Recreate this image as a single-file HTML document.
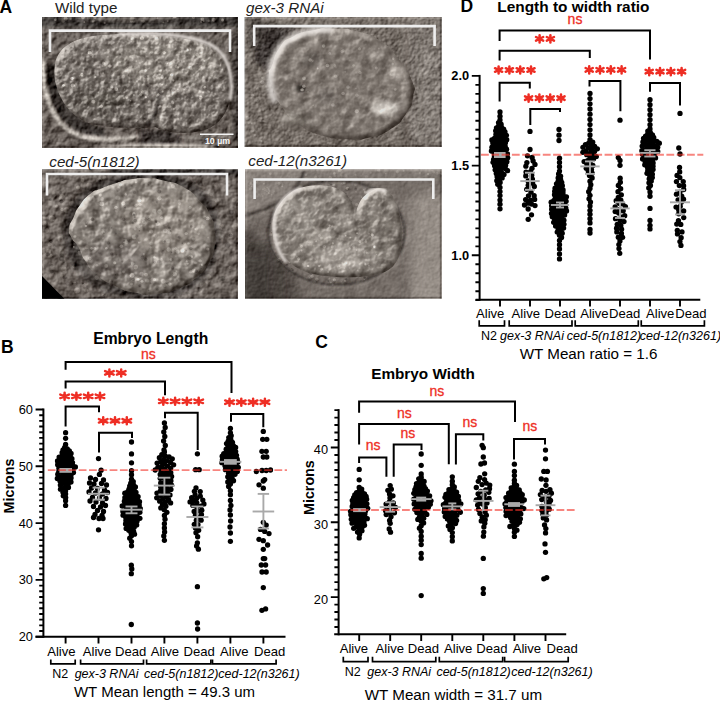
<!DOCTYPE html>
<html><head><meta charset="utf-8"><title>Embryo measurements</title>
<style>
html,body{margin:0;padding:0;background:#fff;}
body{width:720px;height:704px;overflow:hidden;}
svg{display:block;font-family:"Liberation Sans", sans-serif;}
</style></head>
<body>
<svg width="720" height="704" viewBox="0 0 720 704">
<rect width="720" height="704" fill="#fff"/>
<defs><filter id="d1" filterUnits="userSpaceOnUse" x="42" y="17" width="196" height="131" color-interpolation-filters="sRGB"><feColorMatrix in="SourceGraphic" type="luminanceToAlpha" result="lum"/><feGaussianBlur in="lum" stdDeviation="1.2" result="lumb"/><feTurbulence type="fractalNoise" baseFrequency="0.16" numOctaves="3" seed="3" result="noise"/><feComposite in="noise" in2="lumb" operator="arithmetic" k1="0" k2="0.35" k3="0.6" k4="0" result="h"/><feDiffuseLighting in="h" surfaceScale="3" diffuseConstant="1" lighting-color="#fff" result="lit"><feDistantLight azimuth="225" elevation="45"/></feDiffuseLighting><feComposite in="SourceGraphic" in2="lit" operator="arithmetic" k1="0" k2="1" k3="0.9" k4="-0.6364" result="s1"/><feTurbulence type="fractalNoise" baseFrequency="0.09" numOctaves="3" seed="53" result="mn"/><feColorMatrix in="mn" type="matrix" values="1 0 0 0 0  1 0 0 0 0  1 0 0 0 0  0 0 0 0 1" result="mg"/><feComposite in="s1" in2="mg" operator="arithmetic" k1="0" k2="1" k3="0.35" k4="-0.1750"/><feComponentTransfer><feFuncR type="linear" slope="0.88"/><feFuncG type="linear" slope="0.88"/><feFuncB type="linear" slope="0.867"/></feComponentTransfer></filter><filter id="e1" filterUnits="userSpaceOnUse" x="42" y="17" width="196" height="131" color-interpolation-filters="sRGB"><feGaussianBlur in="SourceAlpha" stdDeviation="2.5" result="ab"/><feTurbulence type="fractalNoise" baseFrequency="0.14" numOctaves="3" seed="4" result="noise"/><feComposite in="noise" in2="ab" operator="arithmetic" k1="0" k2="0.4" k3="0.7" k4="0" result="h"/><feDiffuseLighting in="h" surfaceScale="4.5" diffuseConstant="1" lighting-color="#fff" result="lit"><feDistantLight azimuth="225" elevation="40"/></feDiffuseLighting><feComponentTransfer in="lit" result="lit2"><feFuncR type="table" tableValues="0.354 0.382 0.410 0.438 0.466 0.494 0.522 0.550 0.579 0.607 0.635 0.701 0.782 0.863 0.945 1.026 1.107"/><feFuncG type="table" tableValues="0.354 0.382 0.410 0.438 0.466 0.494 0.522 0.550 0.579 0.607 0.635 0.701 0.782 0.863 0.945 1.026 1.107"/><feFuncB type="table" tableValues="0.354 0.382 0.410 0.438 0.466 0.494 0.522 0.550 0.579 0.607 0.635 0.701 0.782 0.863 0.945 1.026 1.107"/></feComponentTransfer><feFlood flood-color="#857d78" result="fl"/><feComposite in="SourceGraphic" in2="fl" operator="over" result="srcO"/><feComposite in="srcO" in2="lit2" operator="arithmetic" k1="0" k2="1" k3="1.0" k4="-0.6428" result="s1"/><feTurbulence type="fractalNoise" baseFrequency="0.12" numOctaves="3" seed="54" result="mn"/><feColorMatrix in="mn" type="matrix" values="1 0 0 0 0  1 0 0 0 0  1 0 0 0 0  0 0 0 0 1" result="mg"/><feComposite in="s1" in2="mg" operator="arithmetic" k1="0" k2="1" k3="0.5" k4="-0.2500" result="s2"/><feComponentTransfer in="s2" result="s3"><feFuncR type="linear" slope="0.88"/><feFuncG type="linear" slope="0.88"/><feFuncB type="linear" slope="0.867"/></feComponentTransfer><feComposite in="s3" in2="SourceAlpha" operator="in"/></filter><filter id="d2" filterUnits="userSpaceOnUse" x="244.6" y="17" width="197.2" height="130" color-interpolation-filters="sRGB"><feColorMatrix in="SourceGraphic" type="luminanceToAlpha" result="lum"/><feGaussianBlur in="lum" stdDeviation="1.2" result="lumb"/><feTurbulence type="fractalNoise" baseFrequency="0.3" numOctaves="3" seed="5" result="noise"/><feComposite in="noise" in2="lumb" operator="arithmetic" k1="0" k2="0.22" k3="0.6" k4="0" result="h"/><feDiffuseLighting in="h" surfaceScale="3" diffuseConstant="1" lighting-color="#fff" result="lit"><feDistantLight azimuth="225" elevation="45"/></feDiffuseLighting><feComposite in="SourceGraphic" in2="lit" operator="arithmetic" k1="0" k2="1" k3="0.9" k4="-0.6364" result="s1"/><feTurbulence type="fractalNoise" baseFrequency="0.09" numOctaves="3" seed="55" result="mn"/><feColorMatrix in="mn" type="matrix" values="1 0 0 0 0  1 0 0 0 0  1 0 0 0 0  0 0 0 0 1" result="mg"/><feComposite in="s1" in2="mg" operator="arithmetic" k1="0" k2="1" k3="0.35" k4="-0.1750"/><feComponentTransfer><feFuncR type="linear" slope="0.88"/><feFuncG type="linear" slope="0.88"/><feFuncB type="linear" slope="0.867"/></feComponentTransfer></filter><filter id="e2" filterUnits="userSpaceOnUse" x="244.6" y="17" width="197.2" height="130" color-interpolation-filters="sRGB"><feGaussianBlur in="SourceAlpha" stdDeviation="2.5" result="ab"/><feTurbulence type="fractalNoise" baseFrequency="0.09" numOctaves="3" seed="6" result="noise"/><feComposite in="noise" in2="ab" operator="arithmetic" k1="0" k2="0.2" k3="0.7" k4="0" result="h"/><feDiffuseLighting in="h" surfaceScale="4.5" diffuseConstant="1" lighting-color="#fff" result="lit"><feDistantLight azimuth="225" elevation="40"/></feDiffuseLighting><feComponentTransfer in="lit" result="lit2"><feFuncR type="table" tableValues="0.386 0.411 0.436 0.461 0.486 0.511 0.536 0.561 0.586 0.611 0.636 0.701 0.782 0.863 0.945 1.026 1.107"/><feFuncG type="table" tableValues="0.386 0.411 0.436 0.461 0.486 0.511 0.536 0.561 0.586 0.611 0.636 0.701 0.782 0.863 0.945 1.026 1.107"/><feFuncB type="table" tableValues="0.386 0.411 0.436 0.461 0.486 0.511 0.536 0.561 0.586 0.611 0.636 0.701 0.782 0.863 0.945 1.026 1.107"/></feComponentTransfer><feFlood flood-color="#8d847e" result="fl"/><feComposite in="SourceGraphic" in2="fl" operator="over" result="srcO"/><feComposite in="srcO" in2="lit2" operator="arithmetic" k1="0" k2="1" k3="1.0" k4="-0.6428" result="s1"/><feTurbulence type="fractalNoise" baseFrequency="0.1" numOctaves="3" seed="56" result="mn"/><feColorMatrix in="mn" type="matrix" values="1 0 0 0 0  1 0 0 0 0  1 0 0 0 0  0 0 0 0 1" result="mg"/><feComposite in="s1" in2="mg" operator="arithmetic" k1="0" k2="1" k3="0.4" k4="-0.2000" result="s2"/><feComponentTransfer in="s2" result="s3"><feFuncR type="linear" slope="0.88"/><feFuncG type="linear" slope="0.88"/><feFuncB type="linear" slope="0.867"/></feComponentTransfer><feComposite in="s3" in2="SourceAlpha" operator="in"/></filter><filter id="d3" filterUnits="userSpaceOnUse" x="42" y="169.2" width="196" height="129.5" color-interpolation-filters="sRGB"><feColorMatrix in="SourceGraphic" type="luminanceToAlpha" result="lum"/><feGaussianBlur in="lum" stdDeviation="1.2" result="lumb"/><feTurbulence type="fractalNoise" baseFrequency="0.11" numOctaves="3" seed="8" result="noise"/><feComposite in="noise" in2="lumb" operator="arithmetic" k1="0" k2="0.5" k3="0.6" k4="0" result="h"/><feDiffuseLighting in="h" surfaceScale="3" diffuseConstant="1" lighting-color="#fff" result="lit"><feDistantLight azimuth="225" elevation="45"/></feDiffuseLighting><feComposite in="SourceGraphic" in2="lit" operator="arithmetic" k1="0" k2="1" k3="0.9" k4="-0.6364" result="s1"/><feTurbulence type="fractalNoise" baseFrequency="0.09" numOctaves="3" seed="58" result="mn"/><feColorMatrix in="mn" type="matrix" values="1 0 0 0 0  1 0 0 0 0  1 0 0 0 0  0 0 0 0 1" result="mg"/><feComposite in="s1" in2="mg" operator="arithmetic" k1="0" k2="1" k3="0.45" k4="-0.2250"/><feComponentTransfer><feFuncR type="linear" slope="0.88"/><feFuncG type="linear" slope="0.88"/><feFuncB type="linear" slope="0.867"/></feComponentTransfer></filter><filter id="e3" filterUnits="userSpaceOnUse" x="42" y="169.2" width="196" height="129.5" color-interpolation-filters="sRGB"><feGaussianBlur in="SourceAlpha" stdDeviation="2.5" result="ab"/><feTurbulence type="fractalNoise" baseFrequency="0.075" numOctaves="3" seed="9" result="noise"/><feComposite in="noise" in2="ab" operator="arithmetic" k1="0" k2="0.5" k3="0.7" k4="0" result="h"/><feDiffuseLighting in="h" surfaceScale="4.5" diffuseConstant="1" lighting-color="#fff" result="lit"><feDistantLight azimuth="225" elevation="40"/></feDiffuseLighting><feComponentTransfer in="lit" result="lit2"><feFuncR type="table" tableValues="0.321 0.353 0.384 0.415 0.446 0.478 0.509 0.540 0.571 0.603 0.634 0.701 0.782 0.863 0.945 1.026 1.107"/><feFuncG type="table" tableValues="0.321 0.353 0.384 0.415 0.446 0.478 0.509 0.540 0.571 0.603 0.634 0.701 0.782 0.863 0.945 1.026 1.107"/><feFuncB type="table" tableValues="0.321 0.353 0.384 0.415 0.446 0.478 0.509 0.540 0.571 0.603 0.634 0.701 0.782 0.863 0.945 1.026 1.107"/></feComponentTransfer><feFlood flood-color="#958d87" result="fl"/><feComposite in="SourceGraphic" in2="fl" operator="over" result="srcO"/><feComposite in="srcO" in2="lit2" operator="arithmetic" k1="0" k2="1" k3="1.0" k4="-0.6428" result="s1"/><feTurbulence type="fractalNoise" baseFrequency="0.09" numOctaves="3" seed="59" result="mn"/><feColorMatrix in="mn" type="matrix" values="1 0 0 0 0  1 0 0 0 0  1 0 0 0 0  0 0 0 0 1" result="mg"/><feComposite in="s1" in2="mg" operator="arithmetic" k1="0" k2="1" k3="0.55" k4="-0.2750" result="s2"/><feComponentTransfer in="s2" result="s3"><feFuncR type="linear" slope="0.88"/><feFuncG type="linear" slope="0.88"/><feFuncB type="linear" slope="0.867"/></feComponentTransfer><feComposite in="s3" in2="SourceAlpha" operator="in"/></filter><filter id="d4" filterUnits="userSpaceOnUse" x="245" y="169.2" width="196.8" height="129.5" color-interpolation-filters="sRGB"><feColorMatrix in="SourceGraphic" type="luminanceToAlpha" result="lum"/><feGaussianBlur in="lum" stdDeviation="1.2" result="lumb"/><feTurbulence type="fractalNoise" baseFrequency="0.3" numOctaves="3" seed="11" result="noise"/><feComposite in="noise" in2="lumb" operator="arithmetic" k1="0" k2="0.08" k3="0.6" k4="0" result="h"/><feDiffuseLighting in="h" surfaceScale="3" diffuseConstant="1" lighting-color="#fff" result="lit"><feDistantLight azimuth="225" elevation="45"/></feDiffuseLighting><feComposite in="SourceGraphic" in2="lit" operator="arithmetic" k1="0" k2="1" k3="0.9" k4="-0.6364" result="s1"/><feTurbulence type="fractalNoise" baseFrequency="0.09" numOctaves="3" seed="61" result="mn"/><feColorMatrix in="mn" type="matrix" values="1 0 0 0 0  1 0 0 0 0  1 0 0 0 0  0 0 0 0 1" result="mg"/><feComposite in="s1" in2="mg" operator="arithmetic" k1="0" k2="1" k3="0.15" k4="-0.0750"/><feComponentTransfer><feFuncR type="linear" slope="0.88"/><feFuncG type="linear" slope="0.88"/><feFuncB type="linear" slope="0.867"/></feComponentTransfer></filter><filter id="e4" filterUnits="userSpaceOnUse" x="245" y="169.2" width="196.8" height="129.5" color-interpolation-filters="sRGB"><feGaussianBlur in="SourceAlpha" stdDeviation="2.5" result="ab"/><feTurbulence type="fractalNoise" baseFrequency="0.1" numOctaves="3" seed="12" result="noise"/><feComposite in="noise" in2="ab" operator="arithmetic" k1="0" k2="0.3" k3="0.7" k4="0" result="h"/><feDiffuseLighting in="h" surfaceScale="4.5" diffuseConstant="1" lighting-color="#fff" result="lit"><feDistantLight azimuth="225" elevation="40"/></feDiffuseLighting><feComponentTransfer in="lit" result="lit2"><feFuncR type="table" tableValues="0.386 0.411 0.436 0.461 0.486 0.511 0.536 0.561 0.586 0.611 0.636 0.701 0.782 0.863 0.945 1.026 1.107"/><feFuncG type="table" tableValues="0.386 0.411 0.436 0.461 0.486 0.511 0.536 0.561 0.586 0.611 0.636 0.701 0.782 0.863 0.945 1.026 1.107"/><feFuncB type="table" tableValues="0.386 0.411 0.436 0.461 0.486 0.511 0.536 0.561 0.586 0.611 0.636 0.701 0.782 0.863 0.945 1.026 1.107"/></feComponentTransfer><feFlood flood-color="#9e9690" result="fl"/><feComposite in="SourceGraphic" in2="fl" operator="over" result="srcO"/><feComposite in="srcO" in2="lit2" operator="arithmetic" k1="0" k2="1" k3="1.0" k4="-0.6428" result="s1"/><feTurbulence type="fractalNoise" baseFrequency="0.1" numOctaves="3" seed="62" result="mn"/><feColorMatrix in="mn" type="matrix" values="1 0 0 0 0  1 0 0 0 0  1 0 0 0 0  0 0 0 0 1" result="mg"/><feComposite in="s1" in2="mg" operator="arithmetic" k1="0" k2="1" k3="0.45" k4="-0.2250" result="s2"/><feComponentTransfer in="s2" result="s3"><feFuncR type="linear" slope="0.88"/><feFuncG type="linear" slope="0.88"/><feFuncB type="linear" slope="0.867"/></feComponentTransfer><feComposite in="s3" in2="SourceAlpha" operator="in"/></filter><filter id="b1" x="-20%" y="-20%" width="140%" height="140%"><feGaussianBlur stdDeviation="1.2"/></filter><filter id="b2" x="-20%" y="-20%" width="140%" height="140%"><feGaussianBlur stdDeviation="2"/></filter><filter id="b3" x="-30%" y="-30%" width="160%" height="160%"><feGaussianBlur stdDeviation="3"/></filter><filter id="b6" x="-40%" y="-40%" width="180%" height="180%"><feGaussianBlur stdDeviation="6"/></filter><clipPath id="c1"><rect x="42" y="17" width="196" height="131"/></clipPath><clipPath id="c2"><rect x="244.6" y="17" width="197.2" height="130"/></clipPath><clipPath id="c3"><rect x="42" y="169.2" width="196" height="129.5"/></clipPath><clipPath id="c4"><rect x="245" y="169.2" width="196.8" height="129.5"/></clipPath></defs><g clip-path="url(#c1)"><g filter="url(#d1)"><rect x="42" y="17" width="196" height="131" fill="#776e69"/><rect x="30" y="8" width="220" height="19" fill="#433d3a" filter="url(#b2)"/><path d="M70,17 C100,23 150,24 190,17 Z" fill="#8a817c" filter="url(#b2)"/><circle cx="131.4" cy="20.5" r="1.9" fill="#a59c96" fill-opacity="0.59"/><circle cx="141.4" cy="20.7" r="1.0" fill="#a59c96" fill-opacity="0.60"/><circle cx="163.4" cy="22.3" r="0.9" fill="#a59c96" fill-opacity="0.52"/><circle cx="174.8" cy="16.3" r="2.0" fill="#a59c96" fill-opacity="0.79"/><circle cx="167.7" cy="20.9" r="1.0" fill="#a59c96" fill-opacity="0.41"/><circle cx="145.1" cy="16.5" r="1.0" fill="#a59c96" fill-opacity="0.50"/><circle cx="55.4" cy="19.7" r="1.3" fill="#a59c96" fill-opacity="0.74"/><circle cx="143.4" cy="21.1" r="1.4" fill="#a59c96" fill-opacity="0.66"/><circle cx="132.3" cy="18.2" r="2.0" fill="#a59c96" fill-opacity="0.80"/><circle cx="201.2" cy="21.7" r="1.2" fill="#a59c96" fill-opacity="0.49"/><circle cx="102.0" cy="16.6" r="1.7" fill="#a59c96" fill-opacity="0.56"/><circle cx="202.4" cy="19.1" r="1.9" fill="#a59c96" fill-opacity="0.74"/><circle cx="213.8" cy="19.8" r="2.0" fill="#a59c96" fill-opacity="0.56"/><circle cx="63.1" cy="21.0" r="1.7" fill="#a59c96" fill-opacity="0.51"/><circle cx="65.7" cy="18.7" r="2.0" fill="#a59c96" fill-opacity="0.70"/><circle cx="71.2" cy="18.0" r="0.9" fill="#a59c96" fill-opacity="0.42"/><circle cx="193.5" cy="17.4" r="1.5" fill="#a59c96" fill-opacity="0.58"/><circle cx="84.3" cy="21.9" r="1.0" fill="#a59c96" fill-opacity="0.66"/><circle cx="71.0" cy="19.4" r="1.1" fill="#a59c96" fill-opacity="0.51"/><circle cx="104.7" cy="23.1" r="1.1" fill="#a59c96" fill-opacity="0.56"/><circle cx="203.8" cy="21.1" r="0.9" fill="#a59c96" fill-opacity="0.80"/><circle cx="88.4" cy="18.1" r="1.7" fill="#a59c96" fill-opacity="0.53"/><circle cx="103.3" cy="16.6" r="0.9" fill="#a59c96" fill-opacity="0.63"/><circle cx="93.7" cy="20.8" r="1.2" fill="#a59c96" fill-opacity="0.58"/><circle cx="222.6" cy="19.9" r="1.5" fill="#a59c96" fill-opacity="0.75"/><circle cx="82.9" cy="17.2" r="1.9" fill="#a59c96" fill-opacity="0.73"/><circle cx="94.9" cy="17.5" r="1.7" fill="#a59c96" fill-opacity="0.78"/><circle cx="208.8" cy="20.8" r="1.3" fill="#a59c96" fill-opacity="0.44"/><circle cx="92.9" cy="21.6" r="1.1" fill="#a59c96" fill-opacity="0.73"/><circle cx="157.4" cy="18.3" r="1.0" fill="#a59c96" fill-opacity="0.69"/><path d="M47,66 C46,92 54,112 70,126 C80,133 92,136 104,136 L104,128 C88,126 74,116 64,100 C58,90 56,78 56,64 Z" fill="#3a3431" filter="url(#b1)"/><path d="M44,64 C43,92 51,116 68,130 C82,140 100,141 125,139 C138,138 146,137 152,136" fill="none" stroke="#d4ccc6" stroke-width="5" stroke-linecap="round" filter="url(#b1)"/><path d="M150,140 C180,138 210,137 238,135" fill="none" stroke="#8f8782" stroke-width="4" filter="url(#b1)"/><path d="M140,128 C150,134 165,138 180,136 L180,146 L140,146 Z" fill="#3f3936" filter="url(#b2)"/><path d="M80,152 C110,143 170,141 215,147 L215,156 L80,156 Z" fill="#d0c8c2" filter="url(#b1)"/><ellipse cx="160" cy="136" rx="14" ry="6" fill="#4a4340" filter="url(#b2)"/><rect x="232" y="30" width="10" height="110" fill="#5d5652" filter="url(#b2)"/></g><g filter="url(#e1)"><path d="M55,64 C58,48 72,38 100,35 C135,32 180,35 205,44 C222,52 231,68 231,88 C231,106 224,120 210,128 C196,134 178,134 166,131 C162,131 158,128 155,127 C140,129 110,128 92,124 C74,119 62,104 57,88 C54,80 54,72 55,64 Z" fill="#857d78"/><ellipse cx="165" cy="62" rx="60" ry="24" fill="#9d958f" filter="url(#b6)"/><ellipse cx="105" cy="100" rx="40" ry="22" fill="#77706b" filter="url(#b6)"/><path d="M160,128 C161,112 164,98 174,92 C184,87 196,88 204,94" fill="none" stroke="#d6cec8" stroke-width="2.5" filter="url(#b1)"/><path d="M148,126 C156,116 159,104 160,92" fill="none" stroke="#4a433f" stroke-width="2.5" filter="url(#b1)"/><circle cx="149.5" cy="101.8" r="1.5" fill="#ddd5cf" fill-opacity="0.45"/><circle cx="131.3" cy="41.6" r="0.9" fill="#ddd5cf" fill-opacity="0.50"/><circle cx="151.5" cy="47.0" r="1.2" fill="#ddd5cf" fill-opacity="0.79"/><circle cx="170.6" cy="81.4" r="0.9" fill="#ddd5cf" fill-opacity="0.32"/><circle cx="63.4" cy="85.4" r="1.3" fill="#ddd5cf" fill-opacity="0.70"/><circle cx="72.0" cy="78.5" r="1.7" fill="#ddd5cf" fill-opacity="0.80"/><circle cx="177.9" cy="90.5" r="1.7" fill="#ddd5cf" fill-opacity="0.80"/><circle cx="116.3" cy="89.1" r="1.9" fill="#ddd5cf" fill-opacity="0.78"/><circle cx="126.7" cy="97.1" r="1.8" fill="#ddd5cf" fill-opacity="0.62"/><circle cx="160.0" cy="66.1" r="1.5" fill="#ddd5cf" fill-opacity="0.63"/><circle cx="72.8" cy="85.6" r="2.0" fill="#ddd5cf" fill-opacity="0.78"/><circle cx="176.5" cy="66.5" r="1.7" fill="#ddd5cf" fill-opacity="0.62"/><circle cx="130.5" cy="100.7" r="0.8" fill="#ddd5cf" fill-opacity="0.71"/><circle cx="64.8" cy="82.7" r="1.3" fill="#ddd5cf" fill-opacity="0.43"/><circle cx="171.7" cy="74.8" r="1.5" fill="#ddd5cf" fill-opacity="0.81"/><circle cx="108.2" cy="88.5" r="1.0" fill="#ddd5cf" fill-opacity="0.39"/><circle cx="204.9" cy="87.2" r="1.3" fill="#ddd5cf" fill-opacity="0.79"/><circle cx="112.3" cy="87.6" r="1.0" fill="#ddd5cf" fill-opacity="0.54"/><circle cx="200.8" cy="66.2" r="1.5" fill="#ddd5cf" fill-opacity="0.47"/><circle cx="81.8" cy="74.7" r="1.8" fill="#ddd5cf" fill-opacity="0.77"/><circle cx="173.8" cy="109.2" r="1.1" fill="#ddd5cf" fill-opacity="0.39"/><circle cx="132.1" cy="57.9" r="1.0" fill="#ddd5cf" fill-opacity="0.53"/><circle cx="160.1" cy="74.5" r="1.1" fill="#ddd5cf" fill-opacity="0.76"/><circle cx="217.1" cy="71.4" r="0.8" fill="#ddd5cf" fill-opacity="0.32"/><circle cx="173.4" cy="80.4" r="1.1" fill="#ddd5cf" fill-opacity="0.74"/><circle cx="132.8" cy="38.9" r="1.8" fill="#ddd5cf" fill-opacity="0.43"/><circle cx="160.7" cy="70.9" r="1.5" fill="#ddd5cf" fill-opacity="0.66"/><circle cx="169.5" cy="52.1" r="1.3" fill="#ddd5cf" fill-opacity="0.40"/><circle cx="61.7" cy="72.9" r="1.6" fill="#ddd5cf" fill-opacity="0.40"/><circle cx="103.6" cy="63.3" r="1.6" fill="#ddd5cf" fill-opacity="0.59"/><circle cx="158.3" cy="94.5" r="1.2" fill="#ddd5cf" fill-opacity="0.74"/><circle cx="209.2" cy="91.9" r="0.9" fill="#ddd5cf" fill-opacity="0.55"/><circle cx="160.1" cy="106.2" r="1.2" fill="#ddd5cf" fill-opacity="0.61"/><circle cx="200.7" cy="97.6" r="1.9" fill="#ddd5cf" fill-opacity="0.56"/><circle cx="164.2" cy="52.6" r="1.6" fill="#ddd5cf" fill-opacity="0.75"/><circle cx="162.7" cy="91.5" r="1.0" fill="#ddd5cf" fill-opacity="0.79"/><circle cx="145.9" cy="97.1" r="1.1" fill="#ddd5cf" fill-opacity="0.80"/><circle cx="196.9" cy="63.5" r="0.8" fill="#ddd5cf" fill-opacity="0.54"/><circle cx="148.0" cy="95.4" r="1.3" fill="#ddd5cf" fill-opacity="0.32"/><circle cx="188.0" cy="50.1" r="1.1" fill="#ddd5cf" fill-opacity="0.73"/><circle cx="142.6" cy="92.0" r="1.8" fill="#ddd5cf" fill-opacity="0.68"/><circle cx="211.3" cy="74.4" r="1.9" fill="#ddd5cf" fill-opacity="0.35"/><circle cx="95.4" cy="77.0" r="1.1" fill="#ddd5cf" fill-opacity="0.70"/><circle cx="162.2" cy="76.7" r="1.8" fill="#ddd5cf" fill-opacity="0.61"/><circle cx="109.9" cy="66.0" r="1.8" fill="#ddd5cf" fill-opacity="0.80"/><circle cx="93.3" cy="101.7" r="2.0" fill="#ddd5cf" fill-opacity="0.59"/><circle cx="151.7" cy="52.3" r="1.4" fill="#ddd5cf" fill-opacity="0.58"/><circle cx="156.8" cy="39.1" r="2.0" fill="#ddd5cf" fill-opacity="0.58"/><circle cx="124.1" cy="97.9" r="1.4" fill="#ddd5cf" fill-opacity="0.57"/><circle cx="170.6" cy="42.0" r="1.4" fill="#ddd5cf" fill-opacity="0.53"/><circle cx="103.1" cy="73.0" r="0.9" fill="#ddd5cf" fill-opacity="0.54"/><circle cx="136.2" cy="61.1" r="0.9" fill="#ddd5cf" fill-opacity="0.64"/><circle cx="91.1" cy="54.3" r="1.6" fill="#ddd5cf" fill-opacity="0.48"/><circle cx="116.9" cy="84.1" r="0.8" fill="#ddd5cf" fill-opacity="0.70"/><circle cx="79.6" cy="75.8" r="1.0" fill="#ddd5cf" fill-opacity="0.41"/><circle cx="144.9" cy="70.2" r="1.2" fill="#ddd5cf" fill-opacity="0.53"/><circle cx="144.7" cy="49.1" r="1.0" fill="#ddd5cf" fill-opacity="0.65"/><circle cx="162.2" cy="77.3" r="1.8" fill="#ddd5cf" fill-opacity="0.64"/><circle cx="197.1" cy="54.7" r="1.7" fill="#ddd5cf" fill-opacity="0.75"/><circle cx="204.4" cy="61.0" r="1.1" fill="#ddd5cf" fill-opacity="0.81"/><circle cx="98.3" cy="92.2" r="1.0" fill="#ddd5cf" fill-opacity="0.35"/><circle cx="193.1" cy="69.0" r="1.7" fill="#ddd5cf" fill-opacity="0.37"/><circle cx="124.4" cy="89.1" r="0.7" fill="#ddd5cf" fill-opacity="0.41"/><circle cx="169.2" cy="106.3" r="2.0" fill="#ddd5cf" fill-opacity="0.36"/><circle cx="140.9" cy="94.6" r="1.4" fill="#ddd5cf" fill-opacity="0.68"/><circle cx="148.3" cy="76.1" r="1.4" fill="#ddd5cf" fill-opacity="0.38"/><circle cx="89.5" cy="52.5" r="1.8" fill="#ddd5cf" fill-opacity="0.84"/><circle cx="133.9" cy="95.1" r="1.1" fill="#ddd5cf" fill-opacity="0.56"/><circle cx="142.4" cy="69.7" r="1.5" fill="#ddd5cf" fill-opacity="0.31"/><circle cx="172.2" cy="101.2" r="0.9" fill="#ddd5cf" fill-opacity="0.55"/><circle cx="178.3" cy="67.8" r="1.0" fill="#ddd5cf" fill-opacity="0.39"/><circle cx="142.0" cy="38.2" r="1.9" fill="#ddd5cf" fill-opacity="0.74"/><circle cx="172.7" cy="102.4" r="1.5" fill="#ddd5cf" fill-opacity="0.52"/><circle cx="155.9" cy="75.3" r="2.0" fill="#ddd5cf" fill-opacity="0.74"/><circle cx="101.3" cy="106.3" r="1.7" fill="#ddd5cf" fill-opacity="0.73"/><circle cx="190.3" cy="67.8" r="1.9" fill="#ddd5cf" fill-opacity="0.78"/><circle cx="171.2" cy="95.3" r="1.7" fill="#ddd5cf" fill-opacity="0.52"/><circle cx="175.6" cy="42.4" r="1.1" fill="#ddd5cf" fill-opacity="0.56"/><circle cx="162.2" cy="84.4" r="1.0" fill="#ddd5cf" fill-opacity="0.82"/><circle cx="166.6" cy="62.7" r="1.6" fill="#ddd5cf" fill-opacity="0.61"/><circle cx="145.3" cy="76.6" r="1.6" fill="#5e5652" fill-opacity="0.49"/><circle cx="172.2" cy="104.9" r="1.6" fill="#5e5652" fill-opacity="0.31"/><circle cx="158.5" cy="103.1" r="0.9" fill="#5e5652" fill-opacity="0.42"/><circle cx="120.1" cy="54.5" r="0.9" fill="#5e5652" fill-opacity="0.57"/><circle cx="148.0" cy="85.6" r="1.6" fill="#5e5652" fill-opacity="0.47"/><circle cx="155.6" cy="104.7" r="0.6" fill="#5e5652" fill-opacity="0.58"/><circle cx="85.6" cy="82.9" r="0.8" fill="#5e5652" fill-opacity="0.45"/><circle cx="157.8" cy="51.4" r="1.5" fill="#5e5652" fill-opacity="0.43"/><circle cx="144.3" cy="92.4" r="1.0" fill="#5e5652" fill-opacity="0.39"/><circle cx="164.8" cy="89.6" r="0.9" fill="#5e5652" fill-opacity="0.51"/><circle cx="85.1" cy="104.4" r="1.0" fill="#5e5652" fill-opacity="0.57"/><circle cx="128.7" cy="83.3" r="1.6" fill="#5e5652" fill-opacity="0.37"/><circle cx="143.7" cy="118.2" r="1.3" fill="#5e5652" fill-opacity="0.44"/><circle cx="156.6" cy="55.7" r="1.2" fill="#5e5652" fill-opacity="0.44"/><circle cx="144.5" cy="56.4" r="1.0" fill="#5e5652" fill-opacity="0.50"/><circle cx="132.9" cy="66.9" r="1.2" fill="#5e5652" fill-opacity="0.43"/><circle cx="184.5" cy="87.3" r="1.6" fill="#5e5652" fill-opacity="0.59"/><circle cx="177.5" cy="65.1" r="0.7" fill="#5e5652" fill-opacity="0.57"/><circle cx="185.5" cy="94.5" r="1.0" fill="#5e5652" fill-opacity="0.38"/><circle cx="169.6" cy="89.9" r="1.2" fill="#5e5652" fill-opacity="0.49"/><circle cx="180.5" cy="61.4" r="0.8" fill="#5e5652" fill-opacity="0.59"/><circle cx="103.4" cy="79.3" r="1.2" fill="#5e5652" fill-opacity="0.33"/><circle cx="146.7" cy="52.5" r="0.7" fill="#5e5652" fill-opacity="0.50"/><circle cx="148.1" cy="95.0" r="1.0" fill="#5e5652" fill-opacity="0.44"/><circle cx="93.7" cy="73.1" r="1.3" fill="#5e5652" fill-opacity="0.55"/><circle cx="189.5" cy="94.4" r="1.4" fill="#5e5652" fill-opacity="0.36"/><circle cx="127.9" cy="66.6" r="1.4" fill="#5e5652" fill-opacity="0.41"/><circle cx="112.1" cy="88.7" r="1.3" fill="#5e5652" fill-opacity="0.58"/><circle cx="128.4" cy="75.1" r="0.7" fill="#5e5652" fill-opacity="0.56"/><circle cx="150.3" cy="83.8" r="1.3" fill="#5e5652" fill-opacity="0.39"/><circle cx="94.1" cy="97.3" r="0.7" fill="#5e5652" fill-opacity="0.39"/><circle cx="176.0" cy="99.7" r="0.9" fill="#5e5652" fill-opacity="0.34"/><circle cx="117.2" cy="102.2" r="1.0" fill="#5e5652" fill-opacity="0.34"/><circle cx="173.5" cy="90.3" r="1.5" fill="#5e5652" fill-opacity="0.58"/><circle cx="206.1" cy="80.3" r="1.4" fill="#5e5652" fill-opacity="0.39"/><circle cx="110.8" cy="77.4" r="1.5" fill="#5e5652" fill-opacity="0.57"/><circle cx="99.7" cy="74.5" r="1.0" fill="#5e5652" fill-opacity="0.41"/><circle cx="123.3" cy="76.5" r="0.8" fill="#5e5652" fill-opacity="0.47"/><circle cx="187.5" cy="88.1" r="1.4" fill="#5e5652" fill-opacity="0.47"/><circle cx="88.3" cy="104.7" r="1.5" fill="#5e5652" fill-opacity="0.38"/></g><path d="M118,34 C160,32 200,36 216,48 C230,60 233,80 230,100" fill="none" stroke="#ece6e1" stroke-width="3.5" stroke-opacity="0.8" filter="url(#b1)"/></g><g clip-path="url(#c2)"><g filter="url(#d2)"><rect x="244.6" y="17" width="197.2" height="130" fill="#867d77"/><rect x="412" y="17" width="40" height="130" fill="#958d88" filter="url(#b6)"/><path d="M255,27 L300,27 C285,35 274,48 268,70 L255,62 Z" fill="#48423f" filter="url(#b2)"/><ellipse cx="256" cy="32" rx="9" ry="14" fill="#5a534f" filter="url(#b3)"/><circle cx="261.2" cy="120.7" r="1.6" fill="#aaa29c" fill-opacity="0.46"/><circle cx="254.8" cy="131.1" r="1.6" fill="#aaa29c" fill-opacity="0.64"/><circle cx="263.9" cy="121.0" r="1.0" fill="#aaa29c" fill-opacity="0.58"/><circle cx="248.4" cy="122.7" r="1.2" fill="#aaa29c" fill-opacity="0.56"/><circle cx="262.3" cy="82.2" r="2.0" fill="#aaa29c" fill-opacity="0.78"/><circle cx="249.6" cy="104.8" r="1.0" fill="#aaa29c" fill-opacity="0.53"/><circle cx="265.9" cy="87.1" r="1.6" fill="#aaa29c" fill-opacity="0.42"/><circle cx="251.5" cy="131.5" r="1.3" fill="#aaa29c" fill-opacity="0.57"/><circle cx="265.1" cy="108.4" r="1.3" fill="#aaa29c" fill-opacity="0.41"/><circle cx="257.4" cy="100.7" r="1.6" fill="#aaa29c" fill-opacity="0.67"/><circle cx="249.6" cy="92.0" r="1.2" fill="#aaa29c" fill-opacity="0.60"/><circle cx="271.9" cy="110.0" r="0.8" fill="#aaa29c" fill-opacity="0.73"/><circle cx="259.8" cy="111.3" r="1.1" fill="#aaa29c" fill-opacity="0.57"/><circle cx="258.4" cy="128.5" r="0.9" fill="#aaa29c" fill-opacity="0.62"/><circle cx="251.7" cy="123.3" r="0.8" fill="#aaa29c" fill-opacity="0.51"/><circle cx="257.0" cy="119.3" r="0.9" fill="#aaa29c" fill-opacity="0.58"/><circle cx="252.7" cy="95.2" r="1.4" fill="#aaa29c" fill-opacity="0.78"/><circle cx="261.4" cy="141.0" r="1.0" fill="#aaa29c" fill-opacity="0.77"/><circle cx="257.7" cy="88.9" r="1.7" fill="#aaa29c" fill-opacity="0.76"/><circle cx="270.7" cy="99.2" r="1.1" fill="#aaa29c" fill-opacity="0.40"/><circle cx="247.3" cy="118.1" r="2.0" fill="#aaa29c" fill-opacity="0.80"/><circle cx="262.1" cy="77.6" r="1.2" fill="#aaa29c" fill-opacity="0.71"/><circle cx="272.6" cy="119.5" r="1.1" fill="#aaa29c" fill-opacity="0.61"/><circle cx="261.3" cy="118.6" r="1.1" fill="#aaa29c" fill-opacity="0.78"/><circle cx="255.3" cy="135.4" r="1.1" fill="#aaa29c" fill-opacity="0.78"/><circle cx="420.6" cy="123.3" r="1.4" fill="#aaa29c" fill-opacity="0.39"/><circle cx="411.4" cy="93.3" r="1.3" fill="#aaa29c" fill-opacity="0.58"/><circle cx="416.8" cy="92.4" r="1.1" fill="#aaa29c" fill-opacity="0.69"/><circle cx="422.4" cy="118.5" r="1.5" fill="#aaa29c" fill-opacity="0.68"/><circle cx="430.4" cy="104.4" r="1.3" fill="#aaa29c" fill-opacity="0.66"/><circle cx="431.6" cy="115.5" r="1.1" fill="#aaa29c" fill-opacity="0.45"/><circle cx="429.4" cy="114.3" r="0.8" fill="#aaa29c" fill-opacity="0.58"/><circle cx="421.4" cy="129.7" r="1.1" fill="#aaa29c" fill-opacity="0.34"/><circle cx="414.1" cy="97.2" r="1.5" fill="#aaa29c" fill-opacity="0.58"/><circle cx="421.7" cy="118.3" r="0.9" fill="#aaa29c" fill-opacity="0.51"/><circle cx="428.0" cy="102.8" r="1.0" fill="#aaa29c" fill-opacity="0.46"/><circle cx="412.9" cy="122.6" r="0.9" fill="#aaa29c" fill-opacity="0.34"/><circle cx="412.5" cy="123.3" r="1.4" fill="#aaa29c" fill-opacity="0.56"/><circle cx="437.4" cy="100.9" r="0.8" fill="#aaa29c" fill-opacity="0.50"/><circle cx="417.7" cy="88.2" r="1.3" fill="#aaa29c" fill-opacity="0.44"/><circle cx="409.5" cy="98.3" r="1.6" fill="#aaa29c" fill-opacity="0.30"/><circle cx="414.4" cy="95.0" r="1.0" fill="#aaa29c" fill-opacity="0.47"/><circle cx="420.0" cy="123.5" r="0.9" fill="#aaa29c" fill-opacity="0.49"/><circle cx="424.3" cy="133.3" r="1.0" fill="#aaa29c" fill-opacity="0.48"/><circle cx="434.2" cy="132.6" r="1.0" fill="#aaa29c" fill-opacity="0.52"/><circle cx="430.5" cy="102.9" r="1.3" fill="#aaa29c" fill-opacity="0.57"/><circle cx="438.9" cy="113.7" r="1.3" fill="#aaa29c" fill-opacity="0.44"/><circle cx="429.3" cy="97.9" r="1.2" fill="#aaa29c" fill-opacity="0.44"/><circle cx="412.3" cy="85.2" r="1.0" fill="#aaa29c" fill-opacity="0.52"/><circle cx="432.1" cy="95.4" r="1.5" fill="#aaa29c" fill-opacity="0.54"/></g><g filter="url(#e2)"><path d="M268.8,72.0C268.3,64.7 267.8,74.7 271.5,66.5C275.2,58.3 272.5,57.4 279.8,47.3C287.1,37.2 282.5,42.0 293.5,36.3C304.5,30.6 300.0,32.8 312.8,30.2C325.6,27.6 316.4,28.0 332.0,28.6C347.6,29.2 343.0,27.7 359.5,32.1C376.0,36.5 368.7,33.1 381.5,41.8C394.3,50.5 387.9,45.5 398.0,58.3C408.1,71.1 406.8,67.5 411.8,80.3C416.8,93.1 414.8,85.8 413.0,96.8C411.2,107.8 414.0,102.3 406.3,113.3C398.6,124.3 402.6,121.6 389.8,129.8C377.0,138.0 381.6,134.8 367.8,138.0C354.0,141.2 364.1,140.3 348.5,139.4C332.9,138.5 337.5,140.3 321.0,135.3C304.5,130.3 311.8,133.5 299.0,124.3C286.2,115.1 291.2,119.7 282.5,107.8C273.8,95.9 277.5,100.4 272.9,88.5C268.3,76.6 269.3,79.3 268.8,72.0Z" fill="#8d847e"/><ellipse cx="300.5" cy="88.5" rx="5" ry="4.2" fill="#4e4743" filter="url(#b1)"/><ellipse cx="312" cy="60" rx="10" ry="7" fill="#7b736e" filter="url(#b2)"/><ellipse cx="326" cy="96" rx="9" ry="7" fill="#7b736e" filter="url(#b2)"/><ellipse cx="296" cy="120" rx="14" ry="7" fill="#8a827c" filter="url(#b3)"/><ellipse cx="385" cy="108" rx="14" ry="7" fill="#e8e1dc" filter="url(#b2)"/><ellipse cx="398" cy="72" rx="10" ry="9" fill="#b9b0aa" filter="url(#b2)"/><circle cx="332.8" cy="104.8" r="1.9" fill="#cbc3bd" fill-opacity="0.46"/><circle cx="303.8" cy="86.3" r="1.8" fill="#cbc3bd" fill-opacity="0.60"/><circle cx="376.3" cy="68.0" r="1.5" fill="#cbc3bd" fill-opacity="0.43"/><circle cx="334.8" cy="65.4" r="1.3" fill="#cbc3bd" fill-opacity="0.50"/><circle cx="378.8" cy="48.6" r="1.0" fill="#cbc3bd" fill-opacity="0.43"/><circle cx="396.8" cy="76.8" r="0.9" fill="#cbc3bd" fill-opacity="0.72"/><circle cx="386.1" cy="100.7" r="1.2" fill="#cbc3bd" fill-opacity="0.67"/><circle cx="323.6" cy="46.0" r="1.8" fill="#cbc3bd" fill-opacity="0.72"/><circle cx="313.2" cy="105.4" r="0.8" fill="#cbc3bd" fill-opacity="0.45"/><circle cx="308.0" cy="92.3" r="1.2" fill="#cbc3bd" fill-opacity="0.40"/><circle cx="310.2" cy="60.0" r="1.8" fill="#cbc3bd" fill-opacity="0.60"/><circle cx="301.3" cy="89.8" r="1.4" fill="#cbc3bd" fill-opacity="0.52"/><circle cx="348.0" cy="87.1" r="1.8" fill="#cbc3bd" fill-opacity="0.55"/><circle cx="359.9" cy="72.4" r="1.6" fill="#cbc3bd" fill-opacity="0.49"/><circle cx="335.6" cy="76.3" r="1.7" fill="#cbc3bd" fill-opacity="0.44"/><circle cx="391.7" cy="74.3" r="1.8" fill="#cbc3bd" fill-opacity="0.65"/><circle cx="395.2" cy="89.6" r="1.3" fill="#cbc3bd" fill-opacity="0.50"/><circle cx="356.8" cy="95.3" r="1.8" fill="#cbc3bd" fill-opacity="0.36"/><circle cx="302.4" cy="89.8" r="1.5" fill="#cbc3bd" fill-opacity="0.78"/><circle cx="342.3" cy="51.5" r="1.7" fill="#cbc3bd" fill-opacity="0.51"/><circle cx="349.7" cy="60.3" r="1.1" fill="#cbc3bd" fill-opacity="0.34"/><circle cx="356.8" cy="111.2" r="2.0" fill="#cbc3bd" fill-opacity="0.68"/><circle cx="392.7" cy="64.0" r="1.2" fill="#cbc3bd" fill-opacity="0.76"/><circle cx="356.0" cy="88.5" r="0.8" fill="#cbc3bd" fill-opacity="0.41"/><circle cx="343.1" cy="93.5" r="1.8" fill="#cbc3bd" fill-opacity="0.68"/><circle cx="327.4" cy="65.5" r="1.8" fill="#cbc3bd" fill-opacity="0.79"/><circle cx="343.3" cy="50.6" r="1.5" fill="#cbc3bd" fill-opacity="0.57"/><circle cx="329.8" cy="53.4" r="1.3" fill="#cbc3bd" fill-opacity="0.61"/><circle cx="304.0" cy="78.3" r="1.9" fill="#cbc3bd" fill-opacity="0.67"/><circle cx="317.7" cy="68.5" r="0.9" fill="#cbc3bd" fill-opacity="0.67"/><circle cx="359.5" cy="48.8" r="1.5" fill="#cbc3bd" fill-opacity="0.60"/><circle cx="353.5" cy="65.3" r="1.2" fill="#cbc3bd" fill-opacity="0.48"/><circle cx="345.3" cy="71.8" r="1.0" fill="#cbc3bd" fill-opacity="0.50"/><circle cx="312.5" cy="60.8" r="1.2" fill="#cbc3bd" fill-opacity="0.47"/><circle cx="393.2" cy="58.7" r="1.2" fill="#cbc3bd" fill-opacity="0.63"/></g><path d="M274,100 C268,84 269,66 279,49 C288,37 305,30 330,29" fill="none" stroke="#efeae6" stroke-width="6" stroke-linecap="round" stroke-opacity="0.85" filter="url(#b2)"/></g><g clip-path="url(#c3)"><g filter="url(#d3)"><rect x="42" y="169.2" width="196" height="129.5" fill="#7d746f"/><circle cx="87.0" cy="259.9" r="2.5" fill="#aaa19b" fill-opacity="0.72"/><circle cx="70.9" cy="196.3" r="1.3" fill="#aaa19b" fill-opacity="0.41"/><circle cx="191.5" cy="182.2" r="2.2" fill="#aaa19b" fill-opacity="0.41"/><circle cx="94.8" cy="224.4" r="2.8" fill="#aaa19b" fill-opacity="0.60"/><circle cx="208.1" cy="276.8" r="2.8" fill="#aaa19b" fill-opacity="0.67"/><circle cx="86.5" cy="283.0" r="2.1" fill="#aaa19b" fill-opacity="0.68"/><circle cx="154.1" cy="224.1" r="1.8" fill="#aaa19b" fill-opacity="0.51"/><circle cx="99.0" cy="180.4" r="2.8" fill="#aaa19b" fill-opacity="0.70"/><circle cx="151.9" cy="268.8" r="1.3" fill="#aaa19b" fill-opacity="0.64"/><circle cx="127.5" cy="188.7" r="1.4" fill="#aaa19b" fill-opacity="0.56"/><circle cx="85.7" cy="228.3" r="2.3" fill="#aaa19b" fill-opacity="0.50"/><circle cx="58.8" cy="232.7" r="1.5" fill="#aaa19b" fill-opacity="0.42"/><circle cx="72.8" cy="215.3" r="1.2" fill="#aaa19b" fill-opacity="0.63"/><circle cx="239.8" cy="218.6" r="2.6" fill="#aaa19b" fill-opacity="0.77"/><circle cx="207.3" cy="281.3" r="2.4" fill="#aaa19b" fill-opacity="0.38"/><circle cx="121.0" cy="285.6" r="2.9" fill="#aaa19b" fill-opacity="0.70"/><circle cx="74.7" cy="283.5" r="1.8" fill="#aaa19b" fill-opacity="0.66"/><circle cx="162.8" cy="265.2" r="1.5" fill="#aaa19b" fill-opacity="0.61"/><circle cx="157.8" cy="246.8" r="1.8" fill="#aaa19b" fill-opacity="0.66"/><circle cx="105.1" cy="205.3" r="1.4" fill="#aaa19b" fill-opacity="0.64"/><circle cx="54.7" cy="195.6" r="1.2" fill="#aaa19b" fill-opacity="0.62"/><circle cx="152.4" cy="240.1" r="1.1" fill="#aaa19b" fill-opacity="0.52"/><circle cx="105.5" cy="177.0" r="1.0" fill="#aaa19b" fill-opacity="0.80"/><circle cx="56.7" cy="206.2" r="1.6" fill="#aaa19b" fill-opacity="0.60"/><circle cx="47.0" cy="229.8" r="1.8" fill="#aaa19b" fill-opacity="0.72"/><circle cx="139.2" cy="299.8" r="2.1" fill="#aaa19b" fill-opacity="0.54"/><circle cx="177.3" cy="205.5" r="1.1" fill="#aaa19b" fill-opacity="0.55"/><circle cx="230.3" cy="267.4" r="1.6" fill="#aaa19b" fill-opacity="0.64"/><circle cx="216.8" cy="200.2" r="2.3" fill="#aaa19b" fill-opacity="0.48"/><circle cx="83.7" cy="204.2" r="1.4" fill="#aaa19b" fill-opacity="0.48"/><circle cx="38.4" cy="219.7" r="1.2" fill="#aaa19b" fill-opacity="0.68"/><circle cx="200.2" cy="190.7" r="2.1" fill="#aaa19b" fill-opacity="0.58"/><circle cx="103.2" cy="204.5" r="2.0" fill="#aaa19b" fill-opacity="0.37"/><circle cx="211.2" cy="194.6" r="1.7" fill="#aaa19b" fill-opacity="0.49"/><circle cx="109.4" cy="225.9" r="2.9" fill="#aaa19b" fill-opacity="0.79"/><circle cx="39.6" cy="238.9" r="1.3" fill="#aaa19b" fill-opacity="0.70"/><circle cx="101.0" cy="289.0" r="2.2" fill="#aaa19b" fill-opacity="0.36"/><circle cx="135.4" cy="216.0" r="1.8" fill="#aaa19b" fill-opacity="0.70"/><circle cx="77.0" cy="264.6" r="2.5" fill="#aaa19b" fill-opacity="0.77"/><circle cx="144.4" cy="292.9" r="2.0" fill="#aaa19b" fill-opacity="0.59"/><circle cx="166.5" cy="281.6" r="3.0" fill="#aaa19b" fill-opacity="0.36"/><circle cx="60.2" cy="238.7" r="2.8" fill="#aaa19b" fill-opacity="0.57"/><circle cx="95.5" cy="176.2" r="1.1" fill="#aaa19b" fill-opacity="0.32"/><circle cx="189.9" cy="179.0" r="2.6" fill="#aaa19b" fill-opacity="0.73"/><circle cx="123.4" cy="251.1" r="2.8" fill="#aaa19b" fill-opacity="0.66"/><circle cx="93.9" cy="270.7" r="1.2" fill="#aaa19b" fill-opacity="0.45"/><circle cx="249.2" cy="230.0" r="1.6" fill="#aaa19b" fill-opacity="0.69"/><circle cx="129.0" cy="164.5" r="1.1" fill="#aaa19b" fill-opacity="0.43"/><circle cx="103.0" cy="295.2" r="1.5" fill="#aaa19b" fill-opacity="0.73"/><circle cx="217.8" cy="222.3" r="3.2" fill="#aaa19b" fill-opacity="0.68"/><circle cx="136.5" cy="200.6" r="2.0" fill="#aaa19b" fill-opacity="0.75"/><circle cx="148.1" cy="191.1" r="1.8" fill="#aaa19b" fill-opacity="0.54"/><circle cx="72.0" cy="244.2" r="1.1" fill="#aaa19b" fill-opacity="0.71"/><circle cx="159.6" cy="207.0" r="2.9" fill="#aaa19b" fill-opacity="0.55"/><circle cx="144.7" cy="280.8" r="1.5" fill="#aaa19b" fill-opacity="0.67"/><circle cx="172.8" cy="224.0" r="3.1" fill="#aaa19b" fill-opacity="0.31"/><circle cx="214.7" cy="185.5" r="1.1" fill="#aaa19b" fill-opacity="0.55"/><circle cx="233.7" cy="200.0" r="2.1" fill="#aaa19b" fill-opacity="0.60"/><circle cx="83.6" cy="238.2" r="1.0" fill="#aaa19b" fill-opacity="0.52"/><circle cx="197.1" cy="211.6" r="1.5" fill="#aaa19b" fill-opacity="0.33"/><circle cx="184.1" cy="223.8" r="3.0" fill="#aaa19b" fill-opacity="0.67"/><circle cx="212.9" cy="259.4" r="2.6" fill="#aaa19b" fill-opacity="0.63"/><circle cx="160.0" cy="200.0" r="1.3" fill="#aaa19b" fill-opacity="0.66"/><circle cx="161.2" cy="171.9" r="2.4" fill="#aaa19b" fill-opacity="0.61"/><circle cx="142.5" cy="272.5" r="2.9" fill="#aaa19b" fill-opacity="0.49"/><circle cx="209.2" cy="233.9" r="2.3" fill="#aaa19b" fill-opacity="0.51"/><circle cx="235.3" cy="226.2" r="3.1" fill="#aaa19b" fill-opacity="0.47"/><circle cx="177.9" cy="291.8" r="2.5" fill="#aaa19b" fill-opacity="0.49"/><circle cx="47.1" cy="231.0" r="1.9" fill="#aaa19b" fill-opacity="0.71"/><circle cx="128.5" cy="221.5" r="2.2" fill="#aaa19b" fill-opacity="0.67"/><circle cx="62.1" cy="209.4" r="1.7" fill="#aaa19b" fill-opacity="0.78"/><circle cx="94.8" cy="192.5" r="3.1" fill="#aaa19b" fill-opacity="0.34"/><circle cx="44.7" cy="218.1" r="1.5" fill="#aaa19b" fill-opacity="0.38"/><circle cx="154.4" cy="287.7" r="2.5" fill="#aaa19b" fill-opacity="0.65"/><circle cx="184.1" cy="275.6" r="2.9" fill="#aaa19b" fill-opacity="0.38"/><circle cx="41.9" cy="250.9" r="2.1" fill="#aaa19b" fill-opacity="0.56"/><circle cx="202.0" cy="188.4" r="2.6" fill="#aaa19b" fill-opacity="0.51"/><circle cx="122.8" cy="198.3" r="1.6" fill="#aaa19b" fill-opacity="0.59"/><circle cx="151.9" cy="290.9" r="1.6" fill="#aaa19b" fill-opacity="0.66"/><circle cx="51.3" cy="255.3" r="1.4" fill="#aaa19b" fill-opacity="0.73"/><circle cx="207.8" cy="194.7" r="1.7" fill="#aaa19b" fill-opacity="0.35"/><circle cx="127.1" cy="178.6" r="2.5" fill="#aaa19b" fill-opacity="0.59"/><circle cx="122.4" cy="263.4" r="1.5" fill="#aaa19b" fill-opacity="0.47"/><circle cx="52.2" cy="275.7" r="2.8" fill="#aaa19b" fill-opacity="0.52"/><circle cx="122.7" cy="183.5" r="1.0" fill="#aaa19b" fill-opacity="0.56"/><circle cx="83.6" cy="185.1" r="3.0" fill="#aaa19b" fill-opacity="0.31"/><circle cx="109.7" cy="269.2" r="2.6" fill="#aaa19b" fill-opacity="0.35"/><circle cx="193.3" cy="242.9" r="2.4" fill="#aaa19b" fill-opacity="0.77"/><circle cx="205.7" cy="247.9" r="2.7" fill="#aaa19b" fill-opacity="0.55"/><circle cx="151.4" cy="278.4" r="2.4" fill="#aaa19b" fill-opacity="0.49"/><circle cx="104.8" cy="224.1" r="1.6" fill="#aaa19b" fill-opacity="0.58"/><circle cx="118.2" cy="280.8" r="2.3" fill="#aaa19b" fill-opacity="0.58"/><circle cx="202.3" cy="225.7" r="2.2" fill="#aaa19b" fill-opacity="0.68"/><circle cx="189.0" cy="268.1" r="3.0" fill="#aaa19b" fill-opacity="0.58"/><circle cx="152.1" cy="190.4" r="1.5" fill="#aaa19b" fill-opacity="0.52"/><circle cx="139.7" cy="289.9" r="1.1" fill="#aaa19b" fill-opacity="0.47"/><circle cx="192.8" cy="228.3" r="2.9" fill="#aaa19b" fill-opacity="0.38"/><circle cx="199.6" cy="224.4" r="2.2" fill="#aaa19b" fill-opacity="0.33"/><circle cx="118.6" cy="276.4" r="2.6" fill="#aaa19b" fill-opacity="0.58"/><circle cx="123.0" cy="169.5" r="2.5" fill="#aaa19b" fill-opacity="0.52"/><circle cx="189.3" cy="249.7" r="1.9" fill="#aaa19b" fill-opacity="0.74"/><circle cx="159.1" cy="226.7" r="3.1" fill="#aaa19b" fill-opacity="0.56"/><circle cx="141.9" cy="172.4" r="2.8" fill="#aaa19b" fill-opacity="0.62"/><circle cx="82.7" cy="179.9" r="1.9" fill="#aaa19b" fill-opacity="0.77"/><circle cx="221.5" cy="229.2" r="1.1" fill="#aaa19b" fill-opacity="0.71"/><circle cx="74.5" cy="266.3" r="2.1" fill="#aaa19b" fill-opacity="0.78"/><circle cx="62.5" cy="275.1" r="2.6" fill="#aaa19b" fill-opacity="0.31"/><circle cx="154.4" cy="205.3" r="2.5" fill="#aaa19b" fill-opacity="0.78"/><circle cx="176.5" cy="233.2" r="2.3" fill="#aaa19b" fill-opacity="0.42"/><circle cx="132.9" cy="180.3" r="2.6" fill="#aaa19b" fill-opacity="0.33"/><circle cx="145.9" cy="189.1" r="2.2" fill="#aaa19b" fill-opacity="0.33"/><circle cx="36.0" cy="251.5" r="2.6" fill="#aaa19b" fill-opacity="0.74"/><circle cx="61.4" cy="252.0" r="2.4" fill="#aaa19b" fill-opacity="0.39"/><circle cx="60.8" cy="197.7" r="2.2" fill="#aaa19b" fill-opacity="0.69"/><circle cx="186.4" cy="244.1" r="1.2" fill="#aaa19b" fill-opacity="0.66"/><circle cx="142.7" cy="187.7" r="2.4" fill="#aaa19b" fill-opacity="0.42"/><circle cx="97.9" cy="227.2" r="2.7" fill="#aaa19b" fill-opacity="0.35"/><circle cx="127.3" cy="196.9" r="2.5" fill="#aaa19b" fill-opacity="0.71"/><circle cx="88.1" cy="264.8" r="2.0" fill="#aaa19b" fill-opacity="0.41"/><circle cx="90.6" cy="239.3" r="2.8" fill="#aaa19b" fill-opacity="0.60"/><circle cx="157.6" cy="223.2" r="1.5" fill="#aaa19b" fill-opacity="0.52"/><circle cx="182.3" cy="202.0" r="1.3" fill="#aaa19b" fill-opacity="0.74"/><circle cx="127.3" cy="173.9" r="3.0" fill="#aaa19b" fill-opacity="0.35"/><circle cx="110.3" cy="250.7" r="2.5" fill="#aaa19b" fill-opacity="0.75"/><circle cx="68.7" cy="243.7" r="2.9" fill="#aaa19b" fill-opacity="0.53"/><circle cx="187.2" cy="229.3" r="2.6" fill="#aaa19b" fill-opacity="0.78"/><circle cx="104.8" cy="267.2" r="1.8" fill="#aaa19b" fill-opacity="0.74"/><circle cx="198.1" cy="284.1" r="2.9" fill="#aaa19b" fill-opacity="0.60"/><circle cx="156.2" cy="174.4" r="2.3" fill="#aaa19b" fill-opacity="0.64"/><circle cx="92.7" cy="277.7" r="1.9" fill="#aaa19b" fill-opacity="0.40"/><circle cx="72.5" cy="244.9" r="1.8" fill="#aaa19b" fill-opacity="0.32"/><circle cx="133.9" cy="259.6" r="1.9" fill="#aaa19b" fill-opacity="0.34"/><circle cx="164.7" cy="193.4" r="1.3" fill="#aaa19b" fill-opacity="0.61"/><circle cx="66.5" cy="210.0" r="2.8" fill="#aaa19b" fill-opacity="0.67"/><circle cx="193.5" cy="224.2" r="3.0" fill="#aaa19b" fill-opacity="0.37"/><circle cx="63.8" cy="269.1" r="2.7" fill="#aaa19b" fill-opacity="0.64"/><circle cx="84.7" cy="285.3" r="2.1" fill="#aaa19b" fill-opacity="0.40"/><circle cx="108.4" cy="289.1" r="2.8" fill="#aaa19b" fill-opacity="0.72"/><circle cx="192.4" cy="190.7" r="3.1" fill="#aaa19b" fill-opacity="0.79"/><circle cx="44.5" cy="266.4" r="1.5" fill="#aaa19b" fill-opacity="0.35"/><circle cx="222.5" cy="225.9" r="1.6" fill="#aaa19b" fill-opacity="0.58"/><circle cx="44.2" cy="223.3" r="2.4" fill="#aaa19b" fill-opacity="0.73"/><circle cx="53.2" cy="192.9" r="1.7" fill="#aaa19b" fill-opacity="0.38"/><circle cx="50.0" cy="255.8" r="1.9" fill="#aaa19b" fill-opacity="0.39"/><circle cx="143.2" cy="181.3" r="2.5" fill="#aaa19b" fill-opacity="0.78"/><circle cx="132.8" cy="223.0" r="1.9" fill="#aaa19b" fill-opacity="0.48"/><circle cx="121.0" cy="189.0" r="1.7" fill="#aaa19b" fill-opacity="0.65"/><circle cx="135.5" cy="173.5" r="1.3" fill="#aaa19b" fill-opacity="0.72"/><circle cx="107.7" cy="280.2" r="2.4" fill="#aaa19b" fill-opacity="0.61"/><circle cx="108.2" cy="245.2" r="1.9" fill="#aaa19b" fill-opacity="0.56"/><circle cx="77.0" cy="290.5" r="3.0" fill="#aaa19b" fill-opacity="0.71"/><circle cx="188.1" cy="181.4" r="2.9" fill="#aaa19b" fill-opacity="0.50"/><circle cx="137.6" cy="236.8" r="1.5" fill="#aaa19b" fill-opacity="0.58"/><circle cx="219.7" cy="226.8" r="2.0" fill="#aaa19b" fill-opacity="0.48"/><circle cx="71.9" cy="203.8" r="2.8" fill="#aaa19b" fill-opacity="0.78"/><circle cx="112.4" cy="204.2" r="1.7" fill="#aaa19b" fill-opacity="0.73"/><circle cx="87.7" cy="189.6" r="1.7" fill="#aaa19b" fill-opacity="0.34"/><circle cx="62.3" cy="196.5" r="2.4" fill="#aaa19b" fill-opacity="0.76"/><circle cx="86.9" cy="205.0" r="2.3" fill="#aaa19b" fill-opacity="0.31"/><circle cx="49.6" cy="244.3" r="2.0" fill="#aaa19b" fill-opacity="0.48"/><circle cx="121.4" cy="166.8" r="1.6" fill="#aaa19b" fill-opacity="0.39"/><circle cx="121.2" cy="188.1" r="1.4" fill="#aaa19b" fill-opacity="0.68"/><circle cx="102.8" cy="239.8" r="1.9" fill="#aaa19b" fill-opacity="0.34"/><circle cx="123.0" cy="249.6" r="1.9" fill="#aaa19b" fill-opacity="0.69"/><circle cx="128.2" cy="205.1" r="3.0" fill="#aaa19b" fill-opacity="0.59"/><circle cx="86.1" cy="290.6" r="2.1" fill="#aaa19b" fill-opacity="0.60"/><circle cx="133.0" cy="284.2" r="2.6" fill="#aaa19b" fill-opacity="0.52"/><circle cx="110.4" cy="272.1" r="2.8" fill="#aaa19b" fill-opacity="0.60"/><circle cx="222.0" cy="237.9" r="1.9" fill="#aaa19b" fill-opacity="0.46"/><circle cx="89.2" cy="185.4" r="3.0" fill="#aaa19b" fill-opacity="0.58"/><circle cx="123.3" cy="276.9" r="2.9" fill="#aaa19b" fill-opacity="0.68"/><circle cx="94.4" cy="223.8" r="3.1" fill="#aaa19b" fill-opacity="0.49"/><circle cx="172.9" cy="171.0" r="2.1" fill="#aaa19b" fill-opacity="0.55"/><circle cx="195.5" cy="210.5" r="2.9" fill="#aaa19b" fill-opacity="0.76"/><circle cx="46.8" cy="223.5" r="2.2" fill="#aaa19b" fill-opacity="0.45"/><circle cx="83.0" cy="273.9" r="1.5" fill="#aaa19b" fill-opacity="0.58"/><circle cx="34.4" cy="228.7" r="3.1" fill="#aaa19b" fill-opacity="0.30"/><circle cx="231.2" cy="234.8" r="1.6" fill="#aaa19b" fill-opacity="0.45"/><circle cx="191.4" cy="245.3" r="2.0" fill="#aaa19b" fill-opacity="0.65"/><circle cx="51.8" cy="218.5" r="2.9" fill="#aaa19b" fill-opacity="0.76"/><circle cx="136.9" cy="273.5" r="2.9" fill="#aaa19b" fill-opacity="0.56"/><circle cx="177.7" cy="211.8" r="2.2" fill="#aaa19b" fill-opacity="0.32"/><circle cx="238.5" cy="202.9" r="2.4" fill="#aaa19b" fill-opacity="0.61"/><circle cx="108.3" cy="193.3" r="2.2" fill="#aaa19b" fill-opacity="0.46"/><circle cx="166.1" cy="297.9" r="2.0" fill="#aaa19b" fill-opacity="0.43"/><circle cx="48.6" cy="251.0" r="2.5" fill="#aaa19b" fill-opacity="0.64"/><circle cx="172.0" cy="262.5" r="3.1" fill="#aaa19b" fill-opacity="0.43"/><circle cx="159.6" cy="209.9" r="2.1" fill="#aaa19b" fill-opacity="0.39"/><circle cx="114.6" cy="212.8" r="2.0" fill="#aaa19b" fill-opacity="0.50"/><circle cx="78.0" cy="187.6" r="2.0" fill="#aaa19b" fill-opacity="0.80"/><circle cx="216.6" cy="185.0" r="2.4" fill="#aaa19b" fill-opacity="0.37"/><circle cx="104.6" cy="178.3" r="2.2" fill="#aaa19b" fill-opacity="0.59"/><circle cx="142.3" cy="296.6" r="2.1" fill="#aaa19b" fill-opacity="0.48"/><circle cx="75.9" cy="245.4" r="2.6" fill="#aaa19b" fill-opacity="0.55"/><circle cx="115.9" cy="199.2" r="2.9" fill="#aaa19b" fill-opacity="0.80"/><circle cx="158.7" cy="263.5" r="1.7" fill="#aaa19b" fill-opacity="0.38"/><circle cx="42.5" cy="250.4" r="3.0" fill="#aaa19b" fill-opacity="0.65"/><circle cx="178.1" cy="284.3" r="1.9" fill="#aaa19b" fill-opacity="0.51"/><circle cx="87.3" cy="280.4" r="2.5" fill="#aaa19b" fill-opacity="0.56"/><circle cx="201.4" cy="291.8" r="1.1" fill="#aaa19b" fill-opacity="0.41"/><circle cx="132.9" cy="264.0" r="1.2" fill="#4a4340" fill-opacity="0.48"/><circle cx="176.0" cy="205.2" r="2.0" fill="#4a4340" fill-opacity="0.32"/><circle cx="120.7" cy="253.4" r="2.4" fill="#4a4340" fill-opacity="0.50"/><circle cx="176.3" cy="256.9" r="2.0" fill="#4a4340" fill-opacity="0.48"/><circle cx="99.7" cy="181.9" r="2.4" fill="#4a4340" fill-opacity="0.61"/><circle cx="173.3" cy="269.4" r="1.4" fill="#4a4340" fill-opacity="0.37"/><circle cx="147.1" cy="229.5" r="2.0" fill="#4a4340" fill-opacity="0.65"/><circle cx="116.3" cy="216.3" r="2.1" fill="#4a4340" fill-opacity="0.65"/><circle cx="154.6" cy="247.2" r="2.4" fill="#4a4340" fill-opacity="0.67"/><circle cx="50.9" cy="241.2" r="1.7" fill="#4a4340" fill-opacity="0.69"/><circle cx="240.9" cy="228.0" r="1.6" fill="#4a4340" fill-opacity="0.47"/><circle cx="152.4" cy="194.2" r="1.7" fill="#4a4340" fill-opacity="0.70"/><circle cx="103.6" cy="181.1" r="1.9" fill="#4a4340" fill-opacity="0.37"/><circle cx="152.9" cy="288.6" r="1.2" fill="#4a4340" fill-opacity="0.37"/><circle cx="157.1" cy="260.8" r="1.1" fill="#4a4340" fill-opacity="0.50"/><circle cx="153.6" cy="233.9" r="1.4" fill="#4a4340" fill-opacity="0.48"/><circle cx="84.9" cy="258.4" r="1.0" fill="#4a4340" fill-opacity="0.65"/><circle cx="146.9" cy="291.1" r="2.4" fill="#4a4340" fill-opacity="0.30"/><circle cx="61.7" cy="258.7" r="2.5" fill="#4a4340" fill-opacity="0.58"/><circle cx="115.5" cy="300.3" r="1.2" fill="#4a4340" fill-opacity="0.52"/><circle cx="121.3" cy="240.3" r="1.3" fill="#4a4340" fill-opacity="0.68"/><circle cx="139.3" cy="297.1" r="2.5" fill="#4a4340" fill-opacity="0.32"/><circle cx="50.5" cy="199.4" r="1.5" fill="#4a4340" fill-opacity="0.49"/><circle cx="172.3" cy="234.5" r="1.0" fill="#4a4340" fill-opacity="0.70"/><circle cx="231.4" cy="212.4" r="2.4" fill="#4a4340" fill-opacity="0.48"/><circle cx="178.2" cy="293.9" r="2.0" fill="#4a4340" fill-opacity="0.44"/><circle cx="41.5" cy="229.3" r="1.8" fill="#4a4340" fill-opacity="0.41"/><circle cx="156.8" cy="166.3" r="1.3" fill="#4a4340" fill-opacity="0.49"/><circle cx="136.1" cy="262.8" r="1.2" fill="#4a4340" fill-opacity="0.41"/><circle cx="191.2" cy="203.7" r="1.1" fill="#4a4340" fill-opacity="0.55"/><circle cx="107.0" cy="246.5" r="2.5" fill="#4a4340" fill-opacity="0.69"/><circle cx="204.5" cy="214.4" r="2.5" fill="#4a4340" fill-opacity="0.35"/><circle cx="76.0" cy="234.8" r="1.0" fill="#4a4340" fill-opacity="0.54"/><circle cx="150.0" cy="193.2" r="2.1" fill="#4a4340" fill-opacity="0.33"/><circle cx="137.5" cy="202.4" r="2.5" fill="#4a4340" fill-opacity="0.36"/><circle cx="113.7" cy="263.9" r="1.3" fill="#4a4340" fill-opacity="0.63"/><circle cx="32.8" cy="241.9" r="1.7" fill="#4a4340" fill-opacity="0.51"/><circle cx="133.9" cy="286.9" r="1.2" fill="#4a4340" fill-opacity="0.36"/><circle cx="84.6" cy="280.6" r="2.3" fill="#4a4340" fill-opacity="0.35"/><circle cx="147.0" cy="170.6" r="1.7" fill="#4a4340" fill-opacity="0.37"/><circle cx="180.2" cy="185.8" r="1.8" fill="#4a4340" fill-opacity="0.43"/><circle cx="136.0" cy="297.0" r="1.7" fill="#4a4340" fill-opacity="0.69"/><circle cx="188.5" cy="195.7" r="1.3" fill="#4a4340" fill-opacity="0.63"/><circle cx="200.9" cy="184.1" r="2.3" fill="#4a4340" fill-opacity="0.42"/><circle cx="154.8" cy="288.9" r="2.5" fill="#4a4340" fill-opacity="0.37"/><circle cx="61.4" cy="201.3" r="1.9" fill="#4a4340" fill-opacity="0.69"/><circle cx="173.7" cy="270.8" r="2.3" fill="#4a4340" fill-opacity="0.49"/><circle cx="112.7" cy="275.7" r="1.9" fill="#4a4340" fill-opacity="0.65"/><circle cx="249.4" cy="229.2" r="1.4" fill="#4a4340" fill-opacity="0.35"/><circle cx="158.6" cy="208.2" r="1.4" fill="#4a4340" fill-opacity="0.50"/><circle cx="190.3" cy="259.4" r="1.6" fill="#4a4340" fill-opacity="0.56"/><circle cx="168.1" cy="291.9" r="2.0" fill="#4a4340" fill-opacity="0.64"/><circle cx="83.0" cy="283.2" r="0.8" fill="#4a4340" fill-opacity="0.63"/><circle cx="33.2" cy="249.3" r="1.3" fill="#4a4340" fill-opacity="0.37"/><circle cx="193.4" cy="183.2" r="2.0" fill="#4a4340" fill-opacity="0.33"/><circle cx="75.8" cy="219.4" r="1.8" fill="#4a4340" fill-opacity="0.56"/><circle cx="109.2" cy="285.3" r="0.9" fill="#4a4340" fill-opacity="0.38"/><circle cx="116.5" cy="249.7" r="2.0" fill="#4a4340" fill-opacity="0.65"/><circle cx="107.0" cy="253.8" r="2.0" fill="#4a4340" fill-opacity="0.36"/><circle cx="110.9" cy="226.0" r="1.9" fill="#4a4340" fill-opacity="0.51"/><circle cx="60.5" cy="192.5" r="1.4" fill="#4a4340" fill-opacity="0.33"/><circle cx="199.6" cy="289.4" r="2.1" fill="#4a4340" fill-opacity="0.39"/><circle cx="159.3" cy="168.5" r="1.2" fill="#4a4340" fill-opacity="0.40"/><circle cx="161.5" cy="245.5" r="1.8" fill="#4a4340" fill-opacity="0.36"/><circle cx="140.5" cy="268.7" r="2.4" fill="#4a4340" fill-opacity="0.45"/><circle cx="128.8" cy="285.9" r="0.9" fill="#4a4340" fill-opacity="0.54"/><circle cx="178.6" cy="174.0" r="0.9" fill="#4a4340" fill-opacity="0.68"/><circle cx="97.5" cy="245.4" r="1.8" fill="#4a4340" fill-opacity="0.45"/><circle cx="51.9" cy="265.4" r="1.4" fill="#4a4340" fill-opacity="0.47"/><circle cx="93.0" cy="210.7" r="2.2" fill="#4a4340" fill-opacity="0.48"/><circle cx="226.4" cy="216.2" r="0.9" fill="#4a4340" fill-opacity="0.41"/><circle cx="227.7" cy="245.0" r="2.6" fill="#4a4340" fill-opacity="0.63"/><circle cx="179.7" cy="189.1" r="1.5" fill="#4a4340" fill-opacity="0.31"/><circle cx="103.6" cy="194.6" r="2.5" fill="#4a4340" fill-opacity="0.36"/><circle cx="63.8" cy="261.5" r="1.5" fill="#4a4340" fill-opacity="0.50"/><circle cx="210.5" cy="261.4" r="1.2" fill="#4a4340" fill-opacity="0.60"/><circle cx="180.5" cy="246.4" r="1.7" fill="#4a4340" fill-opacity="0.67"/><circle cx="161.9" cy="172.5" r="2.3" fill="#4a4340" fill-opacity="0.56"/><circle cx="88.7" cy="272.2" r="2.5" fill="#4a4340" fill-opacity="0.59"/><circle cx="134.9" cy="279.8" r="0.9" fill="#4a4340" fill-opacity="0.32"/><circle cx="119.0" cy="236.6" r="2.0" fill="#4a4340" fill-opacity="0.56"/><circle cx="144.0" cy="216.2" r="2.1" fill="#4a4340" fill-opacity="0.52"/><circle cx="75.7" cy="244.8" r="1.6" fill="#4a4340" fill-opacity="0.62"/><circle cx="198.1" cy="235.7" r="2.0" fill="#4a4340" fill-opacity="0.42"/><circle cx="151.8" cy="302.7" r="1.0" fill="#4a4340" fill-opacity="0.47"/><circle cx="124.8" cy="264.0" r="1.1" fill="#4a4340" fill-opacity="0.57"/><circle cx="47.8" cy="254.3" r="2.1" fill="#4a4340" fill-opacity="0.52"/><circle cx="89.2" cy="214.7" r="2.4" fill="#4a4340" fill-opacity="0.48"/><circle cx="153.7" cy="297.7" r="1.7" fill="#4a4340" fill-opacity="0.63"/><circle cx="161.9" cy="280.1" r="1.9" fill="#4a4340" fill-opacity="0.35"/><circle cx="79.9" cy="202.7" r="1.2" fill="#4a4340" fill-opacity="0.54"/><circle cx="122.0" cy="215.2" r="0.8" fill="#4a4340" fill-opacity="0.69"/><circle cx="136.8" cy="193.2" r="2.0" fill="#4a4340" fill-opacity="0.34"/><circle cx="176.8" cy="214.2" r="1.0" fill="#4a4340" fill-opacity="0.59"/><circle cx="83.1" cy="209.8" r="1.3" fill="#4a4340" fill-opacity="0.55"/><circle cx="216.7" cy="238.1" r="1.0" fill="#4a4340" fill-opacity="0.33"/><circle cx="230.6" cy="235.4" r="1.8" fill="#4a4340" fill-opacity="0.66"/><circle cx="75.6" cy="261.9" r="1.0" fill="#4a4340" fill-opacity="0.52"/><circle cx="204.5" cy="220.2" r="2.0" fill="#4a4340" fill-opacity="0.32"/><circle cx="136.1" cy="216.4" r="2.0" fill="#4a4340" fill-opacity="0.46"/><circle cx="175.5" cy="289.9" r="2.5" fill="#4a4340" fill-opacity="0.63"/><circle cx="124.6" cy="166.9" r="2.2" fill="#4a4340" fill-opacity="0.44"/><circle cx="103.7" cy="296.8" r="1.5" fill="#4a4340" fill-opacity="0.35"/><circle cx="41.4" cy="262.0" r="1.1" fill="#4a4340" fill-opacity="0.59"/><circle cx="117.1" cy="251.8" r="2.1" fill="#4a4340" fill-opacity="0.57"/><circle cx="72.7" cy="283.5" r="0.9" fill="#4a4340" fill-opacity="0.48"/><circle cx="133.8" cy="225.5" r="2.5" fill="#4a4340" fill-opacity="0.40"/><circle cx="173.9" cy="261.6" r="0.9" fill="#4a4340" fill-opacity="0.61"/><circle cx="105.0" cy="266.3" r="2.2" fill="#4a4340" fill-opacity="0.43"/><circle cx="116.8" cy="221.5" r="1.0" fill="#4a4340" fill-opacity="0.53"/><circle cx="127.7" cy="240.7" r="2.0" fill="#4a4340" fill-opacity="0.61"/><circle cx="176.1" cy="298.0" r="2.3" fill="#4a4340" fill-opacity="0.69"/><circle cx="127.3" cy="240.7" r="1.1" fill="#4a4340" fill-opacity="0.51"/><circle cx="142.7" cy="213.8" r="2.5" fill="#4a4340" fill-opacity="0.65"/><circle cx="210.5" cy="205.9" r="1.8" fill="#4a4340" fill-opacity="0.64"/><circle cx="116.1" cy="246.0" r="1.1" fill="#4a4340" fill-opacity="0.68"/><circle cx="156.0" cy="227.0" r="2.3" fill="#4a4340" fill-opacity="0.41"/><circle cx="146.9" cy="221.3" r="2.4" fill="#4a4340" fill-opacity="0.50"/><circle cx="54.6" cy="246.1" r="1.7" fill="#4a4340" fill-opacity="0.36"/><circle cx="222.8" cy="278.4" r="2.5" fill="#4a4340" fill-opacity="0.50"/><circle cx="61.7" cy="255.6" r="2.3" fill="#4a4340" fill-opacity="0.41"/><circle cx="197.0" cy="231.5" r="1.5" fill="#4a4340" fill-opacity="0.69"/><circle cx="200.5" cy="280.0" r="1.2" fill="#4a4340" fill-opacity="0.60"/><circle cx="51.8" cy="271.5" r="2.0" fill="#4a4340" fill-opacity="0.46"/><circle cx="158.0" cy="298.8" r="2.0" fill="#4a4340" fill-opacity="0.42"/><circle cx="96.5" cy="222.4" r="1.4" fill="#4a4340" fill-opacity="0.48"/><circle cx="214.4" cy="217.2" r="2.5" fill="#4a4340" fill-opacity="0.42"/><circle cx="108.1" cy="205.2" r="2.2" fill="#4a4340" fill-opacity="0.34"/><circle cx="64.7" cy="277.4" r="2.1" fill="#4a4340" fill-opacity="0.36"/><circle cx="123.1" cy="172.3" r="2.3" fill="#4a4340" fill-opacity="0.65"/><circle cx="95.0" cy="241.7" r="1.8" fill="#4a4340" fill-opacity="0.62"/><circle cx="107.6" cy="273.5" r="2.2" fill="#4a4340" fill-opacity="0.56"/><circle cx="41.4" cy="227.0" r="1.2" fill="#4a4340" fill-opacity="0.70"/><circle cx="122.5" cy="287.5" r="1.6" fill="#4a4340" fill-opacity="0.40"/><circle cx="71.9" cy="264.4" r="1.0" fill="#4a4340" fill-opacity="0.49"/><circle cx="146.6" cy="297.6" r="2.3" fill="#4a4340" fill-opacity="0.33"/><circle cx="108.7" cy="224.0" r="2.2" fill="#4a4340" fill-opacity="0.34"/><circle cx="182.6" cy="204.7" r="1.9" fill="#4a4340" fill-opacity="0.45"/><circle cx="67.6" cy="283.5" r="2.3" fill="#4a4340" fill-opacity="0.44"/><circle cx="111.8" cy="193.6" r="1.4" fill="#4a4340" fill-opacity="0.47"/><rect x="110" y="164" width="140" height="11" fill="#3e3835" filter="url(#b2)"/><path d="M64,236 C62,200 92,174 145,173 C192,172 219,195 219,232 C219,274 196,299 150,299 C98,299 66,274 64,236 Z" fill="#4c4542" filter="url(#b2)"/></g><g filter="url(#e3)"><path d="M69.2,228.6C69.9,221.7 70.3,224.7 73.7,217.1C77.1,209.5 74.1,213.3 79.5,205.7C84.9,198.1 82.6,199.9 89.8,194.2C97.0,188.5 92.0,192.3 101.2,188.5C110.4,184.7 107.4,185.8 117.3,182.7C127.2,179.6 121.1,180.8 131.0,179.3C140.9,177.8 136.4,177.8 147.1,178.2C157.8,178.6 150.9,177.5 163.1,180.5C175.3,183.5 171.5,180.4 183.7,187.3C195.9,194.2 191.0,191.9 199.8,201.1C208.6,210.3 205.1,204.9 210.1,214.8C215.1,224.7 213.2,220.2 214.7,230.9C216.2,241.6 216.6,236.2 214.7,246.9C212.8,257.6 214.7,253.1 209.0,263.0C203.3,272.9 207.4,268.3 197.5,276.7C187.6,285.1 193.0,282.5 179.2,288.2C165.4,293.9 170.7,292.4 156.2,293.9C141.7,295.4 149.3,295.4 135.6,292.7C121.9,290.0 128.0,292.0 115.0,285.9C102.0,279.8 106.6,282.8 96.7,274.4C86.8,266.0 91.3,269.9 85.2,260.7C79.1,251.5 82.9,254.6 78.3,246.9C73.7,239.2 74.5,243.8 71.5,237.7C68.5,231.6 68.5,235.5 69.2,228.6Z" fill="#958d87"/><ellipse cx="165" cy="222" rx="42" ry="32" fill="#a39a93" filter="url(#b6)"/><ellipse cx="115" cy="262" rx="30" ry="20" fill="#857d78" filter="url(#b6)"/><circle cx="134.3" cy="208.8" r="1.3" fill="#d6cec8" fill-opacity="0.39"/><circle cx="138.3" cy="226.4" r="2.1" fill="#d6cec8" fill-opacity="0.48"/><circle cx="102.1" cy="198.9" r="2.0" fill="#d6cec8" fill-opacity="0.39"/><circle cx="148.1" cy="217.2" r="2.0" fill="#d6cec8" fill-opacity="0.50"/><circle cx="190.2" cy="207.3" r="1.5" fill="#d6cec8" fill-opacity="0.72"/><circle cx="193.7" cy="270.5" r="1.9" fill="#d6cec8" fill-opacity="0.57"/><circle cx="131.6" cy="283.9" r="1.4" fill="#d6cec8" fill-opacity="0.53"/><circle cx="168.1" cy="241.0" r="2.3" fill="#d6cec8" fill-opacity="0.48"/><circle cx="187.7" cy="263.6" r="1.1" fill="#d6cec8" fill-opacity="0.80"/><circle cx="169.9" cy="284.1" r="1.7" fill="#d6cec8" fill-opacity="0.78"/><circle cx="147.0" cy="280.7" r="2.1" fill="#d6cec8" fill-opacity="0.41"/><circle cx="143.3" cy="218.5" r="1.6" fill="#d6cec8" fill-opacity="0.46"/><circle cx="114.7" cy="262.8" r="1.5" fill="#d6cec8" fill-opacity="0.58"/><circle cx="92.9" cy="197.9" r="1.9" fill="#d6cec8" fill-opacity="0.52"/><circle cx="151.4" cy="281.9" r="1.0" fill="#d6cec8" fill-opacity="0.44"/><circle cx="190.2" cy="256.9" r="2.1" fill="#d6cec8" fill-opacity="0.38"/><circle cx="132.1" cy="275.4" r="2.4" fill="#d6cec8" fill-opacity="0.69"/><circle cx="207.6" cy="218.4" r="1.9" fill="#d6cec8" fill-opacity="0.81"/><circle cx="94.8" cy="248.5" r="1.4" fill="#d6cec8" fill-opacity="0.59"/><circle cx="195.2" cy="229.0" r="1.1" fill="#d6cec8" fill-opacity="0.58"/><circle cx="154.1" cy="210.9" r="2.1" fill="#d6cec8" fill-opacity="0.46"/><circle cx="138.8" cy="242.5" r="0.9" fill="#d6cec8" fill-opacity="0.79"/><circle cx="159.6" cy="211.5" r="2.3" fill="#d6cec8" fill-opacity="0.72"/><circle cx="155.4" cy="235.8" r="1.9" fill="#d6cec8" fill-opacity="0.42"/><circle cx="135.9" cy="182.6" r="1.0" fill="#d6cec8" fill-opacity="0.63"/><circle cx="146.0" cy="274.7" r="1.9" fill="#d6cec8" fill-opacity="0.71"/><circle cx="165.9" cy="224.3" r="2.0" fill="#d6cec8" fill-opacity="0.40"/><circle cx="207.8" cy="249.0" r="1.6" fill="#d6cec8" fill-opacity="0.67"/><circle cx="133.8" cy="213.7" r="1.8" fill="#d6cec8" fill-opacity="0.83"/><circle cx="154.5" cy="279.5" r="1.5" fill="#d6cec8" fill-opacity="0.83"/><circle cx="201.9" cy="265.0" r="1.0" fill="#d6cec8" fill-opacity="0.80"/><circle cx="151.1" cy="231.6" r="2.1" fill="#d6cec8" fill-opacity="0.62"/><circle cx="188.3" cy="243.4" r="1.2" fill="#d6cec8" fill-opacity="0.82"/><circle cx="102.8" cy="237.8" r="1.2" fill="#d6cec8" fill-opacity="0.34"/><circle cx="141.3" cy="225.5" r="1.1" fill="#d6cec8" fill-opacity="0.76"/><circle cx="150.7" cy="247.3" r="1.1" fill="#d6cec8" fill-opacity="0.49"/><circle cx="175.6" cy="248.5" r="1.5" fill="#d6cec8" fill-opacity="0.49"/><circle cx="198.6" cy="233.8" r="1.2" fill="#d6cec8" fill-opacity="0.67"/><circle cx="161.6" cy="259.4" r="1.3" fill="#d6cec8" fill-opacity="0.55"/><circle cx="120.5" cy="184.8" r="1.6" fill="#d6cec8" fill-opacity="0.65"/><circle cx="142.0" cy="281.3" r="1.4" fill="#d6cec8" fill-opacity="0.68"/><circle cx="186.7" cy="261.4" r="1.1" fill="#d6cec8" fill-opacity="0.83"/><circle cx="155.0" cy="213.0" r="1.4" fill="#d6cec8" fill-opacity="0.38"/><circle cx="89.7" cy="258.4" r="1.8" fill="#d6cec8" fill-opacity="0.50"/><circle cx="159.4" cy="198.3" r="2.1" fill="#d6cec8" fill-opacity="0.76"/><circle cx="117.7" cy="197.9" r="2.4" fill="#d6cec8" fill-opacity="0.31"/><circle cx="132.6" cy="263.6" r="1.6" fill="#d6cec8" fill-opacity="0.43"/><circle cx="157.6" cy="223.7" r="2.2" fill="#d6cec8" fill-opacity="0.75"/><circle cx="101.7" cy="203.9" r="2.4" fill="#d6cec8" fill-opacity="0.82"/><circle cx="152.3" cy="279.4" r="1.8" fill="#d6cec8" fill-opacity="0.44"/><circle cx="143.8" cy="254.0" r="1.1" fill="#d6cec8" fill-opacity="0.48"/><circle cx="178.7" cy="252.5" r="1.0" fill="#d6cec8" fill-opacity="0.37"/><circle cx="195.3" cy="262.9" r="1.3" fill="#d6cec8" fill-opacity="0.45"/><circle cx="125.9" cy="194.4" r="1.2" fill="#d6cec8" fill-opacity="0.84"/><circle cx="141.6" cy="273.9" r="2.1" fill="#d6cec8" fill-opacity="0.42"/><circle cx="176.4" cy="270.9" r="1.0" fill="#d6cec8" fill-opacity="0.50"/><circle cx="126.5" cy="242.4" r="1.7" fill="#d6cec8" fill-opacity="0.55"/><circle cx="138.2" cy="279.5" r="1.3" fill="#d6cec8" fill-opacity="0.80"/><circle cx="154.2" cy="257.2" r="1.3" fill="#d6cec8" fill-opacity="0.66"/><circle cx="136.0" cy="205.2" r="1.6" fill="#d6cec8" fill-opacity="0.67"/><circle cx="169.4" cy="232.6" r="1.9" fill="#d6cec8" fill-opacity="0.43"/><circle cx="123.4" cy="271.9" r="1.4" fill="#d6cec8" fill-opacity="0.33"/><circle cx="172.8" cy="186.1" r="2.1" fill="#d6cec8" fill-opacity="0.54"/><circle cx="143.9" cy="221.9" r="2.0" fill="#d6cec8" fill-opacity="0.70"/><circle cx="163.6" cy="241.5" r="1.3" fill="#d6cec8" fill-opacity="0.61"/><circle cx="134.1" cy="236.9" r="2.4" fill="#d6cec8" fill-opacity="0.60"/><circle cx="186.2" cy="233.4" r="1.5" fill="#d6cec8" fill-opacity="0.78"/><circle cx="106.2" cy="266.1" r="2.0" fill="#d6cec8" fill-opacity="0.43"/><circle cx="96.7" cy="277.6" r="2.3" fill="#d6cec8" fill-opacity="0.55"/><circle cx="98.2" cy="203.4" r="1.7" fill="#d6cec8" fill-opacity="0.43"/><circle cx="79.8" cy="252.7" r="2.2" fill="#d6cec8" fill-opacity="0.34"/><circle cx="100.6" cy="195.0" r="1.6" fill="#d6cec8" fill-opacity="0.47"/><circle cx="139.9" cy="204.4" r="1.7" fill="#d6cec8" fill-opacity="0.69"/><circle cx="123.2" cy="203.5" r="2.0" fill="#d6cec8" fill-opacity="0.69"/><circle cx="121.4" cy="246.3" r="1.8" fill="#d6cec8" fill-opacity="0.53"/><circle cx="135.1" cy="228.8" r="1.5" fill="#d6cec8" fill-opacity="0.54"/><circle cx="182.3" cy="250.5" r="2.2" fill="#d6cec8" fill-opacity="0.79"/><circle cx="115.9" cy="207.4" r="1.7" fill="#d6cec8" fill-opacity="0.80"/><circle cx="90.8" cy="221.9" r="1.6" fill="#d6cec8" fill-opacity="0.35"/><circle cx="117.1" cy="268.5" r="1.2" fill="#d6cec8" fill-opacity="0.36"/><circle cx="161.7" cy="217.4" r="1.5" fill="#d6cec8" fill-opacity="0.75"/><circle cx="177.7" cy="251.6" r="2.2" fill="#d6cec8" fill-opacity="0.48"/><circle cx="190.8" cy="271.7" r="1.8" fill="#d6cec8" fill-opacity="0.44"/><circle cx="135.8" cy="267.1" r="2.3" fill="#d6cec8" fill-opacity="0.47"/><circle cx="163.3" cy="281.4" r="2.3" fill="#d6cec8" fill-opacity="0.39"/><circle cx="139.2" cy="200.3" r="2.1" fill="#d6cec8" fill-opacity="0.72"/><circle cx="203.0" cy="226.8" r="2.0" fill="#d6cec8" fill-opacity="0.31"/><circle cx="103.1" cy="232.1" r="1.7" fill="#d6cec8" fill-opacity="0.58"/><circle cx="151.2" cy="243.3" r="1.9" fill="#d6cec8" fill-opacity="0.33"/><circle cx="73.9" cy="246.9" r="0.9" fill="#d6cec8" fill-opacity="0.71"/><circle cx="124.7" cy="241.1" r="2.3" fill="#d6cec8" fill-opacity="0.66"/><circle cx="179.6" cy="203.5" r="1.5" fill="#d6cec8" fill-opacity="0.51"/><circle cx="102.9" cy="230.0" r="1.4" fill="#d6cec8" fill-opacity="0.51"/><circle cx="74.8" cy="236.6" r="1.5" fill="#d6cec8" fill-opacity="0.43"/><circle cx="191.9" cy="256.8" r="1.3" fill="#d6cec8" fill-opacity="0.78"/><circle cx="200.1" cy="260.9" r="1.7" fill="#d6cec8" fill-opacity="0.65"/><circle cx="208.2" cy="237.6" r="1.0" fill="#d6cec8" fill-opacity="0.41"/><circle cx="106.3" cy="248.3" r="1.3" fill="#d6cec8" fill-opacity="0.65"/><circle cx="90.2" cy="198.7" r="2.0" fill="#d6cec8" fill-opacity="0.31"/><circle cx="86.7" cy="247.1" r="2.2" fill="#d6cec8" fill-opacity="0.30"/><circle cx="91.5" cy="248.4" r="1.3" fill="#d6cec8" fill-opacity="0.74"/><circle cx="116.8" cy="210.7" r="1.9" fill="#d6cec8" fill-opacity="0.32"/><circle cx="174.8" cy="274.3" r="2.2" fill="#d6cec8" fill-opacity="0.63"/><circle cx="85.9" cy="225.9" r="1.2" fill="#d6cec8" fill-opacity="0.69"/><circle cx="168.7" cy="249.5" r="2.2" fill="#d6cec8" fill-opacity="0.72"/><circle cx="193.1" cy="239.1" r="1.5" fill="#d6cec8" fill-opacity="0.77"/><circle cx="110.1" cy="281.0" r="1.5" fill="#d6cec8" fill-opacity="0.46"/><circle cx="96.8" cy="265.2" r="1.3" fill="#d6cec8" fill-opacity="0.40"/><circle cx="171.0" cy="259.6" r="1.3" fill="#d6cec8" fill-opacity="0.73"/><circle cx="165.3" cy="230.8" r="2.3" fill="#d6cec8" fill-opacity="0.66"/><circle cx="171.5" cy="252.2" r="0.8" fill="#5e5652" fill-opacity="0.56"/><circle cx="111.7" cy="253.8" r="1.6" fill="#5e5652" fill-opacity="0.58"/><circle cx="98.1" cy="203.5" r="1.8" fill="#5e5652" fill-opacity="0.42"/><circle cx="130.3" cy="240.9" r="1.9" fill="#5e5652" fill-opacity="0.33"/><circle cx="125.1" cy="207.4" r="1.0" fill="#5e5652" fill-opacity="0.57"/><circle cx="86.4" cy="223.1" r="1.8" fill="#5e5652" fill-opacity="0.58"/><circle cx="169.5" cy="228.1" r="1.3" fill="#5e5652" fill-opacity="0.50"/><circle cx="157.5" cy="289.8" r="1.3" fill="#5e5652" fill-opacity="0.44"/><circle cx="186.4" cy="250.6" r="0.8" fill="#5e5652" fill-opacity="0.46"/><circle cx="179.1" cy="237.0" r="1.5" fill="#5e5652" fill-opacity="0.55"/><circle cx="108.3" cy="243.0" r="1.8" fill="#5e5652" fill-opacity="0.59"/><circle cx="158.8" cy="261.8" r="1.8" fill="#5e5652" fill-opacity="0.56"/><circle cx="139.4" cy="230.8" r="0.8" fill="#5e5652" fill-opacity="0.55"/><circle cx="176.8" cy="280.4" r="1.2" fill="#5e5652" fill-opacity="0.38"/><circle cx="118.9" cy="259.2" r="1.0" fill="#5e5652" fill-opacity="0.30"/><circle cx="133.0" cy="223.0" r="1.4" fill="#5e5652" fill-opacity="0.45"/><circle cx="164.5" cy="241.3" r="1.1" fill="#5e5652" fill-opacity="0.59"/><circle cx="140.0" cy="285.4" r="1.5" fill="#5e5652" fill-opacity="0.34"/><circle cx="140.4" cy="224.4" r="1.2" fill="#5e5652" fill-opacity="0.34"/><circle cx="134.7" cy="217.3" r="1.0" fill="#5e5652" fill-opacity="0.54"/><circle cx="115.9" cy="233.5" r="0.9" fill="#5e5652" fill-opacity="0.35"/><circle cx="157.1" cy="202.0" r="1.4" fill="#5e5652" fill-opacity="0.53"/><circle cx="154.6" cy="262.3" r="1.4" fill="#5e5652" fill-opacity="0.58"/><circle cx="134.0" cy="214.9" r="1.1" fill="#5e5652" fill-opacity="0.57"/><circle cx="172.6" cy="267.9" r="1.6" fill="#5e5652" fill-opacity="0.50"/><circle cx="111.6" cy="284.7" r="1.8" fill="#5e5652" fill-opacity="0.49"/><circle cx="168.0" cy="283.3" r="1.3" fill="#5e5652" fill-opacity="0.31"/><circle cx="116.3" cy="254.6" r="0.9" fill="#5e5652" fill-opacity="0.31"/><circle cx="205.1" cy="218.3" r="1.6" fill="#5e5652" fill-opacity="0.37"/><circle cx="100.7" cy="273.2" r="1.0" fill="#5e5652" fill-opacity="0.47"/><circle cx="135.2" cy="220.6" r="1.8" fill="#5e5652" fill-opacity="0.59"/><circle cx="156.4" cy="222.1" r="0.8" fill="#5e5652" fill-opacity="0.53"/><circle cx="92.4" cy="219.3" r="1.7" fill="#5e5652" fill-opacity="0.53"/><circle cx="99.7" cy="252.8" r="1.4" fill="#5e5652" fill-opacity="0.39"/><circle cx="201.2" cy="268.5" r="0.8" fill="#5e5652" fill-opacity="0.32"/><circle cx="156.0" cy="220.9" r="1.5" fill="#5e5652" fill-opacity="0.53"/><circle cx="142.6" cy="257.5" r="1.9" fill="#5e5652" fill-opacity="0.52"/><circle cx="133.8" cy="263.4" r="2.0" fill="#5e5652" fill-opacity="0.45"/><circle cx="182.3" cy="243.2" r="0.8" fill="#5e5652" fill-opacity="0.52"/><circle cx="189.5" cy="258.3" r="2.0" fill="#5e5652" fill-opacity="0.31"/><circle cx="111.5" cy="227.9" r="0.8" fill="#5e5652" fill-opacity="0.52"/><circle cx="145.7" cy="259.2" r="1.6" fill="#5e5652" fill-opacity="0.59"/><circle cx="166.8" cy="283.3" r="0.8" fill="#5e5652" fill-opacity="0.45"/><circle cx="111.8" cy="282.0" r="1.4" fill="#5e5652" fill-opacity="0.57"/><circle cx="123.6" cy="219.2" r="1.8" fill="#5e5652" fill-opacity="0.48"/><circle cx="163.0" cy="251.9" r="1.8" fill="#5e5652" fill-opacity="0.41"/><circle cx="159.2" cy="191.5" r="1.9" fill="#5e5652" fill-opacity="0.58"/><circle cx="149.1" cy="219.4" r="1.7" fill="#5e5652" fill-opacity="0.54"/><circle cx="190.9" cy="248.5" r="1.7" fill="#5e5652" fill-opacity="0.59"/><circle cx="170.4" cy="231.0" r="0.9" fill="#5e5652" fill-opacity="0.38"/><circle cx="148.6" cy="290.5" r="0.8" fill="#5e5652" fill-opacity="0.48"/><circle cx="191.3" cy="226.5" r="1.3" fill="#5e5652" fill-opacity="0.53"/><circle cx="118.0" cy="189.8" r="1.9" fill="#5e5652" fill-opacity="0.43"/><circle cx="122.2" cy="261.5" r="0.9" fill="#5e5652" fill-opacity="0.43"/><circle cx="131.7" cy="186.2" r="1.1" fill="#5e5652" fill-opacity="0.59"/><circle cx="134.5" cy="192.4" r="1.6" fill="#5e5652" fill-opacity="0.40"/><circle cx="136.8" cy="281.1" r="0.9" fill="#5e5652" fill-opacity="0.33"/><circle cx="123.4" cy="241.0" r="1.3" fill="#5e5652" fill-opacity="0.43"/><circle cx="196.3" cy="271.3" r="1.7" fill="#5e5652" fill-opacity="0.52"/><circle cx="124.3" cy="239.6" r="1.3" fill="#5e5652" fill-opacity="0.42"/><circle cx="178.8" cy="220.0" r="1.2" fill="#5e5652" fill-opacity="0.34"/><circle cx="102.1" cy="229.7" r="1.8" fill="#5e5652" fill-opacity="0.37"/><circle cx="162.2" cy="241.3" r="0.7" fill="#5e5652" fill-opacity="0.31"/><circle cx="118.3" cy="260.0" r="0.9" fill="#5e5652" fill-opacity="0.34"/><circle cx="103.9" cy="233.3" r="0.8" fill="#5e5652" fill-opacity="0.53"/><circle cx="133.2" cy="279.4" r="1.7" fill="#5e5652" fill-opacity="0.59"/><circle cx="136.6" cy="236.0" r="1.7" fill="#5e5652" fill-opacity="0.30"/><circle cx="115.5" cy="274.7" r="0.7" fill="#5e5652" fill-opacity="0.53"/><circle cx="148.6" cy="184.9" r="0.8" fill="#5e5652" fill-opacity="0.39"/><circle cx="164.9" cy="286.5" r="1.7" fill="#5e5652" fill-opacity="0.31"/></g><path d="M42,276 L42,299 L64.5,299 Z" fill="#000"/></g><g clip-path="url(#c4)"><g filter="url(#d4)"><rect x="245" y="169.2" width="196.8" height="129.5" fill="#857c77"/><path d="M235,225 C265,235 285,255 300,290 L300,310 L235,310 Z" fill="#544d4a" filter="url(#b6)"/><rect x="236" y="250" width="40" height="60" fill="#4f4845" filter="url(#b6)"/><rect x="412" y="195" width="40" height="115" fill="#aaa19b" filter="url(#b6)"/><rect x="240" y="160" width="210" height="20" fill="#938a85" filter="url(#b3)"/><circle cx="266.4" cy="175.0" r="1.6" fill="#b8afa9" fill-opacity="0.77"/><circle cx="299.2" cy="170.6" r="1.7" fill="#b8afa9" fill-opacity="0.63"/><circle cx="305.6" cy="174.8" r="1.3" fill="#b8afa9" fill-opacity="0.69"/><circle cx="268.7" cy="170.2" r="1.9" fill="#b8afa9" fill-opacity="0.48"/><circle cx="297.1" cy="176.0" r="1.6" fill="#b8afa9" fill-opacity="0.37"/><circle cx="355.3" cy="174.6" r="1.0" fill="#b8afa9" fill-opacity="0.63"/><circle cx="269.6" cy="171.4" r="0.9" fill="#b8afa9" fill-opacity="0.40"/><circle cx="440.6" cy="172.0" r="2.0" fill="#b8afa9" fill-opacity="0.52"/><circle cx="366.5" cy="176.7" r="1.6" fill="#b8afa9" fill-opacity="0.36"/><circle cx="362.8" cy="174.3" r="1.0" fill="#b8afa9" fill-opacity="0.35"/><circle cx="420.0" cy="173.1" r="1.0" fill="#b8afa9" fill-opacity="0.53"/><circle cx="288.6" cy="176.0" r="1.4" fill="#b8afa9" fill-opacity="0.35"/><circle cx="393.1" cy="169.1" r="1.4" fill="#b8afa9" fill-opacity="0.35"/><circle cx="341.1" cy="174.9" r="1.4" fill="#b8afa9" fill-opacity="0.53"/><circle cx="342.0" cy="172.4" r="1.5" fill="#b8afa9" fill-opacity="0.35"/><circle cx="339.9" cy="170.4" r="1.8" fill="#b8afa9" fill-opacity="0.77"/><circle cx="385.7" cy="173.7" r="0.8" fill="#b8afa9" fill-opacity="0.65"/><circle cx="433.8" cy="172.2" r="1.2" fill="#b8afa9" fill-opacity="0.58"/><circle cx="432.8" cy="170.6" r="1.2" fill="#b8afa9" fill-opacity="0.39"/><circle cx="370.7" cy="172.7" r="1.1" fill="#b8afa9" fill-opacity="0.49"/><circle cx="441.6" cy="173.9" r="1.1" fill="#b8afa9" fill-opacity="0.77"/><circle cx="316.7" cy="170.5" r="0.8" fill="#b8afa9" fill-opacity="0.37"/><circle cx="284.8" cy="170.3" r="1.8" fill="#b8afa9" fill-opacity="0.43"/><circle cx="294.7" cy="174.0" r="1.9" fill="#b8afa9" fill-opacity="0.45"/><circle cx="397.3" cy="171.7" r="1.5" fill="#b8afa9" fill-opacity="0.60"/><circle cx="346.6" cy="176.4" r="1.2" fill="#b8afa9" fill-opacity="0.49"/><circle cx="437.0" cy="173.5" r="1.7" fill="#b8afa9" fill-opacity="0.46"/><circle cx="428.1" cy="174.1" r="1.1" fill="#b8afa9" fill-opacity="0.77"/><circle cx="338.8" cy="171.4" r="1.1" fill="#b8afa9" fill-opacity="0.35"/><circle cx="285.1" cy="174.9" r="1.0" fill="#b8afa9" fill-opacity="0.43"/><circle cx="334.5" cy="173.4" r="1.3" fill="#b8afa9" fill-opacity="0.69"/><circle cx="296.4" cy="171.7" r="1.3" fill="#b8afa9" fill-opacity="0.36"/><circle cx="289.5" cy="169.5" r="1.7" fill="#b8afa9" fill-opacity="0.37"/><circle cx="378.6" cy="170.2" r="1.6" fill="#b8afa9" fill-opacity="0.63"/><circle cx="315.7" cy="177.3" r="1.6" fill="#b8afa9" fill-opacity="0.58"/><circle cx="254.3" cy="172.1" r="1.1" fill="#b8afa9" fill-opacity="0.53"/><circle cx="257.4" cy="174.8" r="1.9" fill="#b8afa9" fill-opacity="0.57"/><circle cx="330.3" cy="177.8" r="1.8" fill="#b8afa9" fill-opacity="0.71"/><circle cx="403.8" cy="171.1" r="1.0" fill="#b8afa9" fill-opacity="0.49"/><circle cx="334.9" cy="175.8" r="1.4" fill="#b8afa9" fill-opacity="0.56"/><path d="M245,169 L306,169 C301,192 283,207 245,216 Z" fill="#9a918c" filter="url(#b1)"/><circle cx="257.9" cy="189.3" r="1.2" fill="#c0b7b1" fill-opacity="0.30"/><circle cx="263.9" cy="183.7" r="0.9" fill="#c0b7b1" fill-opacity="0.77"/><circle cx="268.9" cy="193.0" r="1.0" fill="#c0b7b1" fill-opacity="0.75"/><circle cx="250.8" cy="183.5" r="1.2" fill="#c0b7b1" fill-opacity="0.70"/><circle cx="264.9" cy="189.3" r="1.6" fill="#c0b7b1" fill-opacity="0.51"/><circle cx="282.5" cy="184.4" r="1.0" fill="#c0b7b1" fill-opacity="0.56"/><circle cx="252.8" cy="178.3" r="0.8" fill="#c0b7b1" fill-opacity="0.43"/><circle cx="282.4" cy="178.9" r="0.7" fill="#c0b7b1" fill-opacity="0.73"/><circle cx="270.3" cy="173.7" r="1.3" fill="#c0b7b1" fill-opacity="0.64"/><circle cx="274.0" cy="191.6" r="1.0" fill="#c0b7b1" fill-opacity="0.41"/><circle cx="277.8" cy="188.0" r="1.3" fill="#c0b7b1" fill-opacity="0.39"/><circle cx="262.9" cy="189.6" r="1.0" fill="#c0b7b1" fill-opacity="0.60"/><circle cx="266.9" cy="191.1" r="0.9" fill="#c0b7b1" fill-opacity="0.55"/><circle cx="281.1" cy="180.5" r="0.8" fill="#c0b7b1" fill-opacity="0.62"/><circle cx="259.0" cy="194.7" r="1.1" fill="#c0b7b1" fill-opacity="0.38"/><circle cx="268.8" cy="189.4" r="1.1" fill="#c0b7b1" fill-opacity="0.62"/><circle cx="262.8" cy="196.0" r="0.8" fill="#c0b7b1" fill-opacity="0.70"/><circle cx="248.9" cy="185.2" r="0.7" fill="#c0b7b1" fill-opacity="0.37"/><circle cx="271.5" cy="194.7" r="0.9" fill="#c0b7b1" fill-opacity="0.50"/><circle cx="267.0" cy="187.5" r="1.0" fill="#c0b7b1" fill-opacity="0.48"/><circle cx="282.1" cy="186.3" r="1.0" fill="#c0b7b1" fill-opacity="0.71"/><circle cx="255.9" cy="192.0" r="0.7" fill="#c0b7b1" fill-opacity="0.72"/><circle cx="257.1" cy="182.3" r="1.2" fill="#c0b7b1" fill-opacity="0.36"/><circle cx="279.0" cy="183.5" r="1.4" fill="#c0b7b1" fill-opacity="0.68"/><circle cx="280.8" cy="178.8" r="1.2" fill="#c0b7b1" fill-opacity="0.40"/><circle cx="269.5" cy="191.0" r="1.0" fill="#c0b7b1" fill-opacity="0.57"/><circle cx="273.1" cy="192.9" r="0.7" fill="#c0b7b1" fill-opacity="0.67"/><circle cx="251.6" cy="186.4" r="0.8" fill="#c0b7b1" fill-opacity="0.75"/><circle cx="252.2" cy="184.4" r="1.1" fill="#c0b7b1" fill-opacity="0.49"/><circle cx="250.6" cy="189.0" r="1.6" fill="#c0b7b1" fill-opacity="0.48"/><path d="M245,216 C278,208 298,193 305,171" fill="none" stroke="#3f3936" stroke-width="1.6" filter="url(#b1)"/><ellipse cx="337" cy="233" rx="68" ry="52" fill="#857c77"/><circle cx="391.2" cy="216.2" r="0.9" fill="#b8afa9" fill-opacity="0.63"/><circle cx="355.0" cy="185.1" r="1.1" fill="#b8afa9" fill-opacity="0.41"/><circle cx="277.4" cy="220.1" r="0.9" fill="#b8afa9" fill-opacity="0.45"/><circle cx="338.6" cy="262.4" r="1.6" fill="#b8afa9" fill-opacity="0.86"/><circle cx="326.9" cy="199.6" r="1.7" fill="#b8afa9" fill-opacity="0.61"/><circle cx="315.6" cy="266.7" r="1.2" fill="#b8afa9" fill-opacity="0.88"/><circle cx="364.4" cy="279.4" r="0.8" fill="#b8afa9" fill-opacity="0.87"/><circle cx="342.7" cy="253.4" r="0.9" fill="#b8afa9" fill-opacity="0.52"/><circle cx="309.3" cy="198.7" r="1.7" fill="#b8afa9" fill-opacity="0.46"/><circle cx="302.0" cy="246.9" r="0.8" fill="#b8afa9" fill-opacity="0.51"/><circle cx="303.4" cy="205.3" r="0.6" fill="#b8afa9" fill-opacity="0.77"/><circle cx="358.7" cy="213.3" r="1.6" fill="#b8afa9" fill-opacity="0.68"/><circle cx="300.2" cy="265.2" r="1.5" fill="#b8afa9" fill-opacity="0.40"/><circle cx="384.2" cy="224.8" r="1.2" fill="#b8afa9" fill-opacity="0.87"/><circle cx="330.4" cy="206.1" r="0.7" fill="#b8afa9" fill-opacity="0.84"/><circle cx="330.9" cy="255.0" r="1.3" fill="#b8afa9" fill-opacity="0.89"/><circle cx="337.6" cy="275.7" r="0.9" fill="#b8afa9" fill-opacity="0.46"/><circle cx="356.0" cy="184.0" r="1.7" fill="#b8afa9" fill-opacity="0.56"/><circle cx="326.7" cy="211.2" r="1.0" fill="#b8afa9" fill-opacity="0.67"/><circle cx="315.7" cy="206.6" r="1.7" fill="#b8afa9" fill-opacity="0.62"/><circle cx="329.4" cy="278.5" r="1.0" fill="#b8afa9" fill-opacity="0.59"/><circle cx="323.3" cy="205.6" r="1.4" fill="#b8afa9" fill-opacity="0.54"/><circle cx="338.3" cy="240.4" r="1.4" fill="#b8afa9" fill-opacity="0.77"/><circle cx="334.4" cy="279.8" r="1.6" fill="#b8afa9" fill-opacity="0.87"/><circle cx="366.1" cy="228.2" r="1.0" fill="#b8afa9" fill-opacity="0.83"/><circle cx="333.4" cy="258.8" r="1.0" fill="#b8afa9" fill-opacity="0.58"/><circle cx="308.4" cy="232.4" r="1.4" fill="#b8afa9" fill-opacity="0.82"/><circle cx="397.5" cy="250.0" r="0.9" fill="#b8afa9" fill-opacity="0.86"/><circle cx="276.4" cy="223.9" r="1.6" fill="#b8afa9" fill-opacity="0.82"/><circle cx="349.9" cy="271.3" r="0.8" fill="#b8afa9" fill-opacity="0.42"/><circle cx="309.4" cy="277.8" r="0.6" fill="#b8afa9" fill-opacity="0.56"/><circle cx="338.1" cy="202.4" r="1.6" fill="#b8afa9" fill-opacity="0.45"/><circle cx="324.5" cy="272.6" r="1.0" fill="#b8afa9" fill-opacity="0.69"/><circle cx="378.4" cy="245.3" r="1.5" fill="#b8afa9" fill-opacity="0.41"/><circle cx="342.6" cy="183.2" r="1.5" fill="#b8afa9" fill-opacity="0.41"/><circle cx="281.9" cy="225.6" r="1.3" fill="#b8afa9" fill-opacity="0.41"/><circle cx="356.0" cy="191.7" r="1.0" fill="#b8afa9" fill-opacity="0.42"/><circle cx="367.9" cy="267.4" r="1.4" fill="#b8afa9" fill-opacity="0.56"/><circle cx="325.4" cy="272.5" r="1.3" fill="#b8afa9" fill-opacity="0.79"/><circle cx="338.7" cy="262.5" r="1.1" fill="#b8afa9" fill-opacity="0.54"/><circle cx="334.0" cy="185.3" r="1.3" fill="#b8afa9" fill-opacity="0.57"/><circle cx="293.6" cy="263.4" r="1.2" fill="#b8afa9" fill-opacity="0.56"/><circle cx="326.8" cy="237.9" r="0.6" fill="#b8afa9" fill-opacity="0.58"/><circle cx="403.3" cy="234.1" r="1.7" fill="#b8afa9" fill-opacity="0.41"/><circle cx="279.2" cy="259.5" r="1.7" fill="#b8afa9" fill-opacity="0.78"/><circle cx="351.3" cy="220.7" r="1.0" fill="#b8afa9" fill-opacity="0.47"/><circle cx="323.0" cy="193.7" r="1.5" fill="#b8afa9" fill-opacity="0.67"/><circle cx="320.4" cy="269.6" r="0.9" fill="#b8afa9" fill-opacity="0.84"/><circle cx="366.6" cy="246.3" r="1.3" fill="#b8afa9" fill-opacity="0.72"/><circle cx="345.0" cy="280.9" r="0.9" fill="#b8afa9" fill-opacity="0.86"/><circle cx="389.1" cy="247.2" r="0.7" fill="#b8afa9" fill-opacity="0.84"/><circle cx="320.5" cy="215.6" r="1.6" fill="#b8afa9" fill-opacity="0.44"/><circle cx="356.7" cy="204.5" r="1.6" fill="#b8afa9" fill-opacity="0.51"/><circle cx="283.5" cy="231.6" r="1.1" fill="#b8afa9" fill-opacity="0.78"/><circle cx="307.2" cy="211.4" r="0.9" fill="#b8afa9" fill-opacity="0.68"/><circle cx="286.9" cy="239.3" r="1.5" fill="#b8afa9" fill-opacity="0.74"/><circle cx="303.8" cy="231.0" r="0.7" fill="#b8afa9" fill-opacity="0.64"/><circle cx="357.0" cy="276.8" r="0.9" fill="#b8afa9" fill-opacity="0.56"/><circle cx="361.6" cy="197.2" r="0.9" fill="#b8afa9" fill-opacity="0.71"/><circle cx="339.5" cy="198.4" r="0.8" fill="#b8afa9" fill-opacity="0.65"/><circle cx="387.0" cy="201.9" r="1.4" fill="#b8afa9" fill-opacity="0.67"/><circle cx="306.8" cy="224.0" r="1.5" fill="#b8afa9" fill-opacity="0.45"/><circle cx="343.4" cy="230.8" r="0.7" fill="#b8afa9" fill-opacity="0.61"/><circle cx="292.2" cy="223.0" r="0.6" fill="#b8afa9" fill-opacity="0.68"/><circle cx="378.4" cy="271.9" r="1.6" fill="#b8afa9" fill-opacity="0.53"/><circle cx="377.8" cy="218.3" r="1.4" fill="#b8afa9" fill-opacity="0.64"/><circle cx="370.1" cy="222.6" r="1.7" fill="#b8afa9" fill-opacity="0.63"/><circle cx="377.7" cy="199.7" r="1.4" fill="#b8afa9" fill-opacity="0.51"/><circle cx="324.6" cy="220.5" r="1.3" fill="#b8afa9" fill-opacity="0.69"/><circle cx="306.4" cy="278.0" r="0.6" fill="#b8afa9" fill-opacity="0.64"/><circle cx="347.6" cy="268.0" r="1.5" fill="#b8afa9" fill-opacity="0.46"/><circle cx="285.3" cy="205.7" r="1.4" fill="#b8afa9" fill-opacity="0.69"/><circle cx="362.8" cy="203.4" r="1.1" fill="#b8afa9" fill-opacity="0.56"/><circle cx="399.9" cy="240.1" r="1.4" fill="#b8afa9" fill-opacity="0.62"/><circle cx="299.7" cy="257.6" r="0.8" fill="#b8afa9" fill-opacity="0.64"/><circle cx="315.4" cy="194.7" r="1.0" fill="#b8afa9" fill-opacity="0.65"/><circle cx="328.1" cy="211.5" r="0.9" fill="#b8afa9" fill-opacity="0.58"/><circle cx="341.2" cy="281.9" r="0.7" fill="#b8afa9" fill-opacity="0.50"/><circle cx="322.9" cy="239.8" r="0.7" fill="#b8afa9" fill-opacity="0.41"/><circle cx="344.3" cy="182.8" r="1.5" fill="#b8afa9" fill-opacity="0.74"/><circle cx="332.6" cy="284.7" r="1.1" fill="#b8afa9" fill-opacity="0.87"/><circle cx="325.7" cy="236.2" r="1.3" fill="#b8afa9" fill-opacity="0.46"/><circle cx="365.4" cy="211.4" r="1.6" fill="#b8afa9" fill-opacity="0.80"/><circle cx="329.2" cy="184.6" r="0.8" fill="#b8afa9" fill-opacity="0.43"/><circle cx="404.2" cy="229.5" r="0.9" fill="#b8afa9" fill-opacity="0.48"/><circle cx="307.0" cy="192.2" r="1.5" fill="#b8afa9" fill-opacity="0.86"/><circle cx="351.5" cy="269.8" r="1.0" fill="#b8afa9" fill-opacity="0.79"/><circle cx="270.7" cy="234.9" r="1.4" fill="#b8afa9" fill-opacity="0.61"/><circle cx="379.4" cy="210.6" r="1.4" fill="#b8afa9" fill-opacity="0.48"/><circle cx="352.8" cy="255.0" r="1.3" fill="#b8afa9" fill-opacity="0.62"/><circle cx="381.2" cy="223.9" r="0.7" fill="#b8afa9" fill-opacity="0.48"/><circle cx="289.4" cy="262.0" r="0.7" fill="#b8afa9" fill-opacity="0.88"/><circle cx="347.4" cy="188.3" r="1.6" fill="#b8afa9" fill-opacity="0.89"/><circle cx="300.8" cy="239.5" r="0.9" fill="#b8afa9" fill-opacity="0.47"/><circle cx="299.2" cy="202.2" r="0.8" fill="#b8afa9" fill-opacity="0.54"/><circle cx="365.2" cy="191.9" r="1.5" fill="#b8afa9" fill-opacity="0.87"/><circle cx="306.6" cy="229.6" r="1.5" fill="#b8afa9" fill-opacity="0.64"/><circle cx="312.1" cy="276.2" r="1.7" fill="#b8afa9" fill-opacity="0.52"/><circle cx="381.3" cy="216.8" r="1.7" fill="#b8afa9" fill-opacity="0.41"/><circle cx="297.4" cy="223.1" r="1.2" fill="#b8afa9" fill-opacity="0.79"/><circle cx="301.8" cy="191.4" r="1.6" fill="#b8afa9" fill-opacity="0.66"/><circle cx="296.5" cy="214.5" r="0.9" fill="#b8afa9" fill-opacity="0.63"/><circle cx="312.8" cy="246.1" r="0.8" fill="#b8afa9" fill-opacity="0.74"/><circle cx="393.3" cy="259.4" r="0.7" fill="#b8afa9" fill-opacity="0.64"/><circle cx="333.0" cy="242.3" r="1.1" fill="#b8afa9" fill-opacity="0.90"/><circle cx="322.9" cy="197.4" r="1.6" fill="#b8afa9" fill-opacity="0.51"/><circle cx="359.2" cy="227.1" r="1.1" fill="#b8afa9" fill-opacity="0.67"/><circle cx="303.6" cy="248.1" r="1.3" fill="#b8afa9" fill-opacity="0.81"/><circle cx="380.5" cy="214.4" r="1.7" fill="#b8afa9" fill-opacity="0.69"/><circle cx="295.7" cy="235.0" r="1.2" fill="#b8afa9" fill-opacity="0.66"/><circle cx="321.4" cy="241.8" r="1.2" fill="#b8afa9" fill-opacity="0.80"/><circle cx="315.6" cy="228.4" r="0.6" fill="#b8afa9" fill-opacity="0.77"/><circle cx="339.4" cy="240.3" r="1.0" fill="#b8afa9" fill-opacity="0.68"/><circle cx="341.7" cy="212.1" r="1.2" fill="#b8afa9" fill-opacity="0.65"/><circle cx="312.3" cy="200.0" r="1.0" fill="#b8afa9" fill-opacity="0.85"/><circle cx="376.7" cy="228.7" r="1.5" fill="#b8afa9" fill-opacity="0.66"/><circle cx="289.2" cy="254.6" r="1.5" fill="#b8afa9" fill-opacity="0.74"/><circle cx="309.0" cy="230.6" r="0.7" fill="#b8afa9" fill-opacity="0.52"/><circle cx="367.0" cy="231.4" r="1.4" fill="#b8afa9" fill-opacity="0.75"/><circle cx="333.0" cy="207.2" r="1.1" fill="#b8afa9" fill-opacity="0.67"/><circle cx="320.7" cy="204.4" r="1.2" fill="#b8afa9" fill-opacity="0.72"/><circle cx="300.4" cy="194.3" r="1.4" fill="#b8afa9" fill-opacity="0.89"/><circle cx="368.3" cy="266.4" r="1.4" fill="#b8afa9" fill-opacity="0.59"/><circle cx="348.0" cy="228.9" r="1.7" fill="#b8afa9" fill-opacity="0.46"/><circle cx="310.6" cy="240.4" r="1.6" fill="#b8afa9" fill-opacity="0.84"/><circle cx="372.5" cy="247.8" r="1.4" fill="#b8afa9" fill-opacity="0.55"/><circle cx="275.1" cy="242.3" r="0.8" fill="#b8afa9" fill-opacity="0.63"/><circle cx="300.6" cy="234.8" r="1.5" fill="#b8afa9" fill-opacity="0.74"/><circle cx="320.7" cy="273.9" r="0.8" fill="#b8afa9" fill-opacity="0.81"/><circle cx="284.7" cy="221.4" r="0.7" fill="#b8afa9" fill-opacity="0.57"/><circle cx="323.3" cy="197.5" r="1.1" fill="#b8afa9" fill-opacity="0.82"/><circle cx="359.1" cy="212.3" r="0.7" fill="#b8afa9" fill-opacity="0.46"/><circle cx="379.7" cy="207.9" r="1.2" fill="#b8afa9" fill-opacity="0.50"/><circle cx="364.1" cy="189.8" r="1.1" fill="#b8afa9" fill-opacity="0.62"/><circle cx="338.6" cy="202.8" r="1.4" fill="#b8afa9" fill-opacity="0.88"/><circle cx="306.8" cy="216.3" r="1.6" fill="#b8afa9" fill-opacity="0.42"/><circle cx="274.8" cy="236.4" r="1.1" fill="#b8afa9" fill-opacity="0.51"/><circle cx="362.2" cy="222.2" r="1.7" fill="#b8afa9" fill-opacity="0.51"/><circle cx="340.4" cy="194.2" r="0.7" fill="#b8afa9" fill-opacity="0.88"/><circle cx="389.5" cy="258.5" r="1.2" fill="#b8afa9" fill-opacity="0.74"/><circle cx="299.7" cy="200.1" r="0.8" fill="#b8afa9" fill-opacity="0.53"/><circle cx="323.1" cy="233.3" r="0.9" fill="#b8afa9" fill-opacity="0.58"/><circle cx="377.7" cy="264.1" r="0.9" fill="#b8afa9" fill-opacity="0.68"/><circle cx="283.6" cy="246.3" r="1.3" fill="#b8afa9" fill-opacity="0.49"/><circle cx="383.6" cy="244.6" r="1.7" fill="#b8afa9" fill-opacity="0.53"/><circle cx="289.7" cy="261.9" r="1.4" fill="#b8afa9" fill-opacity="0.52"/><circle cx="329.2" cy="199.2" r="1.1" fill="#b8afa9" fill-opacity="0.89"/><circle cx="304.9" cy="218.3" r="1.6" fill="#b8afa9" fill-opacity="0.89"/><circle cx="339.0" cy="238.4" r="1.2" fill="#b8afa9" fill-opacity="0.75"/><circle cx="345.9" cy="228.9" r="1.5" fill="#b8afa9" fill-opacity="0.74"/><circle cx="369.2" cy="264.2" r="1.0" fill="#b8afa9" fill-opacity="0.40"/><circle cx="314.8" cy="282.1" r="1.4" fill="#b8afa9" fill-opacity="0.57"/><circle cx="369.4" cy="238.5" r="1.7" fill="#b8afa9" fill-opacity="0.55"/><circle cx="316.3" cy="217.7" r="1.1" fill="#b8afa9" fill-opacity="0.63"/><circle cx="295.2" cy="227.5" r="0.7" fill="#b8afa9" fill-opacity="0.71"/><circle cx="382.7" cy="214.7" r="1.1" fill="#b8afa9" fill-opacity="0.88"/><circle cx="382.8" cy="252.5" r="1.2" fill="#b8afa9" fill-opacity="0.88"/><circle cx="333.5" cy="245.4" r="1.6" fill="#b8afa9" fill-opacity="0.58"/><circle cx="327.3" cy="249.7" r="1.4" fill="#b8afa9" fill-opacity="0.75"/><circle cx="324.4" cy="210.0" r="1.4" fill="#b8afa9" fill-opacity="0.76"/><circle cx="339.7" cy="207.7" r="0.7" fill="#b8afa9" fill-opacity="0.66"/><circle cx="370.4" cy="225.0" r="1.6" fill="#b8afa9" fill-opacity="0.84"/><circle cx="310.7" cy="236.7" r="1.0" fill="#b8afa9" fill-opacity="0.50"/><circle cx="335.6" cy="204.3" r="1.6" fill="#b8afa9" fill-opacity="0.89"/><circle cx="304.0" cy="198.3" r="0.8" fill="#b8afa9" fill-opacity="0.86"/><circle cx="313.8" cy="266.7" r="1.7" fill="#b8afa9" fill-opacity="0.57"/><circle cx="274.9" cy="251.1" r="0.9" fill="#b8afa9" fill-opacity="0.52"/><circle cx="337.8" cy="263.5" r="1.1" fill="#b8afa9" fill-opacity="0.68"/><circle cx="372.1" cy="190.6" r="1.2" fill="#b8afa9" fill-opacity="0.42"/><circle cx="296.7" cy="193.9" r="0.8" fill="#b8afa9" fill-opacity="0.86"/><circle cx="271.5" cy="231.4" r="0.7" fill="#b8afa9" fill-opacity="0.41"/><circle cx="395.0" cy="233.3" r="1.5" fill="#b8afa9" fill-opacity="0.71"/><circle cx="347.1" cy="260.9" r="0.6" fill="#b8afa9" fill-opacity="0.50"/><circle cx="295.2" cy="222.2" r="1.3" fill="#b8afa9" fill-opacity="0.69"/><circle cx="302.1" cy="251.2" r="1.4" fill="#b8afa9" fill-opacity="0.73"/><circle cx="378.4" cy="264.4" r="0.6" fill="#b8afa9" fill-opacity="0.55"/><circle cx="367.6" cy="221.2" r="1.6" fill="#b8afa9" fill-opacity="0.41"/><circle cx="330.8" cy="282.5" r="1.0" fill="#b8afa9" fill-opacity="0.74"/><circle cx="387.2" cy="264.6" r="1.0" fill="#b8afa9" fill-opacity="0.62"/><circle cx="373.9" cy="236.2" r="1.1" fill="#b8afa9" fill-opacity="0.87"/><circle cx="303.8" cy="253.4" r="1.0" fill="#b8afa9" fill-opacity="0.71"/><circle cx="371.8" cy="273.5" r="1.5" fill="#b8afa9" fill-opacity="0.65"/><circle cx="347.9" cy="252.5" r="1.4" fill="#b8afa9" fill-opacity="0.86"/><circle cx="399.6" cy="247.6" r="0.7" fill="#b8afa9" fill-opacity="0.55"/><circle cx="288.1" cy="213.5" r="0.8" fill="#b8afa9" fill-opacity="0.76"/><circle cx="289.5" cy="228.3" r="0.7" fill="#b8afa9" fill-opacity="0.60"/><circle cx="304.3" cy="237.1" r="0.9" fill="#b8afa9" fill-opacity="0.51"/><circle cx="316.8" cy="279.2" r="1.7" fill="#b8afa9" fill-opacity="0.48"/><circle cx="311.6" cy="262.2" r="1.4" fill="#b8afa9" fill-opacity="0.75"/><circle cx="336.0" cy="227.2" r="0.7" fill="#b8afa9" fill-opacity="0.73"/><circle cx="356.1" cy="219.7" r="0.8" fill="#b8afa9" fill-opacity="0.53"/><circle cx="350.4" cy="260.9" r="1.4" fill="#b8afa9" fill-opacity="0.59"/><circle cx="362.4" cy="203.0" r="0.9" fill="#b8afa9" fill-opacity="0.72"/><circle cx="284.1" cy="234.3" r="1.4" fill="#b8afa9" fill-opacity="0.42"/><circle cx="346.1" cy="238.6" r="0.8" fill="#b8afa9" fill-opacity="0.58"/><circle cx="364.6" cy="191.2" r="0.7" fill="#b8afa9" fill-opacity="0.79"/><circle cx="329.2" cy="196.8" r="1.0" fill="#b8afa9" fill-opacity="0.63"/><circle cx="307.5" cy="216.5" r="1.1" fill="#b8afa9" fill-opacity="0.76"/><circle cx="296.4" cy="198.4" r="1.1" fill="#b8afa9" fill-opacity="0.55"/><circle cx="301.0" cy="197.0" r="1.5" fill="#b8afa9" fill-opacity="0.80"/><circle cx="284.9" cy="249.0" r="1.1" fill="#b8afa9" fill-opacity="0.43"/><circle cx="283.4" cy="234.8" r="1.4" fill="#b8afa9" fill-opacity="0.78"/><circle cx="365.3" cy="188.9" r="1.0" fill="#b8afa9" fill-opacity="0.46"/><circle cx="366.9" cy="263.4" r="0.9" fill="#b8afa9" fill-opacity="0.69"/><circle cx="302.8" cy="219.2" r="0.8" fill="#b8afa9" fill-opacity="0.56"/><circle cx="322.8" cy="267.1" r="1.3" fill="#b8afa9" fill-opacity="0.73"/><circle cx="332.3" cy="198.7" r="0.9" fill="#b8afa9" fill-opacity="0.45"/><circle cx="351.3" cy="197.8" r="1.3" fill="#b8afa9" fill-opacity="0.41"/><circle cx="368.0" cy="206.7" r="0.8" fill="#b8afa9" fill-opacity="0.63"/><circle cx="299.1" cy="262.8" r="1.3" fill="#b8afa9" fill-opacity="0.63"/><circle cx="341.6" cy="260.6" r="1.3" fill="#b8afa9" fill-opacity="0.61"/><circle cx="344.6" cy="226.5" r="1.3" fill="#b8afa9" fill-opacity="0.80"/><circle cx="319.7" cy="232.4" r="1.1" fill="#b8afa9" fill-opacity="0.63"/><circle cx="360.3" cy="245.9" r="0.8" fill="#b8afa9" fill-opacity="0.64"/><circle cx="384.4" cy="228.5" r="1.1" fill="#b8afa9" fill-opacity="0.54"/><circle cx="324.5" cy="221.3" r="0.8" fill="#b8afa9" fill-opacity="0.70"/><circle cx="327.3" cy="220.6" r="1.6" fill="#b8afa9" fill-opacity="0.78"/><circle cx="302.7" cy="246.7" r="0.9" fill="#b8afa9" fill-opacity="0.58"/><circle cx="282.5" cy="234.1" r="1.3" fill="#b8afa9" fill-opacity="0.53"/><circle cx="317.9" cy="206.8" r="1.4" fill="#b8afa9" fill-opacity="0.86"/><circle cx="385.4" cy="260.2" r="1.2" fill="#4e4744" fill-opacity="0.56"/><circle cx="311.1" cy="273.6" r="1.4" fill="#4e4744" fill-opacity="0.69"/><circle cx="355.8" cy="189.1" r="1.3" fill="#4e4744" fill-opacity="0.47"/><circle cx="306.9" cy="192.4" r="1.2" fill="#4e4744" fill-opacity="0.47"/><circle cx="292.1" cy="218.3" r="0.6" fill="#4e4744" fill-opacity="0.43"/><circle cx="393.7" cy="223.8" r="0.7" fill="#4e4744" fill-opacity="0.47"/><circle cx="338.6" cy="226.4" r="1.0" fill="#4e4744" fill-opacity="0.54"/><circle cx="372.0" cy="196.7" r="0.5" fill="#4e4744" fill-opacity="0.44"/><circle cx="306.1" cy="231.1" r="0.7" fill="#4e4744" fill-opacity="0.47"/><circle cx="287.0" cy="265.2" r="1.3" fill="#4e4744" fill-opacity="0.52"/><circle cx="372.6" cy="250.4" r="1.3" fill="#4e4744" fill-opacity="0.77"/><circle cx="347.3" cy="205.7" r="0.9" fill="#4e4744" fill-opacity="0.61"/><circle cx="278.0" cy="211.8" r="0.6" fill="#4e4744" fill-opacity="0.69"/><circle cx="301.2" cy="197.2" r="0.8" fill="#4e4744" fill-opacity="0.65"/><circle cx="364.1" cy="219.2" r="0.8" fill="#4e4744" fill-opacity="0.41"/><circle cx="333.5" cy="246.8" r="1.0" fill="#4e4744" fill-opacity="0.65"/><circle cx="343.7" cy="266.7" r="1.3" fill="#4e4744" fill-opacity="0.60"/><circle cx="385.2" cy="198.1" r="0.7" fill="#4e4744" fill-opacity="0.76"/><circle cx="313.3" cy="220.1" r="0.6" fill="#4e4744" fill-opacity="0.63"/><circle cx="367.1" cy="189.0" r="0.8" fill="#4e4744" fill-opacity="0.42"/><circle cx="326.8" cy="205.0" r="1.0" fill="#4e4744" fill-opacity="0.67"/><circle cx="326.8" cy="232.2" r="1.4" fill="#4e4744" fill-opacity="0.67"/><circle cx="282.8" cy="261.8" r="0.9" fill="#4e4744" fill-opacity="0.75"/><circle cx="288.5" cy="230.5" r="1.4" fill="#4e4744" fill-opacity="0.72"/><circle cx="386.4" cy="250.5" r="0.6" fill="#4e4744" fill-opacity="0.69"/><circle cx="336.2" cy="189.3" r="0.6" fill="#4e4744" fill-opacity="0.77"/><circle cx="352.1" cy="227.9" r="0.9" fill="#4e4744" fill-opacity="0.58"/><circle cx="345.6" cy="193.9" r="1.2" fill="#4e4744" fill-opacity="0.56"/><circle cx="318.4" cy="200.6" r="0.7" fill="#4e4744" fill-opacity="0.64"/><circle cx="370.9" cy="271.1" r="1.0" fill="#4e4744" fill-opacity="0.75"/><circle cx="391.3" cy="247.5" r="1.2" fill="#4e4744" fill-opacity="0.58"/><circle cx="285.3" cy="225.3" r="0.9" fill="#4e4744" fill-opacity="0.50"/><circle cx="297.8" cy="224.8" r="1.4" fill="#4e4744" fill-opacity="0.80"/><circle cx="291.7" cy="268.6" r="0.8" fill="#4e4744" fill-opacity="0.56"/><circle cx="389.1" cy="251.3" r="1.3" fill="#4e4744" fill-opacity="0.44"/><circle cx="334.7" cy="203.8" r="1.2" fill="#4e4744" fill-opacity="0.41"/><circle cx="327.7" cy="254.5" r="1.1" fill="#4e4744" fill-opacity="0.63"/><circle cx="343.3" cy="200.5" r="0.8" fill="#4e4744" fill-opacity="0.66"/><circle cx="349.3" cy="225.3" r="0.6" fill="#4e4744" fill-opacity="0.59"/><circle cx="344.6" cy="248.4" r="1.1" fill="#4e4744" fill-opacity="0.51"/><circle cx="347.9" cy="250.4" r="0.8" fill="#4e4744" fill-opacity="0.74"/><circle cx="270.5" cy="223.4" r="0.6" fill="#4e4744" fill-opacity="0.69"/><circle cx="348.5" cy="256.2" r="1.1" fill="#4e4744" fill-opacity="0.40"/><circle cx="352.5" cy="209.4" r="1.4" fill="#4e4744" fill-opacity="0.62"/><circle cx="391.8" cy="244.9" r="1.4" fill="#4e4744" fill-opacity="0.61"/><circle cx="284.2" cy="207.0" r="0.8" fill="#4e4744" fill-opacity="0.77"/><circle cx="287.3" cy="209.8" r="1.0" fill="#4e4744" fill-opacity="0.59"/><circle cx="329.8" cy="184.0" r="0.6" fill="#4e4744" fill-opacity="0.52"/><circle cx="385.9" cy="247.2" r="1.2" fill="#4e4744" fill-opacity="0.46"/><circle cx="328.3" cy="281.0" r="0.9" fill="#4e4744" fill-opacity="0.53"/><circle cx="367.7" cy="196.9" r="1.1" fill="#4e4744" fill-opacity="0.47"/><circle cx="395.0" cy="247.3" r="1.3" fill="#4e4744" fill-opacity="0.76"/><circle cx="360.0" cy="241.6" r="0.7" fill="#4e4744" fill-opacity="0.71"/><circle cx="379.3" cy="227.7" r="0.5" fill="#4e4744" fill-opacity="0.51"/><circle cx="349.6" cy="248.9" r="1.3" fill="#4e4744" fill-opacity="0.40"/><circle cx="358.1" cy="209.5" r="0.8" fill="#4e4744" fill-opacity="0.70"/><circle cx="326.4" cy="228.6" r="1.1" fill="#4e4744" fill-opacity="0.74"/><circle cx="400.5" cy="215.2" r="0.9" fill="#4e4744" fill-opacity="0.45"/><circle cx="307.7" cy="243.0" r="0.9" fill="#4e4744" fill-opacity="0.53"/><circle cx="357.5" cy="269.3" r="0.8" fill="#4e4744" fill-opacity="0.56"/><circle cx="346.2" cy="279.4" r="1.1" fill="#4e4744" fill-opacity="0.48"/><circle cx="326.1" cy="208.4" r="0.9" fill="#4e4744" fill-opacity="0.62"/><circle cx="324.2" cy="211.9" r="0.7" fill="#4e4744" fill-opacity="0.49"/><circle cx="337.4" cy="193.4" r="0.7" fill="#4e4744" fill-opacity="0.75"/><circle cx="292.8" cy="270.2" r="1.0" fill="#4e4744" fill-opacity="0.53"/><circle cx="320.7" cy="195.7" r="1.2" fill="#4e4744" fill-opacity="0.51"/><circle cx="339.0" cy="267.4" r="1.0" fill="#4e4744" fill-opacity="0.55"/><circle cx="362.1" cy="270.3" r="1.0" fill="#4e4744" fill-opacity="0.58"/><circle cx="346.7" cy="196.4" r="1.2" fill="#4e4744" fill-opacity="0.64"/><circle cx="290.3" cy="197.1" r="1.2" fill="#4e4744" fill-opacity="0.77"/><circle cx="323.0" cy="182.2" r="1.4" fill="#4e4744" fill-opacity="0.42"/><circle cx="401.5" cy="233.8" r="1.3" fill="#4e4744" fill-opacity="0.48"/><circle cx="341.7" cy="238.7" r="1.3" fill="#4e4744" fill-opacity="0.79"/><circle cx="286.8" cy="256.0" r="0.6" fill="#4e4744" fill-opacity="0.76"/><circle cx="400.8" cy="228.9" r="0.9" fill="#4e4744" fill-opacity="0.55"/><circle cx="344.3" cy="213.0" r="0.8" fill="#4e4744" fill-opacity="0.46"/><circle cx="348.4" cy="188.9" r="0.6" fill="#4e4744" fill-opacity="0.64"/><circle cx="378.6" cy="263.9" r="1.2" fill="#4e4744" fill-opacity="0.72"/><circle cx="387.0" cy="238.0" r="1.1" fill="#4e4744" fill-opacity="0.46"/><circle cx="334.0" cy="252.4" r="1.2" fill="#4e4744" fill-opacity="0.51"/><circle cx="369.6" cy="198.3" r="1.4" fill="#4e4744" fill-opacity="0.71"/><circle cx="355.8" cy="216.0" r="1.2" fill="#4e4744" fill-opacity="0.67"/><circle cx="353.8" cy="209.0" r="0.8" fill="#4e4744" fill-opacity="0.45"/><circle cx="352.8" cy="222.4" r="0.8" fill="#4e4744" fill-opacity="0.62"/><circle cx="358.3" cy="229.6" r="0.8" fill="#4e4744" fill-opacity="0.75"/><circle cx="352.5" cy="260.1" r="1.1" fill="#4e4744" fill-opacity="0.42"/><circle cx="384.5" cy="207.0" r="1.0" fill="#4e4744" fill-opacity="0.66"/><circle cx="350.9" cy="201.5" r="0.8" fill="#4e4744" fill-opacity="0.64"/><circle cx="353.3" cy="270.5" r="1.3" fill="#4e4744" fill-opacity="0.78"/><circle cx="364.5" cy="277.5" r="1.2" fill="#4e4744" fill-opacity="0.55"/><circle cx="351.3" cy="249.1" r="1.2" fill="#4e4744" fill-opacity="0.63"/><circle cx="294.0" cy="240.4" r="0.8" fill="#4e4744" fill-opacity="0.46"/><circle cx="377.3" cy="218.6" r="1.3" fill="#4e4744" fill-opacity="0.75"/><circle cx="365.3" cy="196.6" r="0.7" fill="#4e4744" fill-opacity="0.41"/><circle cx="401.5" cy="248.0" r="0.8" fill="#4e4744" fill-opacity="0.64"/><circle cx="378.8" cy="262.8" r="1.1" fill="#4e4744" fill-opacity="0.69"/><circle cx="286.5" cy="231.1" r="0.7" fill="#4e4744" fill-opacity="0.63"/><circle cx="372.7" cy="203.4" r="0.9" fill="#4e4744" fill-opacity="0.74"/><circle cx="287.6" cy="223.8" r="1.2" fill="#4e4744" fill-opacity="0.42"/><circle cx="332.3" cy="187.5" r="1.0" fill="#4e4744" fill-opacity="0.42"/><circle cx="331.2" cy="184.6" r="1.0" fill="#4e4744" fill-opacity="0.71"/><circle cx="305.0" cy="210.2" r="0.9" fill="#4e4744" fill-opacity="0.56"/><circle cx="296.1" cy="193.3" r="0.8" fill="#4e4744" fill-opacity="0.78"/><circle cx="312.8" cy="227.8" r="0.6" fill="#4e4744" fill-opacity="0.66"/><circle cx="294.1" cy="200.5" r="0.7" fill="#4e4744" fill-opacity="0.43"/><circle cx="361.5" cy="231.5" r="1.4" fill="#4e4744" fill-opacity="0.46"/><circle cx="313.3" cy="198.1" r="0.9" fill="#4e4744" fill-opacity="0.43"/><circle cx="319.0" cy="229.4" r="0.5" fill="#4e4744" fill-opacity="0.55"/><circle cx="299.2" cy="190.1" r="0.8" fill="#4e4744" fill-opacity="0.50"/><circle cx="389.5" cy="238.4" r="1.3" fill="#4e4744" fill-opacity="0.49"/><circle cx="272.4" cy="232.4" r="1.0" fill="#4e4744" fill-opacity="0.52"/><circle cx="358.7" cy="259.4" r="0.5" fill="#4e4744" fill-opacity="0.68"/><circle cx="389.1" cy="214.1" r="1.4" fill="#4e4744" fill-opacity="0.78"/><circle cx="382.6" cy="205.3" r="0.6" fill="#4e4744" fill-opacity="0.55"/><circle cx="340.9" cy="224.2" r="0.9" fill="#4e4744" fill-opacity="0.41"/><circle cx="378.9" cy="256.1" r="0.6" fill="#4e4744" fill-opacity="0.51"/><circle cx="391.1" cy="252.3" r="0.9" fill="#4e4744" fill-opacity="0.79"/><circle cx="323.3" cy="226.3" r="0.6" fill="#4e4744" fill-opacity="0.75"/><circle cx="325.6" cy="272.3" r="1.3" fill="#4e4744" fill-opacity="0.53"/><circle cx="344.6" cy="239.9" r="0.6" fill="#4e4744" fill-opacity="0.58"/><ellipse cx="337" cy="233" rx="68" ry="52" fill="none" stroke="#3a3431" stroke-width="1.6" filter="url(#b1)"/></g><g filter="url(#e4)"><path d="M273,237 C271,222 274,211 279,205 C285,196 292,190 300,188 C308,185 322,184 333,187 C341,189 347,194 351,201 C353,205 355,209 356,213 C357,207 359,203 361,200 C364,195 372,189 380,188 C388,188 394,195 398,208 C401,218 403,232 401,248 C399,258 396,264 391,268 C384,274 374,276 360,277 C345,278 330,277 318,275 C305,273 295,268 287,260 C279,252 274,245 273,237 Z" fill="#968e88"/><ellipse cx="345" cy="258" rx="28" ry="12" fill="#bbb3ad" filter="url(#b3)"/><ellipse cx="318" cy="240" rx="12" ry="10" fill="#b0a8a2" filter="url(#b3)"/><ellipse cx="300" cy="215" rx="16" ry="18" fill="#a39b95" filter="url(#b3)"/><ellipse cx="378" cy="235" rx="14" ry="25" fill="#8d857f" filter="url(#b3)"/><circle cx="320.3" cy="265.5" r="0.9" fill="#e0d8d2" fill-opacity="0.41"/><circle cx="369.0" cy="233.8" r="0.9" fill="#e0d8d2" fill-opacity="0.35"/><circle cx="321.7" cy="269.2" r="1.4" fill="#e0d8d2" fill-opacity="0.50"/><circle cx="365.1" cy="264.4" r="1.1" fill="#e0d8d2" fill-opacity="0.72"/><circle cx="344.4" cy="268.3" r="0.8" fill="#e0d8d2" fill-opacity="0.40"/><circle cx="359.9" cy="241.7" r="1.4" fill="#e0d8d2" fill-opacity="0.80"/><circle cx="313.8" cy="245.8" r="0.7" fill="#e0d8d2" fill-opacity="0.39"/><circle cx="315.1" cy="259.1" r="0.6" fill="#e0d8d2" fill-opacity="0.74"/><circle cx="308.0" cy="265.9" r="1.2" fill="#e0d8d2" fill-opacity="0.84"/><circle cx="349.5" cy="267.7" r="1.0" fill="#e0d8d2" fill-opacity="0.53"/><circle cx="339.4" cy="266.3" r="0.9" fill="#e0d8d2" fill-opacity="0.63"/><circle cx="332.1" cy="226.0" r="1.3" fill="#e0d8d2" fill-opacity="0.40"/><circle cx="359.7" cy="229.6" r="1.4" fill="#e0d8d2" fill-opacity="0.31"/><circle cx="356.6" cy="250.1" r="0.8" fill="#e0d8d2" fill-opacity="0.77"/><circle cx="309.5" cy="242.6" r="1.2" fill="#e0d8d2" fill-opacity="0.53"/><circle cx="346.0" cy="257.0" r="1.5" fill="#e0d8d2" fill-opacity="0.38"/><circle cx="332.2" cy="246.8" r="1.5" fill="#e0d8d2" fill-opacity="0.53"/><circle cx="368.9" cy="265.6" r="0.9" fill="#e0d8d2" fill-opacity="0.52"/><circle cx="319.1" cy="266.1" r="1.0" fill="#e0d8d2" fill-opacity="0.87"/><circle cx="301.5" cy="246.5" r="1.4" fill="#e0d8d2" fill-opacity="0.61"/><circle cx="329.7" cy="225.5" r="1.1" fill="#e0d8d2" fill-opacity="0.72"/><circle cx="332.8" cy="243.4" r="1.1" fill="#e0d8d2" fill-opacity="0.88"/><circle cx="324.4" cy="246.6" r="1.6" fill="#e0d8d2" fill-opacity="0.67"/><circle cx="302.7" cy="263.7" r="0.8" fill="#e0d8d2" fill-opacity="0.33"/><circle cx="321.2" cy="238.1" r="1.5" fill="#e0d8d2" fill-opacity="0.73"/><circle cx="376.5" cy="254.5" r="0.6" fill="#e0d8d2" fill-opacity="0.37"/><circle cx="363.6" cy="249.1" r="0.9" fill="#e0d8d2" fill-opacity="0.33"/><circle cx="346.1" cy="250.3" r="1.2" fill="#e0d8d2" fill-opacity="0.43"/><circle cx="342.2" cy="262.7" r="1.0" fill="#e0d8d2" fill-opacity="0.54"/><circle cx="328.1" cy="272.0" r="0.9" fill="#e0d8d2" fill-opacity="0.62"/><circle cx="353.8" cy="246.7" r="1.5" fill="#e0d8d2" fill-opacity="0.54"/><circle cx="357.0" cy="233.2" r="0.9" fill="#e0d8d2" fill-opacity="0.75"/><circle cx="296.8" cy="256.4" r="1.0" fill="#e0d8d2" fill-opacity="0.38"/><circle cx="346.8" cy="263.2" r="1.1" fill="#e0d8d2" fill-opacity="0.50"/><circle cx="345.7" cy="235.7" r="0.9" fill="#e0d8d2" fill-opacity="0.74"/><circle cx="365.9" cy="241.5" r="1.3" fill="#e0d8d2" fill-opacity="0.52"/><circle cx="316.2" cy="241.2" r="1.0" fill="#e0d8d2" fill-opacity="0.85"/><circle cx="338.1" cy="246.0" r="0.6" fill="#e0d8d2" fill-opacity="0.42"/><circle cx="298.5" cy="258.8" r="1.5" fill="#e0d8d2" fill-opacity="0.57"/><circle cx="366.6" cy="252.6" r="1.1" fill="#e0d8d2" fill-opacity="0.73"/><circle cx="329.5" cy="236.8" r="1.2" fill="#e0d8d2" fill-opacity="0.33"/><circle cx="337.2" cy="266.8" r="0.6" fill="#e0d8d2" fill-opacity="0.66"/><circle cx="319.4" cy="235.5" r="1.5" fill="#e0d8d2" fill-opacity="0.48"/><circle cx="349.7" cy="248.4" r="1.2" fill="#e0d8d2" fill-opacity="0.63"/><circle cx="371.9" cy="234.4" r="1.2" fill="#e0d8d2" fill-opacity="0.61"/><circle cx="372.4" cy="235.1" r="1.4" fill="#e0d8d2" fill-opacity="0.86"/><circle cx="374.3" cy="246.7" r="1.2" fill="#e0d8d2" fill-opacity="0.71"/><circle cx="350.3" cy="237.7" r="0.9" fill="#e0d8d2" fill-opacity="0.60"/><circle cx="357.6" cy="270.2" r="0.8" fill="#e0d8d2" fill-opacity="0.43"/><circle cx="301.5" cy="250.6" r="1.0" fill="#e0d8d2" fill-opacity="0.62"/></g><path d="M286,262 C276,250 272,232 275,214 C279,200 290,191 302,188" fill="none" stroke="#ebe5e0" stroke-width="3.5" stroke-opacity="0.8" filter="url(#b1)"/><path d="M366,194 C371,189 378,188 386,191" fill="none" stroke="#ebe5e0" stroke-width="3" filter="url(#b1)"/></g><polyline points="50,52 50,30.6 230,30.6 230,52" fill="none" stroke="#eeeeee" stroke-width="2.6"/><polyline points="254.2,46 254.2,26.1 434.6,26.1 434.6,46" fill="none" stroke="#eeeeee" stroke-width="2.6"/><polyline points="47,195.5 47,174 227,174 227,195.5" fill="none" stroke="#eeeeee" stroke-width="2.6"/><polyline points="254.6,199 254.6,179.5 433.3,179.5 433.3,199" fill="none" stroke="#eeeeee" stroke-width="2.6"/><line x1="200" y1="134.3" x2="233.5" y2="134.3" stroke="#f4f4f4" stroke-width="1.6"/><text x="217.5" y="143.5" font-size="8.8" font-weight="bold" text-anchor="middle" fill="#f4f4f4">10 µm</text>
<text x="-0.5" y="12.9" font-size="17.5" font-weight="bold" font-style="normal" text-anchor="start" fill="#000" >A</text>
<text x="55" y="13.2" font-size="15.2" font-weight="normal" font-style="normal" text-anchor="start" fill="#222" >Wild type</text>
<text x="246" y="12.7" font-size="15.2" font-weight="normal" font-style="italic" text-anchor="start" fill="#222" >gex-3 RNAi</text>
<text x="49.3" y="166.5" font-size="15.2" font-weight="normal" font-style="italic" text-anchor="start" fill="#222" >ced-5(n1812)</text>
<text x="248.3" y="166.2" font-size="15.2" font-weight="normal" font-style="italic" text-anchor="start" fill="#222" >ced-12(n3261)</text>
<text x="1" y="352.8" font-size="17.5" font-weight="bold" font-style="normal" text-anchor="start" fill="#000" >B</text>
<text x="150.7" y="343.6" font-size="15.7" font-weight="bold" font-style="normal" text-anchor="middle" fill="#000" >Embryo Length</text>
<line x1="43.4" y1="408.50000000000006" x2="43.4" y2="637.7" stroke="#000" stroke-width="2" />
<path d="M39.199999999999996,631.02H43.4M39.199999999999996,625.34H43.4M39.199999999999996,619.66H43.4M39.199999999999996,613.98H43.4M39.199999999999996,608.30H43.4M39.199999999999996,602.62H43.4M39.199999999999996,596.94H43.4M39.199999999999996,591.26H43.4M39.199999999999996,585.58H43.4M39.199999999999996,574.22H43.4M39.199999999999996,568.54H43.4M39.199999999999996,562.86H43.4M39.199999999999996,557.18H43.4M39.199999999999996,551.50H43.4M39.199999999999996,545.82H43.4M39.199999999999996,540.14H43.4M39.199999999999996,534.46H43.4M39.199999999999996,528.78H43.4M39.199999999999996,517.42H43.4M39.199999999999996,511.74H43.4M39.199999999999996,506.06H43.4M39.199999999999996,500.38H43.4M39.199999999999996,494.70H43.4M39.199999999999996,489.02H43.4M39.199999999999996,483.34H43.4M39.199999999999996,477.66H43.4M39.199999999999996,471.98H43.4M39.199999999999996,460.62H43.4M39.199999999999996,454.94H43.4M39.199999999999996,449.26H43.4M39.199999999999996,443.58H43.4M39.199999999999996,437.90H43.4M39.199999999999996,432.22H43.4M39.199999999999996,426.54H43.4M39.199999999999996,420.86H43.4M39.199999999999996,415.18H43.4M35.6,636.70H43.4M35.6,579.90H43.4M35.6,523.10H43.4M35.6,466.30H43.4M35.6,409.50H43.4" stroke="#000" stroke-width="1.9" fill="none"/>
<text x="32.9" y="641.2" font-size="12.8" font-weight="normal" font-style="normal" text-anchor="end" fill="#000" >20</text>
<text x="32.9" y="584.4" font-size="12.8" font-weight="normal" font-style="normal" text-anchor="end" fill="#000" >30</text>
<text x="32.9" y="527.6" font-size="12.8" font-weight="normal" font-style="normal" text-anchor="end" fill="#000" >40</text>
<text x="32.9" y="470.8" font-size="12.8" font-weight="normal" font-style="normal" text-anchor="end" fill="#000" >50</text>
<text x="32.9" y="414.0" font-size="12.8" font-weight="normal" font-style="normal" text-anchor="end" fill="#000" >60</text>
<text transform="translate(14.2,486) rotate(-90)" font-size="14.3" font-weight="bold" text-anchor="middle">Microns</text>
<line x1="35.5" y1="636.7" x2="285.5" y2="636.7" stroke="#000" stroke-width="2" />
<path d="M65.60,636.7V643.5M98.50,636.7V643.5M131.50,636.7V643.5M164.40,636.7V643.5M197.40,636.7V643.5M230.40,636.7V643.5M263.40,636.7V643.5" stroke="#000" stroke-width="1.9" fill="none"/>
<text x="61.4" y="655.8" font-size="13.1" font-weight="normal" font-style="normal" text-anchor="middle" fill="#000" >Alive</text>
<text x="97" y="655.8" font-size="13.1" font-weight="normal" font-style="normal" text-anchor="middle" fill="#000" >Alive</text>
<text x="130.7" y="655.8" font-size="13.1" font-weight="normal" font-style="normal" text-anchor="middle" fill="#000" >Dead</text>
<text x="164.9" y="655.8" font-size="13.1" font-weight="normal" font-style="normal" text-anchor="middle" fill="#000" >Alive</text>
<text x="199.2" y="655.8" font-size="13.1" font-weight="normal" font-style="normal" text-anchor="middle" fill="#000" >Dead</text>
<text x="234.3" y="655.8" font-size="13.1" font-weight="normal" font-style="normal" text-anchor="middle" fill="#000" >Alive</text>
<text x="269.7" y="655.8" font-size="13.1" font-weight="normal" font-style="normal" text-anchor="middle" fill="#000" >Dead</text>
<polyline points="50.80,659.40 50.80,663.90 75.20,663.90 75.20,659.40" fill="none" stroke="#000" stroke-width="1.7" stroke-linejoin="miter"/>
<polyline points="80.60,659.40 80.60,663.90 143.50,663.90 143.50,659.40" fill="none" stroke="#000" stroke-width="1.7" stroke-linejoin="miter"/>
<polyline points="146.60,659.40 146.60,663.90 210.90,663.90 210.90,659.40" fill="none" stroke="#000" stroke-width="1.7" stroke-linejoin="miter"/>
<polyline points="212.50,659.40 212.50,663.90 276.10,663.90 276.10,659.40" fill="none" stroke="#000" stroke-width="1.7" stroke-linejoin="miter"/>
<text x="60.2" y="678.3" font-size="12.5" font-weight="normal" font-style="normal" text-anchor="middle" fill="#000" >N2</text>
<text x="106.6" y="678.3" font-size="12.5" font-weight="normal" font-style="italic" text-anchor="middle" fill="#000" >gex-3 RNAi</text>
<text x="181.2" y="678.3" font-size="12.5" font-weight="normal" font-style="italic" text-anchor="middle" fill="#000" >ced-5(n1812)</text>
<text x="259" y="678.3" font-size="12.5" font-weight="normal" font-style="italic" text-anchor="middle" fill="#000" >ced-12(n3261)</text>
<polyline points="65.60,369.70 65.60,362.00 231.50,362.00 231.50,393.00" fill="none" stroke="#000" stroke-width="2" stroke-linejoin="miter"/>
<text x="148.3" y="359.3" font-size="14.0" font-weight="normal" font-style="normal" text-anchor="middle" fill="#ee2e24" stroke="#ee2e24" stroke-width="0.3">ns</text>
<polyline points="65.60,388.50 65.60,381.60 165.00,381.60 165.00,395.30" fill="none" stroke="#000" stroke-width="2" stroke-linejoin="miter"/>
<path d="M109.40,369.40L109.40,376.40M105.10,371.15L113.70,374.65M105.10,374.65L113.70,371.15M121.20,369.40L121.20,376.40M116.90,371.15L125.50,374.65M116.90,374.65L125.50,371.15" stroke="#ee2e24" stroke-width="2.5" stroke-linecap="round" fill="none"/>
<polyline points="65.60,426.50 65.60,406.40 99.00,406.40 99.00,412.30" fill="none" stroke="#000" stroke-width="2" stroke-linejoin="miter"/>
<path d="M64.60,392.80L64.60,399.80M60.30,394.55L68.90,398.05M60.30,398.05L68.90,394.55M76.40,392.80L76.40,399.80M72.10,394.55L80.70,398.05M72.10,398.05L80.70,394.55M88.20,392.80L88.20,399.80M83.90,394.55L92.50,398.05M83.90,398.05L92.50,394.55M100.00,392.80L100.00,399.80M95.70,394.55L104.30,398.05M95.70,398.05L104.30,394.55" stroke="#ee2e24" stroke-width="2.5" stroke-linecap="round" fill="none"/>
<polyline points="99.00,452.40 99.00,432.80 132.00,432.80 132.00,437.90" fill="none" stroke="#000" stroke-width="2" stroke-linejoin="miter"/>
<path d="M103.20,417.30L103.20,424.30M98.90,419.05L107.50,422.55M98.90,422.55L107.50,419.05M115.00,417.30L115.00,424.30M110.70,419.05L119.30,422.55M110.70,422.55L119.30,419.05M126.80,417.30L126.80,424.30M122.50,419.05L131.10,422.55M122.50,422.55L131.10,419.05" stroke="#ee2e24" stroke-width="2.5" stroke-linecap="round" fill="none"/>
<polyline points="165.00,418.30 165.00,412.80 197.70,412.80 197.70,450.00" fill="none" stroke="#000" stroke-width="2" stroke-linejoin="miter"/>
<path d="M163.30,397.80L163.30,404.80M159.00,399.55L167.60,403.05M159.00,403.05L167.60,399.55M175.10,397.80L175.10,404.80M170.80,399.55L179.40,403.05M170.80,403.05L179.40,399.55M186.90,397.80L186.90,404.80M182.60,399.55L191.20,403.05M182.60,403.05L191.20,399.55M198.70,397.80L198.70,404.80M194.40,399.55L203.00,403.05M194.40,403.05L203.00,399.55" stroke="#ee2e24" stroke-width="2.5" stroke-linecap="round" fill="none"/>
<polyline points="231.00,421.70 231.00,414.00 263.30,414.00 263.30,427.30" fill="none" stroke="#000" stroke-width="2" stroke-linejoin="miter"/>
<path d="M229.50,398.70L229.50,405.70M225.20,400.45L233.80,403.95M225.20,403.95L233.80,400.45M241.30,398.70L241.30,405.70M237.00,400.45L245.60,403.95M237.00,403.95L245.60,400.45M253.10,398.70L253.10,405.70M248.80,400.45L257.40,403.95M248.80,403.95L257.40,400.45M264.90,398.70L264.90,405.70M260.60,400.45L269.20,403.95M260.60,403.95L269.20,400.45" stroke="#ee2e24" stroke-width="2.5" stroke-linecap="round" fill="none"/>
<g fill="#000"><circle cx="65.60" cy="432.70" r="2.65"/><circle cx="65.60" cy="438.30" r="2.65"/><circle cx="65.60" cy="444.42" r="2.65"/><circle cx="64.70" cy="447.28" r="2.65"/><circle cx="67.25" cy="448.85" r="2.65"/><circle cx="63.04" cy="449.78" r="2.65"/><circle cx="69.35" cy="451.00" r="2.65"/><circle cx="65.60" cy="451.73" r="2.65"/><circle cx="62.12" cy="452.63" r="2.65"/><circle cx="71.05" cy="453.47" r="2.65"/><circle cx="64.49" cy="454.52" r="2.65"/><circle cx="67.45" cy="455.03" r="2.65"/><circle cx="62.00" cy="456.18" r="2.65"/><circle cx="70.14" cy="456.34" r="2.65"/><circle cx="59.14" cy="457.12" r="2.65"/><circle cx="65.60" cy="457.75" r="2.65"/><circle cx="71.92" cy="458.76" r="2.65"/><circle cx="68.27" cy="459.12" r="2.65"/><circle cx="63.39" cy="459.78" r="2.65"/><circle cx="60.43" cy="460.30" r="2.65"/><circle cx="57.51" cy="460.98" r="2.65"/><circle cx="65.89" cy="461.44" r="2.65"/><circle cx="69.57" cy="461.82" r="2.65"/><circle cx="72.48" cy="462.56" r="2.65"/><circle cx="63.32" cy="462.98" r="2.65"/><circle cx="60.34" cy="463.37" r="2.65"/><circle cx="66.82" cy="464.29" r="2.65"/><circle cx="57.66" cy="464.71" r="2.65"/><circle cx="69.68" cy="465.20" r="2.65"/><circle cx="72.63" cy="465.73" r="2.65"/><circle cx="64.31" cy="465.94" r="2.65"/><circle cx="61.35" cy="466.43" r="2.65"/><circle cx="75.37" cy="466.95" r="2.65"/><circle cx="66.91" cy="467.44" r="2.65"/><circle cx="70.44" cy="468.10" r="2.65"/><circle cx="58.93" cy="468.20" r="2.65"/><circle cx="64.39" cy="469.08" r="2.65"/><circle cx="73.03" cy="469.62" r="2.65"/><circle cx="61.54" cy="470.01" r="2.65"/><circle cx="67.78" cy="470.31" r="2.65"/><circle cx="58.84" cy="471.32" r="2.65"/><circle cx="70.57" cy="471.41" r="2.65"/><circle cx="65.57" cy="472.34" r="2.65"/><circle cx="73.44" cy="472.59" r="2.65"/><circle cx="62.64" cy="473.02" r="2.65"/><circle cx="68.23" cy="473.71" r="2.65"/><circle cx="57.81" cy="474.14" r="2.65"/><circle cx="71.03" cy="474.79" r="2.65"/><circle cx="65.60" cy="475.71" r="2.65"/><circle cx="62.65" cy="476.24" r="2.65"/><circle cx="59.67" cy="476.62" r="2.65"/><circle cx="68.09" cy="477.39" r="2.65"/><circle cx="71.04" cy="477.89" r="2.65"/><circle cx="57.33" cy="478.50" r="2.65"/><circle cx="65.60" cy="479.33" r="2.65"/><circle cx="62.62" cy="479.69" r="2.65"/><circle cx="68.26" cy="480.72" r="2.65"/><circle cx="60.10" cy="481.31" r="2.65"/><circle cx="70.96" cy="482.01" r="2.65"/><circle cx="65.60" cy="482.40" r="2.65"/><circle cx="62.72" cy="483.25" r="2.65"/><circle cx="68.13" cy="484.02" r="2.65"/><circle cx="60.37" cy="485.11" r="2.65"/><circle cx="65.60" cy="486.47" r="2.65"/><circle cx="68.44" cy="487.43" r="2.65"/><circle cx="63.40" cy="488.50" r="2.65"/><circle cx="60.47" cy="489.17" r="2.65"/><circle cx="65.60" cy="490.82" r="2.65"/><circle cx="62.97" cy="492.26" r="2.65"/><circle cx="65.60" cy="493.89" r="2.65"/><circle cx="63.27" cy="495.78" r="2.65"/><circle cx="65.66" cy="497.58" r="2.65"/><circle cx="65.60" cy="500.71" r="2.65"/><circle cx="65.60" cy="505.38" r="2.65"/><circle cx="98.50" cy="458.60" r="2.65"/><circle cx="101.10" cy="470.20" r="2.65"/><circle cx="99.40" cy="474.40" r="2.65"/><circle cx="90.50" cy="478.00" r="2.65"/><circle cx="95.50" cy="479.50" r="2.65"/><circle cx="103.50" cy="480.00" r="2.65"/><circle cx="89.50" cy="483.00" r="2.65"/><circle cx="94.00" cy="484.00" r="2.65"/><circle cx="101.50" cy="483.50" r="2.65"/><circle cx="106.50" cy="485.00" r="2.65"/><circle cx="91.50" cy="488.00" r="2.65"/><circle cx="97.50" cy="488.50" r="2.65"/><circle cx="104.50" cy="490.00" r="2.65"/><circle cx="89.00" cy="492.00" r="2.65"/><circle cx="95.50" cy="493.00" r="2.65"/><circle cx="102.50" cy="494.00" r="2.65"/><circle cx="107.50" cy="492.50" r="2.65"/><circle cx="92.50" cy="497.50" r="2.65"/><circle cx="99.50" cy="498.00" r="2.65"/><circle cx="106.00" cy="498.50" r="2.65"/><circle cx="90.00" cy="501.00" r="2.65"/><circle cx="96.00" cy="502.00" r="2.65"/><circle cx="102.50" cy="503.00" r="2.65"/><circle cx="93.50" cy="506.50" r="2.65"/><circle cx="100.50" cy="507.00" r="2.65"/><circle cx="105.50" cy="505.50" r="2.65"/><circle cx="97.50" cy="510.50" r="2.65"/><circle cx="103.50" cy="511.50" r="2.65"/><circle cx="95.00" cy="514.50" r="2.65"/><circle cx="102.00" cy="515.50" r="2.65"/><circle cx="93.50" cy="517.50" r="2.65"/><circle cx="99.00" cy="518.50" r="2.65"/><circle cx="103.00" cy="518.50" r="2.65"/><circle cx="98.50" cy="529.80" r="2.65"/><circle cx="131.50" cy="442.00" r="2.65"/><circle cx="131.50" cy="453.90" r="2.65"/><circle cx="131.50" cy="462.80" r="2.65"/><circle cx="131.50" cy="470.67" r="2.65"/><circle cx="131.50" cy="474.70" r="2.65"/><circle cx="131.50" cy="479.13" r="2.65"/><circle cx="133.25" cy="481.56" r="2.65"/><circle cx="130.75" cy="483.23" r="2.65"/><circle cx="133.33" cy="484.77" r="2.65"/><circle cx="129.70" cy="486.04" r="2.65"/><circle cx="135.42" cy="486.93" r="2.65"/><circle cx="131.76" cy="488.22" r="2.65"/><circle cx="128.96" cy="489.27" r="2.65"/><circle cx="134.09" cy="490.11" r="2.65"/><circle cx="131.31" cy="491.23" r="2.65"/><circle cx="127.59" cy="491.94" r="2.65"/><circle cx="136.00" cy="492.43" r="2.65"/><circle cx="124.83" cy="493.14" r="2.65"/><circle cx="132.89" cy="493.78" r="2.65"/><circle cx="130.10" cy="494.89" r="2.65"/><circle cx="135.33" cy="495.51" r="2.65"/><circle cx="127.34" cy="496.07" r="2.65"/><circle cx="138.10" cy="496.67" r="2.65"/><circle cx="131.88" cy="497.30" r="2.65"/><circle cx="124.85" cy="497.73" r="2.65"/><circle cx="129.19" cy="498.62" r="2.65"/><circle cx="134.36" cy="498.99" r="2.65"/><circle cx="137.26" cy="499.77" r="2.65"/><circle cx="131.62" cy="500.38" r="2.65"/><circle cx="127.36" cy="501.00" r="2.65"/><circle cx="124.37" cy="501.25" r="2.65"/><circle cx="139.51" cy="501.76" r="2.65"/><circle cx="133.83" cy="502.40" r="2.65"/><circle cx="130.63" cy="503.21" r="2.65"/><circle cx="136.58" cy="503.61" r="2.65"/><circle cx="127.82" cy="504.25" r="2.65"/><circle cx="124.83" cy="504.56" r="2.65"/><circle cx="139.21" cy="505.04" r="2.65"/><circle cx="131.87" cy="505.94" r="2.65"/><circle cx="122.20" cy="506.00" r="2.65"/><circle cx="134.82" cy="506.52" r="2.65"/><circle cx="129.17" cy="507.25" r="2.65"/><circle cx="126.20" cy="507.68" r="2.65"/><circle cx="137.39" cy="508.06" r="2.65"/><circle cx="140.34" cy="508.63" r="2.65"/><circle cx="131.56" cy="509.06" r="2.65"/><circle cx="134.50" cy="509.70" r="2.65"/><circle cx="128.80" cy="510.23" r="2.65"/><circle cx="125.84" cy="510.70" r="2.65"/><circle cx="137.16" cy="511.08" r="2.65"/><circle cx="122.94" cy="511.48" r="2.65"/><circle cx="131.50" cy="512.27" r="2.65"/><circle cx="139.87" cy="512.37" r="2.65"/><circle cx="134.42" cy="512.98" r="2.65"/><circle cx="128.82" cy="513.62" r="2.65"/><circle cx="125.86" cy="514.11" r="2.65"/><circle cx="137.04" cy="514.43" r="2.65"/><circle cx="123.05" cy="515.15" r="2.65"/><circle cx="131.50" cy="515.56" r="2.65"/><circle cx="134.39" cy="516.35" r="2.65"/><circle cx="128.71" cy="516.67" r="2.65"/><circle cx="125.76" cy="517.22" r="2.65"/><circle cx="136.91" cy="517.98" r="2.65"/><circle cx="139.89" cy="518.32" r="2.65"/><circle cx="131.50" cy="518.84" r="2.65"/><circle cx="134.35" cy="519.76" r="2.65"/><circle cx="128.92" cy="520.37" r="2.65"/><circle cx="125.92" cy="520.50" r="2.65"/><circle cx="137.07" cy="521.04" r="2.65"/><circle cx="131.50" cy="522.21" r="2.65"/><circle cx="134.41" cy="522.93" r="2.65"/><circle cx="128.46" cy="523.33" r="2.65"/><circle cx="125.52" cy="523.95" r="2.65"/><circle cx="136.67" cy="524.91" r="2.65"/><circle cx="131.50" cy="525.86" r="2.65"/><circle cx="128.33" cy="526.33" r="2.65"/><circle cx="134.15" cy="527.27" r="2.65"/><circle cx="126.15" cy="528.40" r="2.65"/><circle cx="131.50" cy="529.13" r="2.65"/><circle cx="128.76" cy="530.35" r="2.65"/><circle cx="133.59" cy="531.29" r="2.65"/><circle cx="131.05" cy="532.89" r="2.65"/><circle cx="134.52" cy="534.14" r="2.65"/><circle cx="131.54" cy="535.85" r="2.65"/><circle cx="129.72" cy="538.23" r="2.65"/><circle cx="131.50" cy="541.59" r="2.65"/><circle cx="131.50" cy="545.87" r="2.65"/><circle cx="131.30" cy="565.20" r="2.65"/><circle cx="131.80" cy="569.00" r="2.65"/><circle cx="131.30" cy="573.70" r="2.65"/><circle cx="131.30" cy="624.50" r="2.65"/><circle cx="164.40" cy="423.00" r="2.65"/><circle cx="165.20" cy="427.50" r="2.65"/><circle cx="163.80" cy="432.00" r="2.65"/><circle cx="164.80" cy="436.50" r="2.65"/><circle cx="163.60" cy="441.00" r="2.65"/><circle cx="165.30" cy="445.50" r="2.65"/><circle cx="164.00" cy="450.00" r="2.65"/><circle cx="164.40" cy="451.97" r="2.65"/><circle cx="161.79" cy="454.73" r="2.65"/><circle cx="165.35" cy="456.04" r="2.65"/><circle cx="169.07" cy="456.83" r="2.65"/><circle cx="159.35" cy="457.65" r="2.65"/><circle cx="172.28" cy="458.86" r="2.65"/><circle cx="163.72" cy="459.47" r="2.65"/><circle cx="167.37" cy="460.53" r="2.65"/><circle cx="160.67" cy="461.73" r="2.65"/><circle cx="170.54" cy="462.62" r="2.65"/><circle cx="157.11" cy="463.07" r="2.65"/><circle cx="164.40" cy="463.85" r="2.65"/><circle cx="173.63" cy="464.83" r="2.65"/><circle cx="167.46" cy="466.10" r="2.65"/><circle cx="161.60" cy="466.41" r="2.65"/><circle cx="157.91" cy="467.34" r="2.65"/><circle cx="170.65" cy="468.16" r="2.65"/><circle cx="164.40" cy="468.98" r="2.65"/><circle cx="155.21" cy="470.01" r="2.65"/><circle cx="161.02" cy="470.71" r="2.65"/><circle cx="167.11" cy="471.65" r="2.65"/><circle cx="170.75" cy="472.74" r="2.65"/><circle cx="163.93" cy="473.73" r="2.65"/><circle cx="160.20" cy="474.45" r="2.65"/><circle cx="167.20" cy="475.67" r="2.65"/><circle cx="171.60" cy="476.44" r="2.65"/><circle cx="163.99" cy="477.70" r="2.65"/><circle cx="160.24" cy="478.35" r="2.65"/><circle cx="167.32" cy="479.52" r="2.65"/><circle cx="170.92" cy="480.75" r="2.65"/><circle cx="164.40" cy="482.07" r="2.65"/><circle cx="160.71" cy="482.97" r="2.65"/><circle cx="167.68" cy="483.98" r="2.65"/><circle cx="171.38" cy="484.85" r="2.65"/><circle cx="164.40" cy="485.97" r="2.65"/><circle cx="160.72" cy="486.93" r="2.65"/><circle cx="167.24" cy="488.49" r="2.65"/><circle cx="170.92" cy="489.43" r="2.65"/><circle cx="163.98" cy="490.44" r="2.65"/><circle cx="160.26" cy="491.22" r="2.65"/><circle cx="167.27" cy="492.33" r="2.65"/><circle cx="156.94" cy="493.08" r="2.65"/><circle cx="163.38" cy="494.19" r="2.65"/><circle cx="169.99" cy="494.99" r="2.65"/><circle cx="160.12" cy="496.15" r="2.65"/><circle cx="165.99" cy="496.95" r="2.65"/><circle cx="156.73" cy="497.86" r="2.65"/><circle cx="162.96" cy="499.25" r="2.65"/><circle cx="168.55" cy="499.76" r="2.65"/><circle cx="159.69" cy="501.19" r="2.65"/><circle cx="165.45" cy="502.12" r="2.65"/><circle cx="170.60" cy="502.95" r="2.65"/><circle cx="162.48" cy="504.49" r="2.65"/><circle cx="165.88" cy="506.20" r="2.65"/><circle cx="160.79" cy="507.89" r="2.65"/><circle cx="164.27" cy="509.64" r="2.65"/><circle cx="166.91" cy="512.36" r="2.65"/><circle cx="164.40" cy="515.43" r="2.65"/><circle cx="165.02" cy="519.18" r="2.65"/><circle cx="164.40" cy="523.63" r="2.65"/><circle cx="164.40" cy="527.96" r="2.65"/><circle cx="164.60" cy="532.00" r="2.65"/><circle cx="163.80" cy="536.00" r="2.65"/><circle cx="164.40" cy="540.30" r="2.65"/><circle cx="197.40" cy="453.80" r="2.65"/><circle cx="195.60" cy="469.70" r="2.65"/><circle cx="199.20" cy="469.70" r="2.65"/><circle cx="197.38" cy="542.81" r="2.65"/><circle cx="197.93" cy="524.68" r="2.65"/><circle cx="195.40" cy="515.49" r="2.65"/><circle cx="202.81" cy="500.03" r="2.65"/><circle cx="198.66" cy="530.27" r="2.65"/><circle cx="196.77" cy="502.89" r="2.65"/><circle cx="196.00" cy="487.94" r="2.65"/><circle cx="191.67" cy="497.63" r="2.65"/><circle cx="194.16" cy="511.52" r="2.65"/><circle cx="198.62" cy="517.12" r="2.65"/><circle cx="195.14" cy="494.97" r="2.65"/><circle cx="192.87" cy="505.44" r="2.65"/><circle cx="200.21" cy="491.54" r="2.65"/><circle cx="201.77" cy="510.25" r="2.65"/><circle cx="200.91" cy="506.09" r="2.65"/><circle cx="201.12" cy="520.19" r="2.65"/><circle cx="197.65" cy="536.73" r="2.65"/><circle cx="200.28" cy="496.15" r="2.65"/><circle cx="196.34" cy="520.13" r="2.65"/><circle cx="196.64" cy="506.71" r="2.65"/><circle cx="190.06" cy="501.92" r="2.65"/><circle cx="203.94" cy="503.93" r="2.65"/><circle cx="197.85" cy="510.90" r="2.65"/><circle cx="196.62" cy="498.41" r="2.65"/><circle cx="201.45" cy="514.57" r="2.65"/><circle cx="195.45" cy="527.97" r="2.65"/><circle cx="194.39" cy="491.36" r="2.65"/><circle cx="194.31" cy="524.36" r="2.65"/><circle cx="193.72" cy="500.66" r="2.65"/><circle cx="195.97" cy="532.71" r="2.65"/><circle cx="196.60" cy="546.00" r="2.65"/><circle cx="198.40" cy="549.20" r="2.65"/><circle cx="197.40" cy="586.70" r="2.65"/><circle cx="197.40" cy="623.00" r="2.65"/><circle cx="197.60" cy="629.00" r="2.65"/><circle cx="230.40" cy="428.41" r="2.65"/><circle cx="230.40" cy="432.87" r="2.65"/><circle cx="231.18" cy="435.77" r="2.65"/><circle cx="228.79" cy="437.59" r="2.65"/><circle cx="230.86" cy="439.76" r="2.65"/><circle cx="228.18" cy="441.10" r="2.65"/><circle cx="232.46" cy="442.30" r="2.65"/><circle cx="226.53" cy="443.61" r="2.65"/><circle cx="230.40" cy="444.95" r="2.65"/><circle cx="233.33" cy="445.59" r="2.65"/><circle cx="228.03" cy="446.80" r="2.65"/><circle cx="235.63" cy="447.51" r="2.65"/><circle cx="230.68" cy="448.20" r="2.65"/><circle cx="226.19" cy="449.16" r="2.65"/><circle cx="233.20" cy="449.83" r="2.65"/><circle cx="228.85" cy="450.58" r="2.65"/><circle cx="235.68" cy="451.53" r="2.65"/><circle cx="231.34" cy="452.25" r="2.65"/><circle cx="226.58" cy="452.54" r="2.65"/><circle cx="223.77" cy="453.59" r="2.65"/><circle cx="233.80" cy="453.97" r="2.65"/><circle cx="229.72" cy="454.78" r="2.65"/><circle cx="236.49" cy="455.29" r="2.65"/><circle cx="226.87" cy="455.72" r="2.65"/><circle cx="222.20" cy="456.15" r="2.65"/><circle cx="231.67" cy="457.06" r="2.65"/><circle cx="234.60" cy="457.70" r="2.65"/><circle cx="224.89" cy="457.97" r="2.65"/><circle cx="228.88" cy="458.17" r="2.65"/><circle cx="237.20" cy="459.19" r="2.65"/><circle cx="222.41" cy="459.66" r="2.65"/><circle cx="231.06" cy="460.23" r="2.65"/><circle cx="227.60" cy="460.89" r="2.65"/><circle cx="233.83" cy="461.39" r="2.65"/><circle cx="224.73" cy="461.74" r="2.65"/><circle cx="237.79" cy="462.14" r="2.65"/><circle cx="221.89" cy="462.72" r="2.65"/><circle cx="230.40" cy="463.30" r="2.65"/><circle cx="227.50" cy="464.06" r="2.65"/><circle cx="233.12" cy="464.58" r="2.65"/><circle cx="236.03" cy="465.30" r="2.65"/><circle cx="224.99" cy="465.71" r="2.65"/><circle cx="230.40" cy="466.35" r="2.65"/><circle cx="238.28" cy="467.28" r="2.65"/><circle cx="227.81" cy="467.88" r="2.65"/><circle cx="232.32" cy="468.66" r="2.65"/><circle cx="235.25" cy="469.32" r="2.65"/><circle cx="225.41" cy="469.67" r="2.65"/><circle cx="230.17" cy="470.75" r="2.65"/><circle cx="237.33" cy="471.47" r="2.65"/><circle cx="232.70" cy="472.36" r="2.65"/><circle cx="228.55" cy="473.28" r="2.65"/><circle cx="235.02" cy="474.27" r="2.65"/><circle cx="230.46" cy="475.59" r="2.65"/><circle cx="227.75" cy="476.87" r="2.65"/><circle cx="232.07" cy="478.12" r="2.65"/><circle cx="229.40" cy="479.48" r="2.65"/><circle cx="233.52" cy="480.75" r="2.65"/><circle cx="227.78" cy="482.01" r="2.65"/><circle cx="230.40" cy="484.01" r="2.65"/><circle cx="228.63" cy="486.43" r="2.65"/><circle cx="230.40" cy="490.72" r="2.65"/><circle cx="230.40" cy="494.69" r="2.65"/><circle cx="230.40" cy="500.50" r="2.65"/><circle cx="230.90" cy="505.50" r="2.65"/><circle cx="230.00" cy="510.00" r="2.65"/><circle cx="230.40" cy="515.00" r="2.65"/><circle cx="230.60" cy="521.00" r="2.65"/><circle cx="230.00" cy="527.00" r="2.65"/><circle cx="230.40" cy="533.00" r="2.65"/><circle cx="230.40" cy="541.30" r="2.65"/><circle cx="263.30" cy="431.40" r="2.65"/><circle cx="262.70" cy="439.30" r="2.65"/><circle cx="266.80" cy="439.30" r="2.65"/><circle cx="261.90" cy="451.30" r="2.65"/><circle cx="266.20" cy="451.30" r="2.65"/><circle cx="263.30" cy="457.00" r="2.65"/><circle cx="266.80" cy="457.00" r="2.65"/><circle cx="256.30" cy="471.50" r="2.65"/><circle cx="262.00" cy="470.50" r="2.65"/><circle cx="266.20" cy="470.50" r="2.65"/><circle cx="270.50" cy="470.00" r="2.65"/><circle cx="264.70" cy="479.60" r="2.65"/><circle cx="263.30" cy="481.00" r="2.65"/><circle cx="259.00" cy="484.80" r="2.65"/><circle cx="263.30" cy="488.20" r="2.65"/><circle cx="263.30" cy="522.30" r="2.65"/><circle cx="266.20" cy="525.10" r="2.65"/><circle cx="260.50" cy="529.40" r="2.65"/><circle cx="264.70" cy="531.40" r="2.65"/><circle cx="269.00" cy="533.60" r="2.65"/><circle cx="259.00" cy="539.30" r="2.65"/><circle cx="263.30" cy="540.70" r="2.65"/><circle cx="267.60" cy="545.00" r="2.65"/><circle cx="263.30" cy="549.30" r="2.65"/><circle cx="263.30" cy="558.60" r="2.65"/><circle cx="264.70" cy="558.60" r="2.65"/><circle cx="261.30" cy="565.00" r="2.65"/><circle cx="265.60" cy="565.00" r="2.65"/><circle cx="262.00" cy="572.00" r="2.65"/><circle cx="266.20" cy="572.00" r="2.65"/><circle cx="263.30" cy="587.60" r="2.65"/><circle cx="261.90" cy="610.30" r="2.65"/><circle cx="265.60" cy="608.90" r="2.65"/></g>
<rect x="59.40" y="468" width="12.60" height="4.80" fill="#a9a9a9"/>
<g stroke="#a9a9a9" stroke-width="1.9" fill="none"><line x1="88.0" y1="493.75" x2="109.4" y2="493.75"/><line x1="98.7" y1="487.7" x2="98.7" y2="499.6"/><line x1="92.60000000000001" y1="487.7" x2="104.8" y2="487.7"/><line x1="92.60000000000001" y1="499.6" x2="104.8" y2="499.6"/></g>
<g stroke="#a9a9a9" stroke-width="1.9" fill="none"><line x1="120.5" y1="509.7" x2="142.5" y2="509.7"/><line x1="131.5" y1="506.5" x2="131.5" y2="513.3"/><line x1="125.5" y1="506.5" x2="137.5" y2="506.5"/><line x1="125.5" y1="513.3" x2="137.5" y2="513.3"/></g>
<g stroke="#a9a9a9" stroke-width="1.9" fill="none"><line x1="153.8" y1="485.6" x2="175.0" y2="485.6"/><line x1="164.4" y1="477.7" x2="164.4" y2="494.6"/><line x1="158.4" y1="477.7" x2="170.4" y2="477.7"/><line x1="158.4" y1="494.6" x2="170.4" y2="494.6"/></g>
<g stroke="#a9a9a9" stroke-width="1.9" fill="none"><line x1="186.4" y1="517" x2="208.4" y2="517"/><line x1="197.4" y1="506.5" x2="197.4" y2="527.4"/><line x1="191.4" y1="506.5" x2="203.4" y2="506.5"/><line x1="191.4" y1="527.4" x2="203.4" y2="527.4"/></g>
<g stroke="#a9a9a9" stroke-width="1.9" fill="none"><line x1="219.4" y1="461.8" x2="241.4" y2="461.8"/><line x1="230.4" y1="461.8" x2="230.4" y2="461.8"/><line x1="230.4" y1="461.8" x2="230.4" y2="461.8"/><line x1="230.4" y1="461.8" x2="230.4" y2="461.8"/></g>
<rect x="224.00" y="459.1" width="12.80" height="5.60" fill="#a9a9a9"/>
<g stroke="#a9a9a9" stroke-width="1.9" fill="none"><line x1="252.59999999999997" y1="511.5" x2="274.2" y2="511.5"/><line x1="263.4" y1="493.9" x2="263.4" y2="528.5"/><line x1="257.7" y1="493.9" x2="269.09999999999997" y2="493.9"/><line x1="257.7" y1="528.5" x2="269.09999999999997" y2="528.5"/></g>
<line x1="47.8" y1="470.1" x2="287" y2="470.1" stroke="rgba(242,52,42,0.6)" stroke-width="1.9" stroke-dasharray="7.8 2.5"/>
<text x="315.2" y="347.5" font-size="17.5" font-weight="bold" font-style="normal" text-anchor="start" fill="#000" >C</text>
<text x="423" y="379" font-size="15.3" font-weight="bold" font-style="normal" text-anchor="middle" fill="#000" >Embryo Width</text>
<line x1="338.6" y1="409.1" x2="338.6" y2="635.3" stroke="#000" stroke-width="2" />
<path d="M334.40000000000003,627.02H338.6M334.40000000000003,619.54H338.6M334.40000000000003,612.06H338.6M334.40000000000003,604.58H338.6M334.40000000000003,589.62H338.6M334.40000000000003,582.14H338.6M334.40000000000003,574.66H338.6M334.40000000000003,567.18H338.6M334.40000000000003,559.70H338.6M334.40000000000003,552.22H338.6M334.40000000000003,544.74H338.6M334.40000000000003,537.26H338.6M334.40000000000003,529.78H338.6M334.40000000000003,514.82H338.6M334.40000000000003,507.34H338.6M334.40000000000003,499.86H338.6M334.40000000000003,492.38H338.6M334.40000000000003,484.90H338.6M334.40000000000003,477.42H338.6M334.40000000000003,469.94H338.6M334.40000000000003,462.46H338.6M334.40000000000003,454.98H338.6M334.40000000000003,440.02H338.6M334.40000000000003,432.54H338.6M334.40000000000003,425.06H338.6M334.40000000000003,417.58H338.6M334.40000000000003,410.10H338.6M330.8,597.10H338.6M330.8,522.30H338.6M330.8,447.50H338.6" stroke="#000" stroke-width="1.9" fill="none"/>
<text x="328.1" y="604.0" font-size="12.8" font-weight="normal" font-style="normal" text-anchor="end" fill="#000" >20</text>
<text x="328.1" y="529.2" font-size="12.8" font-weight="normal" font-style="normal" text-anchor="end" fill="#000" >30</text>
<text x="328.1" y="454.4" font-size="12.8" font-weight="normal" font-style="normal" text-anchor="end" fill="#000" >40</text>
<text transform="translate(314.2,487.6) rotate(-90)" font-size="14.3" font-weight="bold" text-anchor="middle">Microns</text>
<line x1="334.2" y1="634.3" x2="566.2" y2="634.3" stroke="#000" stroke-width="2" />
<path d="M359.20,634.3V641.0999999999999M390.20,634.3V641.0999999999999M421.20,634.3V641.0999999999999M452.30,634.3V641.0999999999999M483.30,634.3V641.0999999999999M514.40,634.3V641.0999999999999M545.50,634.3V641.0999999999999" stroke="#000" stroke-width="1.9" fill="none"/>
<text x="353.9" y="653.3" font-size="13.1" font-weight="normal" font-style="normal" text-anchor="middle" fill="#000" >Alive</text>
<text x="389.8" y="653.3" font-size="13.1" font-weight="normal" font-style="normal" text-anchor="middle" fill="#000" >Alive</text>
<text x="423.5" y="653.3" font-size="13.1" font-weight="normal" font-style="normal" text-anchor="middle" fill="#000" >Dead</text>
<text x="458.2" y="653.3" font-size="13.1" font-weight="normal" font-style="normal" text-anchor="middle" fill="#000" >Alive</text>
<text x="491.9" y="653.3" font-size="13.1" font-weight="normal" font-style="normal" text-anchor="middle" fill="#000" >Dead</text>
<text x="526.9" y="653.3" font-size="13.1" font-weight="normal" font-style="normal" text-anchor="middle" fill="#000" >Alive</text>
<text x="562.2" y="653.3" font-size="13.1" font-weight="normal" font-style="normal" text-anchor="middle" fill="#000" >Dead</text>
<polyline points="343.30,656.70 343.30,661.70 368.00,661.70 368.00,656.70" fill="none" stroke="#000" stroke-width="1.7" stroke-linejoin="miter"/>
<polyline points="372.50,656.70 372.50,661.70 435.80,661.70 435.80,656.70" fill="none" stroke="#000" stroke-width="1.7" stroke-linejoin="miter"/>
<polyline points="439.30,656.70 439.30,661.70 502.70,661.70 502.70,656.70" fill="none" stroke="#000" stroke-width="1.7" stroke-linejoin="miter"/>
<polyline points="504.60,656.70 504.60,661.70 568.20,661.70 568.20,656.70" fill="none" stroke="#000" stroke-width="1.7" stroke-linejoin="miter"/>
<text x="352.7" y="675.6" font-size="12.5" font-weight="normal" font-style="normal" text-anchor="middle" fill="#000" >N2</text>
<text x="399.2" y="675.6" font-size="12.5" font-weight="normal" font-style="italic" text-anchor="middle" fill="#000" >gex-3 RNAi</text>
<text x="473.6" y="675.6" font-size="12.5" font-weight="normal" font-style="italic" text-anchor="middle" fill="#000" >ced-5(n1812)</text>
<text x="552" y="675.6" font-size="12.5" font-weight="normal" font-style="italic" text-anchor="middle" fill="#000" >ced-12(n3261)</text>
<polyline points="359.10,412.80 359.10,401.40 515.00,401.40 515.00,422.00" fill="none" stroke="#000" stroke-width="2" stroke-linejoin="miter"/>
<text x="436.8" y="395.8" font-size="14.0" font-weight="normal" font-style="normal" text-anchor="middle" fill="#ee2e24" stroke="#ee2e24" stroke-width="0.3">ns</text>
<polyline points="359.10,444.40 359.10,423.90 448.80,423.90 448.80,464.30" fill="none" stroke="#000" stroke-width="2" stroke-linejoin="miter"/>
<text x="404.4" y="417.6" font-size="14.0" font-weight="normal" font-style="normal" text-anchor="middle" fill="#ee2e24" stroke="#ee2e24" stroke-width="0.3">ns</text>
<polyline points="393.70,476.80 393.70,444.40 421.50,444.40 421.50,450.00" fill="none" stroke="#000" stroke-width="2" stroke-linejoin="miter"/>
<text x="407.8" y="437.6" font-size="14.0" font-weight="normal" font-style="normal" text-anchor="middle" fill="#ee2e24" stroke="#ee2e24" stroke-width="0.3">ns</text>
<polyline points="359.10,463.10 359.10,457.50 386.40,457.50 386.40,476.80" fill="none" stroke="#000" stroke-width="2" stroke-linejoin="miter"/>
<text x="373.2" y="450" font-size="14.0" font-weight="normal" font-style="normal" text-anchor="middle" fill="#ee2e24" stroke="#ee2e24" stroke-width="0.3">ns</text>
<polyline points="455.90,464.40 455.90,434.20 483.30,434.20 483.30,440.50" fill="none" stroke="#000" stroke-width="2" stroke-linejoin="miter"/>
<text x="469.8" y="426.6" font-size="14.0" font-weight="normal" font-style="normal" text-anchor="middle" fill="#ee2e24" stroke="#ee2e24" stroke-width="0.3">ns</text>
<polyline points="514.00,459.40 514.00,438.90 545.00,438.90 545.00,444.50" fill="none" stroke="#000" stroke-width="2" stroke-linejoin="miter"/>
<text x="529.9" y="431.2" font-size="14.0" font-weight="normal" font-style="normal" text-anchor="middle" fill="#ee2e24" stroke="#ee2e24" stroke-width="0.3">ns</text>
<g fill="#000"><circle cx="359.20" cy="469.40" r="2.65"/><circle cx="359.20" cy="479.80" r="2.65"/><circle cx="359.20" cy="487.44" r="2.65"/><circle cx="361.69" cy="489.11" r="2.65"/><circle cx="359.20" cy="491.07" r="2.65"/><circle cx="362.02" cy="492.09" r="2.65"/><circle cx="356.58" cy="492.53" r="2.65"/><circle cx="364.50" cy="493.78" r="2.65"/><circle cx="359.20" cy="494.58" r="2.65"/><circle cx="354.76" cy="494.91" r="2.65"/><circle cx="361.85" cy="495.98" r="2.65"/><circle cx="366.10" cy="496.32" r="2.65"/><circle cx="357.38" cy="496.97" r="2.65"/><circle cx="353.63" cy="497.69" r="2.65"/><circle cx="363.74" cy="498.31" r="2.65"/><circle cx="359.64" cy="498.95" r="2.65"/><circle cx="366.65" cy="499.27" r="2.65"/><circle cx="356.83" cy="499.99" r="2.65"/><circle cx="352.30" cy="500.38" r="2.65"/><circle cx="361.86" cy="500.96" r="2.65"/><circle cx="364.77" cy="501.69" r="2.65"/><circle cx="359.06" cy="502.04" r="2.65"/><circle cx="355.80" cy="502.81" r="2.65"/><circle cx="352.90" cy="503.59" r="2.65"/><circle cx="366.90" cy="503.81" r="2.65"/><circle cx="360.84" cy="504.46" r="2.65"/><circle cx="363.82" cy="504.82" r="2.65"/><circle cx="358.13" cy="505.74" r="2.65"/><circle cx="355.13" cy="505.86" r="2.65"/><circle cx="352.20" cy="506.51" r="2.65"/><circle cx="361.66" cy="507.35" r="2.65"/><circle cx="364.78" cy="507.67" r="2.65"/><circle cx="367.70" cy="508.33" r="2.65"/><circle cx="359.07" cy="508.87" r="2.65"/><circle cx="356.10" cy="509.30" r="2.65"/><circle cx="353.15" cy="509.85" r="2.65"/><circle cx="362.61" cy="510.19" r="2.65"/><circle cx="365.57" cy="510.69" r="2.65"/><circle cx="350.54" cy="511.32" r="2.65"/><circle cx="359.40" cy="511.85" r="2.65"/><circle cx="356.47" cy="512.49" r="2.65"/><circle cx="362.01" cy="513.34" r="2.65"/><circle cx="353.66" cy="513.53" r="2.65"/><circle cx="364.94" cy="513.98" r="2.65"/><circle cx="350.88" cy="514.66" r="2.65"/><circle cx="359.20" cy="515.08" r="2.65"/><circle cx="356.38" cy="516.10" r="2.65"/><circle cx="361.74" cy="516.67" r="2.65"/><circle cx="364.70" cy="517.16" r="2.65"/><circle cx="353.96" cy="517.87" r="2.65"/><circle cx="359.12" cy="518.13" r="2.65"/><circle cx="367.29" cy="518.67" r="2.65"/><circle cx="351.28" cy="519.23" r="2.65"/><circle cx="361.47" cy="519.99" r="2.65"/><circle cx="357.10" cy="520.34" r="2.65"/><circle cx="354.20" cy="521.11" r="2.65"/><circle cx="363.98" cy="521.63" r="2.65"/><circle cx="359.28" cy="522.40" r="2.65"/><circle cx="352.06" cy="523.22" r="2.65"/><circle cx="356.62" cy="523.79" r="2.65"/><circle cx="361.69" cy="524.18" r="2.65"/><circle cx="364.49" cy="525.26" r="2.65"/><circle cx="359.20" cy="526.14" r="2.65"/><circle cx="356.28" cy="526.82" r="2.65"/><circle cx="361.90" cy="527.44" r="2.65"/><circle cx="353.70" cy="528.36" r="2.65"/><circle cx="359.20" cy="529.62" r="2.65"/><circle cx="361.95" cy="530.83" r="2.65"/><circle cx="357.50" cy="532.10" r="2.65"/><circle cx="359.60" cy="534.24" r="2.65"/><circle cx="359.20" cy="537.93" r="2.65"/><circle cx="389.61" cy="520.44" r="2.65"/><circle cx="385.62" cy="510.72" r="2.65"/><circle cx="389.94" cy="497.88" r="2.65"/><circle cx="393.35" cy="503.01" r="2.65"/><circle cx="394.46" cy="512.76" r="2.65"/><circle cx="390.16" cy="485.60" r="2.65"/><circle cx="389.23" cy="502.19" r="2.65"/><circle cx="391.02" cy="516.67" r="2.65"/><circle cx="386.21" cy="514.61" r="2.65"/><circle cx="392.94" cy="495.81" r="2.65"/><circle cx="386.07" cy="504.04" r="2.65"/><circle cx="391.30" cy="489.13" r="2.65"/><circle cx="389.24" cy="508.88" r="2.65"/><circle cx="389.51" cy="493.92" r="2.65"/><circle cx="395.44" cy="507.29" r="2.65"/><circle cx="389.92" cy="512.69" r="2.65"/><circle cx="387.89" cy="490.35" r="2.65"/><circle cx="391.87" cy="506.37" r="2.65"/><circle cx="390.20" cy="523.30" r="2.65"/><circle cx="389.20" cy="529.00" r="2.65"/><circle cx="390.50" cy="532.20" r="2.65"/><circle cx="421.20" cy="454.00" r="2.65"/><circle cx="421.20" cy="465.30" r="2.65"/><circle cx="421.20" cy="473.89" r="2.65"/><circle cx="421.20" cy="477.13" r="2.65"/><circle cx="418.73" cy="478.83" r="2.65"/><circle cx="421.36" cy="480.27" r="2.65"/><circle cx="424.13" cy="481.42" r="2.65"/><circle cx="419.31" cy="482.45" r="2.65"/><circle cx="416.51" cy="483.53" r="2.65"/><circle cx="421.48" cy="484.52" r="2.65"/><circle cx="418.72" cy="485.71" r="2.65"/><circle cx="424.02" cy="486.11" r="2.65"/><circle cx="415.97" cy="486.91" r="2.65"/><circle cx="421.20" cy="488.06" r="2.65"/><circle cx="425.45" cy="488.75" r="2.65"/><circle cx="418.31" cy="488.86" r="2.65"/><circle cx="414.84" cy="489.69" r="2.65"/><circle cx="422.43" cy="490.79" r="2.65"/><circle cx="427.39" cy="491.03" r="2.65"/><circle cx="419.60" cy="491.78" r="2.65"/><circle cx="416.66" cy="492.41" r="2.65"/><circle cx="424.36" cy="493.09" r="2.65"/><circle cx="413.81" cy="493.33" r="2.65"/><circle cx="421.20" cy="494.33" r="2.65"/><circle cx="426.76" cy="494.89" r="2.65"/><circle cx="418.35" cy="495.27" r="2.65"/><circle cx="429.62" cy="495.81" r="2.65"/><circle cx="423.13" cy="496.63" r="2.65"/><circle cx="416.14" cy="497.29" r="2.65"/><circle cx="420.39" cy="497.87" r="2.65"/><circle cx="425.84" cy="497.92" r="2.65"/><circle cx="428.69" cy="498.86" r="2.65"/><circle cx="413.81" cy="499.19" r="2.65"/><circle cx="422.51" cy="499.99" r="2.65"/><circle cx="419.12" cy="500.58" r="2.65"/><circle cx="430.98" cy="500.79" r="2.65"/><circle cx="425.01" cy="501.64" r="2.65"/><circle cx="416.55" cy="502.13" r="2.65"/><circle cx="427.95" cy="502.27" r="2.65"/><circle cx="421.20" cy="503.04" r="2.65"/><circle cx="414.18" cy="503.97" r="2.65"/><circle cx="430.29" cy="504.14" r="2.65"/><circle cx="418.81" cy="504.86" r="2.65"/><circle cx="422.64" cy="505.68" r="2.65"/><circle cx="425.60" cy="506.11" r="2.65"/><circle cx="416.68" cy="506.97" r="2.65"/><circle cx="428.36" cy="507.31" r="2.65"/><circle cx="421.11" cy="508.26" r="2.65"/><circle cx="424.03" cy="508.93" r="2.65"/><circle cx="414.81" cy="509.32" r="2.65"/><circle cx="419.09" cy="510.47" r="2.65"/><circle cx="421.98" cy="511.27" r="2.65"/><circle cx="424.86" cy="512.11" r="2.65"/><circle cx="416.89" cy="512.51" r="2.65"/><circle cx="420.11" cy="513.62" r="2.65"/><circle cx="426.81" cy="514.39" r="2.65"/><circle cx="422.23" cy="515.74" r="2.65"/><circle cx="419.45" cy="516.87" r="2.65"/><circle cx="423.73" cy="518.33" r="2.65"/><circle cx="417.81" cy="519.38" r="2.65"/><circle cx="421.20" cy="521.15" r="2.65"/><circle cx="423.61" cy="522.94" r="2.65"/><circle cx="421.20" cy="525.76" r="2.65"/><circle cx="419.44" cy="528.19" r="2.65"/><circle cx="421.20" cy="531.48" r="2.65"/><circle cx="421.20" cy="536.14" r="2.65"/><circle cx="421.20" cy="540.27" r="2.65"/><circle cx="421.20" cy="544.54" r="2.65"/><circle cx="421.20" cy="553.40" r="2.65"/><circle cx="421.20" cy="558.20" r="2.65"/><circle cx="421.20" cy="595.60" r="2.65"/><circle cx="452.30" cy="476.78" r="2.65"/><circle cx="452.30" cy="481.13" r="2.65"/><circle cx="452.30" cy="484.76" r="2.65"/><circle cx="454.30" cy="487.00" r="2.65"/><circle cx="451.80" cy="488.67" r="2.65"/><circle cx="448.93" cy="489.54" r="2.65"/><circle cx="454.10" cy="490.61" r="2.65"/><circle cx="451.29" cy="491.67" r="2.65"/><circle cx="456.59" cy="492.27" r="2.65"/><circle cx="448.58" cy="492.97" r="2.65"/><circle cx="453.18" cy="494.00" r="2.65"/><circle cx="445.90" cy="494.30" r="2.65"/><circle cx="450.54" cy="495.43" r="2.65"/><circle cx="455.39" cy="496.03" r="2.65"/><circle cx="458.37" cy="496.43" r="2.65"/><circle cx="447.99" cy="497.01" r="2.65"/><circle cx="445.01" cy="497.34" r="2.65"/><circle cx="452.30" cy="498.00" r="2.65"/><circle cx="456.02" cy="498.96" r="2.65"/><circle cx="449.72" cy="499.54" r="2.65"/><circle cx="446.77" cy="500.07" r="2.65"/><circle cx="458.72" cy="500.28" r="2.65"/><circle cx="452.30" cy="501.23" r="2.65"/><circle cx="455.20" cy="501.99" r="2.65"/><circle cx="449.43" cy="502.52" r="2.65"/><circle cx="445.76" cy="502.90" r="2.65"/><circle cx="457.87" cy="503.37" r="2.65"/><circle cx="460.83" cy="503.85" r="2.65"/><circle cx="452.30" cy="504.29" r="2.65"/><circle cx="443.38" cy="504.72" r="2.65"/><circle cx="454.84" cy="505.88" r="2.65"/><circle cx="449.86" cy="506.04" r="2.65"/><circle cx="446.92" cy="506.63" r="2.65"/><circle cx="457.54" cy="507.19" r="2.65"/><circle cx="452.30" cy="508.09" r="2.65"/><circle cx="444.61" cy="508.55" r="2.65"/><circle cx="449.45" cy="509.01" r="2.65"/><circle cx="454.85" cy="509.67" r="2.65"/><circle cx="458.21" cy="510.12" r="2.65"/><circle cx="447.03" cy="510.79" r="2.65"/><circle cx="452.30" cy="511.48" r="2.65"/><circle cx="444.28" cy="512.00" r="2.65"/><circle cx="460.34" cy="512.23" r="2.65"/><circle cx="454.77" cy="513.18" r="2.65"/><circle cx="450.47" cy="513.85" r="2.65"/><circle cx="447.56" cy="514.60" r="2.65"/><circle cx="456.83" cy="515.36" r="2.65"/><circle cx="452.59" cy="515.97" r="2.65"/><circle cx="445.20" cy="516.45" r="2.65"/><circle cx="449.90" cy="517.29" r="2.65"/><circle cx="454.63" cy="518.17" r="2.65"/><circle cx="447.40" cy="518.95" r="2.65"/><circle cx="451.95" cy="519.52" r="2.65"/><circle cx="456.59" cy="520.44" r="2.65"/><circle cx="449.67" cy="521.47" r="2.65"/><circle cx="452.79" cy="522.40" r="2.65"/><circle cx="455.54" cy="523.60" r="2.65"/><circle cx="451.16" cy="524.91" r="2.65"/><circle cx="448.34" cy="525.95" r="2.65"/><circle cx="452.39" cy="527.65" r="2.65"/><circle cx="449.97" cy="529.42" r="2.65"/><circle cx="452.30" cy="532.59" r="2.65"/><circle cx="452.30" cy="536.72" r="2.65"/><circle cx="452.30" cy="540.96" r="2.65"/><circle cx="482.10" cy="445.30" r="2.65"/><circle cx="483.30" cy="447.70" r="2.65"/><circle cx="483.30" cy="457.00" r="2.65"/><circle cx="484.50" cy="463.00" r="2.65"/><circle cx="480.90" cy="464.00" r="2.65"/><circle cx="486.23" cy="483.11" r="2.65"/><circle cx="485.31" cy="507.70" r="2.65"/><circle cx="484.55" cy="479.57" r="2.65"/><circle cx="483.87" cy="526.92" r="2.65"/><circle cx="485.21" cy="519.74" r="2.65"/><circle cx="484.20" cy="495.17" r="2.65"/><circle cx="486.98" cy="503.08" r="2.65"/><circle cx="482.15" cy="516.90" r="2.65"/><circle cx="479.89" cy="501.53" r="2.65"/><circle cx="478.08" cy="493.86" r="2.65"/><circle cx="484.47" cy="499.18" r="2.65"/><circle cx="484.67" cy="473.81" r="2.65"/><circle cx="478.29" cy="481.35" r="2.65"/><circle cx="488.83" cy="492.31" r="2.65"/><circle cx="482.45" cy="504.11" r="2.65"/><circle cx="483.80" cy="532.06" r="2.65"/><circle cx="485.72" cy="489.85" r="2.65"/><circle cx="484.78" cy="523.37" r="2.65"/><circle cx="478.44" cy="509.48" r="2.65"/><circle cx="480.81" cy="491.30" r="2.65"/><circle cx="477.61" cy="505.12" r="2.65"/><circle cx="485.10" cy="511.76" r="2.65"/><circle cx="482.05" cy="484.53" r="2.65"/><circle cx="489.13" cy="498.51" r="2.65"/><circle cx="481.25" cy="520.96" r="2.65"/><circle cx="479.86" cy="477.64" r="2.65"/><circle cx="476.34" cy="499.86" r="2.65"/><circle cx="489.76" cy="485.03" r="2.65"/><circle cx="476.31" cy="487.52" r="2.65"/><circle cx="479.48" cy="497.82" r="2.65"/><circle cx="486.36" cy="515.16" r="2.65"/><circle cx="483.40" cy="536.18" r="2.65"/><circle cx="479.93" cy="513.40" r="2.65"/><circle cx="489.50" cy="488.76" r="2.65"/><circle cx="483.30" cy="558.40" r="2.65"/><circle cx="483.30" cy="588.60" r="2.65"/><circle cx="483.30" cy="593.40" r="2.65"/><circle cx="514.40" cy="464.20" r="2.65"/><circle cx="514.40" cy="471.40" r="2.65"/><circle cx="514.40" cy="475.53" r="2.65"/><circle cx="514.40" cy="480.27" r="2.65"/><circle cx="514.40" cy="483.40" r="2.65"/><circle cx="516.60" cy="485.44" r="2.65"/><circle cx="514.02" cy="486.97" r="2.65"/><circle cx="511.17" cy="487.90" r="2.65"/><circle cx="516.38" cy="488.82" r="2.65"/><circle cx="519.20" cy="489.85" r="2.65"/><circle cx="513.93" cy="490.54" r="2.65"/><circle cx="511.12" cy="491.60" r="2.65"/><circle cx="516.52" cy="492.05" r="2.65"/><circle cx="520.05" cy="492.73" r="2.65"/><circle cx="508.63" cy="493.27" r="2.65"/><circle cx="514.10" cy="493.83" r="2.65"/><circle cx="522.28" cy="494.73" r="2.65"/><circle cx="516.70" cy="495.34" r="2.65"/><circle cx="511.62" cy="495.51" r="2.65"/><circle cx="519.55" cy="496.28" r="2.65"/><circle cx="508.78" cy="496.49" r="2.65"/><circle cx="514.39" cy="497.26" r="2.65"/><circle cx="505.97" cy="497.54" r="2.65"/><circle cx="521.82" cy="498.24" r="2.65"/><circle cx="517.05" cy="498.64" r="2.65"/><circle cx="512.31" cy="499.42" r="2.65"/><circle cx="509.34" cy="499.86" r="2.65"/><circle cx="524.27" cy="499.96" r="2.65"/><circle cx="519.44" cy="500.46" r="2.65"/><circle cx="514.75" cy="501.18" r="2.65"/><circle cx="506.85" cy="501.53" r="2.65"/><circle cx="521.98" cy="502.04" r="2.65"/><circle cx="512.34" cy="502.97" r="2.65"/><circle cx="516.75" cy="503.41" r="2.65"/><circle cx="509.38" cy="503.46" r="2.65"/><circle cx="505.03" cy="503.91" r="2.65"/><circle cx="519.42" cy="504.78" r="2.65"/><circle cx="514.40" cy="505.47" r="2.65"/><circle cx="511.44" cy="505.93" r="2.65"/><circle cx="508.45" cy="506.32" r="2.65"/><circle cx="517.07" cy="506.84" r="2.65"/><circle cx="521.06" cy="507.29" r="2.65"/><circle cx="505.84" cy="507.79" r="2.65"/><circle cx="514.40" cy="508.51" r="2.65"/><circle cx="523.77" cy="508.56" r="2.65"/><circle cx="511.57" cy="509.51" r="2.65"/><circle cx="516.99" cy="510.03" r="2.65"/><circle cx="519.98" cy="510.29" r="2.65"/><circle cx="509.07" cy="511.16" r="2.65"/><circle cx="506.08" cy="511.40" r="2.65"/><circle cx="514.40" cy="512.48" r="2.65"/><circle cx="517.99" cy="512.86" r="2.65"/><circle cx="511.51" cy="513.27" r="2.65"/><circle cx="520.79" cy="513.95" r="2.65"/><circle cx="508.91" cy="514.78" r="2.65"/><circle cx="515.83" cy="515.12" r="2.65"/><circle cx="506.03" cy="515.62" r="2.65"/><circle cx="513.22" cy="516.61" r="2.65"/><circle cx="517.73" cy="517.44" r="2.65"/><circle cx="510.43" cy="517.69" r="2.65"/><circle cx="520.37" cy="518.86" r="2.65"/><circle cx="514.40" cy="519.43" r="2.65"/><circle cx="517.24" cy="520.41" r="2.65"/><circle cx="511.97" cy="521.19" r="2.65"/><circle cx="519.51" cy="522.37" r="2.65"/><circle cx="514.40" cy="523.15" r="2.65"/><circle cx="517.09" cy="524.48" r="2.65"/><circle cx="512.79" cy="525.68" r="2.65"/><circle cx="509.90" cy="526.48" r="2.65"/><circle cx="514.40" cy="528.46" r="2.65"/><circle cx="516.88" cy="530.16" r="2.65"/><circle cx="514.40" cy="532.19" r="2.65"/><circle cx="514.40" cy="536.45" r="2.65"/><circle cx="545.50" cy="450.10" r="2.65"/><circle cx="545.50" cy="458.80" r="2.65"/><circle cx="543.80" cy="471.40" r="2.65"/><circle cx="547.40" cy="471.40" r="2.65"/><circle cx="541.30" cy="479.00" r="2.65"/><circle cx="546.10" cy="480.00" r="2.65"/><circle cx="541.72" cy="499.62" r="2.65"/><circle cx="546.35" cy="515.21" r="2.65"/><circle cx="543.28" cy="517.92" r="2.65"/><circle cx="545.94" cy="485.31" r="2.65"/><circle cx="550.53" cy="500.48" r="2.65"/><circle cx="545.85" cy="528.57" r="2.65"/><circle cx="545.55" cy="532.94" r="2.65"/><circle cx="544.76" cy="497.13" r="2.65"/><circle cx="541.96" cy="506.52" r="2.65"/><circle cx="546.19" cy="511.35" r="2.65"/><circle cx="546.07" cy="491.37" r="2.65"/><circle cx="549.15" cy="504.13" r="2.65"/><circle cx="546.58" cy="519.92" r="2.65"/><circle cx="549.94" cy="489.66" r="2.65"/><circle cx="546.35" cy="501.75" r="2.65"/><circle cx="542.13" cy="490.45" r="2.65"/><circle cx="540.39" cy="494.56" r="2.65"/><circle cx="544.55" cy="524.99" r="2.65"/><circle cx="546.14" cy="506.81" r="2.65"/><circle cx="541.99" cy="510.48" r="2.65"/><circle cx="548.87" cy="496.25" r="2.65"/><circle cx="549.25" cy="509.19" r="2.65"/><circle cx="551.39" cy="493.15" r="2.65"/><circle cx="542.84" cy="514.17" r="2.65"/><circle cx="545.00" cy="543.90" r="2.65"/><circle cx="545.50" cy="552.30" r="2.65"/><circle cx="543.80" cy="578.80" r="2.65"/><circle cx="546.70" cy="577.60" r="2.65"/></g>
<rect x="353.10" y="508.1" width="12.80" height="4.00" fill="#a9a9a9"/>
<g stroke="#a9a9a9" stroke-width="1.9" fill="none"><line x1="379.7" y1="507.1" x2="400.7" y2="507.1"/><line x1="390.2" y1="502.3" x2="390.2" y2="511.7"/><line x1="385.2" y1="502.3" x2="395.2" y2="502.3"/><line x1="385.2" y1="511.7" x2="395.2" y2="511.7"/></g>
<g stroke="#a9a9a9" stroke-width="1.9" fill="none"><line x1="410.8" y1="499.1" x2="431.59999999999997" y2="499.1"/><line x1="421.2" y1="497.6" x2="421.2" y2="500.6"/><line x1="416.2" y1="497.6" x2="426.2" y2="497.6"/><line x1="416.2" y1="500.6" x2="426.2" y2="500.6"/></g>
<g stroke="#a9a9a9" stroke-width="1.9" fill="none"><line x1="442.40000000000003" y1="506.4" x2="462.2" y2="506.4"/><line x1="452.3" y1="503.4" x2="452.3" y2="509.4"/><line x1="448.3" y1="503.4" x2="456.3" y2="503.4"/><line x1="448.3" y1="509.4" x2="456.3" y2="509.4"/></g>
<g stroke="#a9a9a9" stroke-width="1.9" fill="none"><line x1="473.1" y1="500.9" x2="493.5" y2="500.9"/><line x1="483.3" y1="490.7" x2="483.3" y2="510"/><line x1="478.3" y1="490.7" x2="488.3" y2="490.7"/><line x1="478.3" y1="510" x2="488.3" y2="510"/></g>
<g stroke="#a9a9a9" stroke-width="1.9" fill="none"><line x1="504.30000000000007" y1="504.25" x2="524.1" y2="504.25"/><line x1="514.2" y1="504.25" x2="514.2" y2="504.25"/><line x1="514.2" y1="504.25" x2="514.2" y2="504.25"/><line x1="514.2" y1="504.25" x2="514.2" y2="504.25"/></g>
<rect x="508.00" y="502.1" width="12.00" height="4.80" fill="#a9a9a9"/>
<g stroke="#a9a9a9" stroke-width="1.9" fill="none"><line x1="535.6" y1="505.2" x2="555.4" y2="505.2"/><line x1="545.5" y1="495.6" x2="545.5" y2="515.4"/><line x1="540.5" y1="495.6" x2="550.5" y2="495.6"/><line x1="540.5" y1="515.4" x2="550.5" y2="515.4"/></g>
<line x1="340.2" y1="510.0" x2="575.8" y2="510.0" stroke="rgba(242,52,42,0.6)" stroke-width="1.9" stroke-dasharray="7.8 2.5"/>
<text x="460.6" y="12.2" font-size="17.5" font-weight="bold" font-style="normal" text-anchor="start" fill="#000" >D</text>
<text x="573.4" y="12.4" font-size="15.4" font-weight="bold" font-style="normal" text-anchor="middle" fill="#000" >Length to width ratio</text>
<line x1="479.6" y1="74.9" x2="479.6" y2="300.7" stroke="#000" stroke-width="2" />
<path d="M475.40000000000003,300.15H479.6M475.40000000000003,291.18H479.6M475.40000000000003,282.21H479.6M475.40000000000003,273.24H479.6M475.40000000000003,264.27H479.6M475.40000000000003,255.30H479.6M475.40000000000003,246.33H479.6M475.40000000000003,237.36H479.6M475.40000000000003,228.39H479.6M475.40000000000003,219.42H479.6M475.40000000000003,210.45H479.6M475.40000000000003,201.48H479.6M475.40000000000003,192.51H479.6M475.40000000000003,183.54H479.6M475.40000000000003,174.57H479.6M475.40000000000003,165.60H479.6M475.40000000000003,156.63H479.6M475.40000000000003,147.66H479.6M475.40000000000003,138.69H479.6M475.40000000000003,129.72H479.6M475.40000000000003,120.75H479.6M475.40000000000003,111.78H479.6M475.40000000000003,102.81H479.6M475.40000000000003,93.84H479.6M475.40000000000003,84.87H479.6M475.40000000000003,75.90H479.6M471.8,255.30H479.6M471.8,165.60H479.6M471.8,75.90H479.6" stroke="#000" stroke-width="1.9" fill="none"/>
<text x="469.1" y="259.8" font-size="12.8" font-weight="bold" font-style="normal" text-anchor="end" fill="#000" >1.0</text>
<text x="469.1" y="170.1" font-size="12.8" font-weight="bold" font-style="normal" text-anchor="end" fill="#000" >1.5</text>
<text x="469.1" y="80.4" font-size="12.8" font-weight="bold" font-style="normal" text-anchor="end" fill="#000" >2.0</text>
<line x1="475.6" y1="299.7" x2="700.3" y2="299.7" stroke="#000" stroke-width="2" />
<path d="M500.00,299.7V306.5M530.00,299.7V306.5M560.00,299.7V306.5M590.00,299.7V306.5M620.00,299.7V306.5M650.00,299.7V306.5M680.00,299.7V306.5" stroke="#000" stroke-width="1.9" fill="none"/>
<text x="490.2" y="317.5" font-size="13.1" font-weight="normal" font-style="normal" text-anchor="middle" fill="#000" >Alive</text>
<text x="525.8" y="317.5" font-size="13.1" font-weight="normal" font-style="normal" text-anchor="middle" fill="#000" >Alive</text>
<text x="560.2" y="317.5" font-size="13.1" font-weight="normal" font-style="normal" text-anchor="middle" fill="#000" >Dead</text>
<text x="594.4" y="317.5" font-size="13.1" font-weight="normal" font-style="normal" text-anchor="middle" fill="#000" >Alive</text>
<text x="624.7" y="317.5" font-size="13.1" font-weight="normal" font-style="normal" text-anchor="middle" fill="#000" >Dead</text>
<text x="660.2" y="317.5" font-size="13.1" font-weight="normal" font-style="normal" text-anchor="middle" fill="#000" >Alive</text>
<text x="691" y="317.5" font-size="13.1" font-weight="normal" font-style="normal" text-anchor="middle" fill="#000" >Dead</text>
<polyline points="479.20,320.30 479.20,325.80 504.50,325.80 504.50,320.30" fill="none" stroke="#000" stroke-width="1.7" stroke-linejoin="miter"/>
<polyline points="509.20,320.30 509.20,325.80 572.00,325.80 572.00,320.30" fill="none" stroke="#000" stroke-width="1.7" stroke-linejoin="miter"/>
<polyline points="575.20,320.30 575.20,325.80 638.30,325.80 638.30,320.30" fill="none" stroke="#000" stroke-width="1.7" stroke-linejoin="miter"/>
<polyline points="641.25,320.30 641.25,325.80 704.40,325.80 704.40,320.30" fill="none" stroke="#000" stroke-width="1.7" stroke-linejoin="miter"/>
<text x="489" y="340" font-size="12.5" font-weight="normal" font-style="normal" text-anchor="middle" fill="#000" >N2</text>
<text x="532" y="340" font-size="12.5" font-weight="normal" font-style="italic" text-anchor="middle" fill="#000" >gex-3 RNAi</text>
<text x="604" y="340" font-size="12.5" font-weight="normal" font-style="italic" text-anchor="middle" fill="#000" >ced-5(n1812)</text>
<text x="680.4" y="340" font-size="12.5" font-weight="normal" font-style="italic" text-anchor="middle" fill="#000" >ced-12(n3261)</text>
<text x="588.6" y="359.4" font-size="15.2" font-weight="normal" font-style="normal" text-anchor="middle" fill="#000" >WT Mean ratio = 1.6</text>
<polyline points="499.60,40.90 499.60,30.50 650.00,30.50 650.00,59.60" fill="none" stroke="#000" stroke-width="2" stroke-linejoin="miter"/>
<text x="575" y="24.4" font-size="14.0" font-weight="normal" font-style="normal" text-anchor="middle" fill="#ee2e24" stroke="#ee2e24" stroke-width="0.3">ns</text>
<polyline points="499.60,60.50 499.60,50.80 589.80,50.80 589.80,58.00" fill="none" stroke="#000" stroke-width="2" stroke-linejoin="miter"/>
<path d="M539.60,35.20L539.60,42.40M536.01,37.00L543.19,40.60M536.01,40.60L543.19,37.00M550.40,35.20L550.40,42.40M546.81,37.00L553.99,40.60M546.81,40.60L553.99,37.00" stroke="#ee2e24" stroke-width="2.5" stroke-linecap="round" fill="none"/>
<polyline points="499.60,101.40 499.60,82.70 529.80,82.70 529.80,88.60" fill="none" stroke="#000" stroke-width="2" stroke-linejoin="miter"/>
<path d="M498.60,66.40L498.60,73.60M495.01,68.20L502.19,71.80M495.01,71.80L502.19,68.20M509.40,66.40L509.40,73.60M505.81,68.20L512.99,71.80M505.81,71.80L512.99,68.20M520.20,66.40L520.20,73.60M516.61,68.20L523.79,71.80M516.61,71.80L523.79,68.20M531.00,66.40L531.00,73.60M527.41,68.20L534.59,71.80M527.41,71.80L534.59,68.20" stroke="#ee2e24" stroke-width="2.5" stroke-linecap="round" fill="none"/>
<polyline points="530.30,125.00 530.30,109.10 560.00,109.10 560.00,112.00" fill="none" stroke="#000" stroke-width="2" stroke-linejoin="miter"/>
<path d="M528.60,94.50L528.60,101.70M525.01,96.30L532.19,99.90M525.01,99.90L532.19,96.30M539.40,94.50L539.40,101.70M535.81,96.30L542.99,99.90M535.81,99.90L542.99,96.30M550.20,94.50L550.20,101.70M546.61,96.30L553.79,99.90M546.61,99.90L553.79,96.30M561.00,94.50L561.00,101.70M557.41,96.30L564.59,99.90M557.41,99.90L564.59,96.30" stroke="#ee2e24" stroke-width="2.5" stroke-linecap="round" fill="none"/>
<polyline points="589.50,86.50 589.50,81.10 620.40,81.10 620.40,111.30" fill="none" stroke="#000" stroke-width="2" stroke-linejoin="miter"/>
<path d="M589.20,66.20L589.20,73.40M585.61,68.00L592.79,71.60M585.61,71.60L592.79,68.00M600.00,66.20L600.00,73.40M596.41,68.00L603.59,71.60M596.41,71.60L603.59,68.00M610.80,66.20L610.80,73.40M607.21,68.00L614.39,71.60M607.21,71.60L614.39,68.00M621.60,66.20L621.60,73.40M618.01,68.00L625.19,71.60M618.01,71.60L625.19,68.00" stroke="#ee2e24" stroke-width="2.5" stroke-linecap="round" fill="none"/>
<polyline points="650.00,91.80 650.00,83.10 680.00,83.10 680.00,105.40" fill="none" stroke="#000" stroke-width="2" stroke-linejoin="miter"/>
<path d="M649.20,68.00L649.20,75.20M645.61,69.80L652.79,73.40M645.61,73.40L652.79,69.80M660.00,68.00L660.00,75.20M656.41,69.80L663.59,73.40M656.41,73.40L663.59,69.80M670.80,68.00L670.80,75.20M667.21,69.80L674.39,73.40M667.21,73.40L674.39,69.80M681.60,68.00L681.60,75.20M678.01,69.80L685.19,73.40M678.01,73.40L685.19,69.80" stroke="#ee2e24" stroke-width="2.5" stroke-linecap="round" fill="none"/>
<g fill="#000"><circle cx="500.00" cy="112.02" r="2.65"/><circle cx="500.00" cy="116.23" r="2.65"/><circle cx="500.00" cy="119.91" r="2.65"/><circle cx="498.54" cy="122.53" r="2.65"/><circle cx="501.07" cy="124.14" r="2.65"/><circle cx="498.66" cy="125.93" r="2.65"/><circle cx="501.37" cy="127.21" r="2.65"/><circle cx="496.47" cy="127.98" r="2.65"/><circle cx="503.65" cy="129.16" r="2.65"/><circle cx="500.00" cy="130.10" r="2.65"/><circle cx="495.66" cy="130.87" r="2.65"/><circle cx="504.96" cy="131.86" r="2.65"/><circle cx="501.60" cy="132.64" r="2.65"/><circle cx="498.69" cy="133.38" r="2.65"/><circle cx="495.90" cy="134.47" r="2.65"/><circle cx="503.39" cy="135.04" r="2.65"/><circle cx="506.38" cy="135.32" r="2.65"/><circle cx="500.00" cy="136.21" r="2.65"/><circle cx="497.20" cy="137.28" r="2.65"/><circle cx="504.42" cy="137.86" r="2.65"/><circle cx="494.40" cy="138.36" r="2.65"/><circle cx="500.85" cy="139.09" r="2.65"/><circle cx="506.78" cy="139.71" r="2.65"/><circle cx="491.88" cy="140.00" r="2.65"/><circle cx="498.42" cy="140.84" r="2.65"/><circle cx="502.80" cy="141.37" r="2.65"/><circle cx="495.62" cy="141.92" r="2.65"/><circle cx="505.43" cy="142.81" r="2.65"/><circle cx="492.83" cy="143.02" r="2.65"/><circle cx="500.00" cy="143.71" r="2.65"/><circle cx="502.86" cy="144.63" r="2.65"/><circle cx="497.48" cy="145.34" r="2.65"/><circle cx="494.49" cy="145.58" r="2.65"/><circle cx="505.19" cy="146.51" r="2.65"/><circle cx="500.00" cy="147.10" r="2.65"/><circle cx="491.96" cy="147.19" r="2.65"/><circle cx="496.76" cy="148.25" r="2.65"/><circle cx="502.70" cy="148.40" r="2.65"/><circle cx="506.55" cy="149.18" r="2.65"/><circle cx="494.06" cy="149.55" r="2.65"/><circle cx="499.50" cy="150.06" r="2.65"/><circle cx="491.43" cy="151.00" r="2.65"/><circle cx="502.00" cy="151.70" r="2.65"/><circle cx="497.03" cy="151.77" r="2.65"/><circle cx="504.90" cy="152.50" r="2.65"/><circle cx="494.38" cy="153.17" r="2.65"/><circle cx="499.82" cy="153.76" r="2.65"/><circle cx="507.50" cy="153.98" r="2.65"/><circle cx="502.58" cy="154.92" r="2.65"/><circle cx="497.12" cy="155.06" r="2.65"/><circle cx="505.31" cy="156.16" r="2.65"/><circle cx="494.48" cy="156.50" r="2.65"/><circle cx="500.00" cy="157.10" r="2.65"/><circle cx="507.79" cy="157.85" r="2.65"/><circle cx="502.85" cy="158.04" r="2.65"/><circle cx="497.36" cy="158.52" r="2.65"/><circle cx="493.63" cy="159.38" r="2.65"/><circle cx="500.00" cy="160.14" r="2.65"/><circle cx="504.12" cy="160.76" r="2.65"/><circle cx="496.17" cy="161.28" r="2.65"/><circle cx="506.91" cy="161.86" r="2.65"/><circle cx="493.03" cy="162.32" r="2.65"/><circle cx="500.00" cy="163.17" r="2.65"/><circle cx="502.94" cy="163.78" r="2.65"/><circle cx="497.32" cy="164.53" r="2.65"/><circle cx="505.61" cy="165.15" r="2.65"/><circle cx="494.56" cy="165.69" r="2.65"/><circle cx="500.00" cy="166.49" r="2.65"/><circle cx="502.97" cy="166.92" r="2.65"/><circle cx="497.24" cy="167.67" r="2.65"/><circle cx="505.34" cy="168.76" r="2.65"/><circle cx="500.62" cy="169.42" r="2.65"/><circle cx="495.15" cy="169.82" r="2.65"/><circle cx="507.61" cy="170.72" r="2.65"/><circle cx="498.73" cy="171.75" r="2.65"/><circle cx="501.56" cy="172.74" r="2.65"/><circle cx="496.30" cy="173.51" r="2.65"/><circle cx="503.98" cy="174.52" r="2.65"/><circle cx="500.00" cy="175.87" r="2.65"/><circle cx="497.13" cy="176.73" r="2.65"/><circle cx="502.14" cy="177.97" r="2.65"/><circle cx="499.60" cy="179.56" r="2.65"/><circle cx="496.83" cy="180.70" r="2.65"/><circle cx="500.13" cy="182.52" r="2.65"/><circle cx="497.72" cy="184.30" r="2.65"/><circle cx="500.00" cy="187.41" r="2.65"/><circle cx="500.00" cy="191.59" r="2.65"/><circle cx="500.00" cy="195.54" r="2.65"/><circle cx="500.00" cy="200.07" r="2.65"/><circle cx="500.00" cy="204.14" r="2.65"/><circle cx="500.00" cy="208.80" r="2.65"/><circle cx="530.00" cy="131.40" r="2.65"/><circle cx="530.00" cy="149.50" r="2.65"/><circle cx="533.10" cy="160.99" r="2.65"/><circle cx="532.66" cy="183.14" r="2.65"/><circle cx="526.89" cy="162.58" r="2.65"/><circle cx="531.60" cy="204.10" r="2.65"/><circle cx="526.02" cy="172.05" r="2.65"/><circle cx="528.15" cy="209.02" r="2.65"/><circle cx="534.14" cy="195.68" r="2.65"/><circle cx="530.58" cy="171.70" r="2.65"/><circle cx="531.70" cy="175.25" r="2.65"/><circle cx="528.09" cy="181.02" r="2.65"/><circle cx="525.63" cy="199.59" r="2.65"/><circle cx="528.45" cy="195.78" r="2.65"/><circle cx="524.50" cy="204.98" r="2.65"/><circle cx="527.98" cy="203.18" r="2.65"/><circle cx="525.86" cy="166.21" r="2.65"/><circle cx="525.77" cy="175.91" r="2.65"/><circle cx="526.71" cy="189.34" r="2.65"/><circle cx="532.40" cy="179.03" r="2.65"/><circle cx="532.00" cy="168.28" r="2.65"/><circle cx="531.02" cy="192.21" r="2.65"/><circle cx="528.22" cy="185.25" r="2.65"/><circle cx="532.11" cy="157.39" r="2.65"/><circle cx="534.99" cy="205.62" r="2.65"/><circle cx="534.63" cy="199.41" r="2.65"/><circle cx="534.97" cy="164.44" r="2.65"/><circle cx="527.47" cy="155.80" r="2.65"/><circle cx="534.33" cy="186.41" r="2.65"/><circle cx="530.56" cy="200.04" r="2.65"/><circle cx="531.50" cy="214.80" r="2.65"/><circle cx="528.20" cy="219.30" r="2.65"/><circle cx="559.00" cy="129.50" r="2.65"/><circle cx="559.00" cy="135.20" r="2.65"/><circle cx="559.00" cy="140.50" r="2.65"/><circle cx="559.50" cy="158.22" r="2.65"/><circle cx="559.50" cy="162.47" r="2.65"/><circle cx="559.50" cy="166.77" r="2.65"/><circle cx="559.50" cy="171.05" r="2.65"/><circle cx="558.60" cy="173.91" r="2.65"/><circle cx="560.55" cy="176.19" r="2.65"/><circle cx="558.16" cy="178.01" r="2.65"/><circle cx="560.65" cy="179.68" r="2.65"/><circle cx="558.13" cy="181.31" r="2.65"/><circle cx="561.71" cy="182.49" r="2.65"/><circle cx="556.49" cy="183.83" r="2.65"/><circle cx="559.50" cy="184.69" r="2.65"/><circle cx="562.31" cy="185.73" r="2.65"/><circle cx="557.90" cy="187.22" r="2.65"/><circle cx="555.05" cy="188.18" r="2.65"/><circle cx="560.17" cy="189.18" r="2.65"/><circle cx="563.07" cy="189.94" r="2.65"/><circle cx="557.61" cy="190.75" r="2.65"/><circle cx="554.66" cy="191.30" r="2.65"/><circle cx="560.04" cy="192.52" r="2.65"/><circle cx="563.00" cy="193.02" r="2.65"/><circle cx="557.44" cy="194.02" r="2.65"/><circle cx="554.51" cy="194.67" r="2.65"/><circle cx="560.58" cy="195.47" r="2.65"/><circle cx="563.52" cy="196.08" r="2.65"/><circle cx="566.44" cy="196.78" r="2.65"/><circle cx="558.17" cy="197.26" r="2.65"/><circle cx="555.30" cy="198.13" r="2.65"/><circle cx="560.85" cy="198.62" r="2.65"/><circle cx="563.75" cy="199.37" r="2.65"/><circle cx="557.51" cy="200.18" r="2.65"/><circle cx="553.81" cy="200.73" r="2.65"/><circle cx="566.10" cy="201.23" r="2.65"/><circle cx="560.07" cy="201.76" r="2.65"/><circle cx="551.16" cy="202.14" r="2.65"/><circle cx="556.82" cy="203.10" r="2.65"/><circle cx="562.55" cy="203.45" r="2.65"/><circle cx="553.94" cy="203.92" r="2.65"/><circle cx="559.50" cy="204.82" r="2.65"/><circle cx="564.99" cy="205.19" r="2.65"/><circle cx="551.61" cy="205.82" r="2.65"/><circle cx="556.79" cy="206.11" r="2.65"/><circle cx="561.50" cy="207.05" r="2.65"/><circle cx="554.23" cy="207.67" r="2.65"/><circle cx="565.83" cy="208.07" r="2.65"/><circle cx="559.07" cy="208.81" r="2.65"/><circle cx="551.68" cy="209.24" r="2.65"/><circle cx="562.34" cy="209.93" r="2.65"/><circle cx="556.57" cy="210.47" r="2.65"/><circle cx="566.52" cy="210.99" r="2.65"/><circle cx="559.50" cy="211.96" r="2.65"/><circle cx="554.27" cy="212.39" r="2.65"/><circle cx="562.21" cy="213.26" r="2.65"/><circle cx="551.48" cy="213.50" r="2.65"/><circle cx="557.45" cy="214.15" r="2.65"/><circle cx="564.63" cy="215.02" r="2.65"/><circle cx="559.99" cy="215.76" r="2.65"/><circle cx="555.20" cy="216.13" r="2.65"/><circle cx="552.29" cy="216.85" r="2.65"/><circle cx="557.86" cy="217.86" r="2.65"/><circle cx="561.71" cy="218.22" r="2.65"/><circle cx="554.64" cy="219.08" r="2.65"/><circle cx="563.89" cy="220.27" r="2.65"/><circle cx="559.50" cy="221.07" r="2.65"/><circle cx="556.60" cy="221.84" r="2.65"/><circle cx="553.65" cy="222.37" r="2.65"/><circle cx="560.98" cy="223.68" r="2.65"/><circle cx="563.93" cy="224.23" r="2.65"/><circle cx="558.51" cy="225.39" r="2.65"/><circle cx="555.59" cy="226.08" r="2.65"/><circle cx="560.67" cy="227.47" r="2.65"/><circle cx="563.60" cy="228.10" r="2.65"/><circle cx="558.25" cy="229.24" r="2.65"/><circle cx="560.96" cy="230.52" r="2.65"/><circle cx="557.24" cy="232.06" r="2.65"/><circle cx="562.21" cy="233.24" r="2.65"/><circle cx="559.50" cy="235.30" r="2.65"/><circle cx="561.55" cy="237.49" r="2.65"/><circle cx="559.50" cy="240.38" r="2.65"/><circle cx="559.50" cy="244.70" r="2.65"/><circle cx="559.50" cy="248.91" r="2.65"/><circle cx="559.50" cy="254.00" r="2.65"/><circle cx="559.50" cy="258.90" r="2.65"/><circle cx="590.00" cy="93.40" r="2.65"/><circle cx="590.00" cy="98.60" r="2.65"/><circle cx="590.00" cy="103.80" r="2.65"/><circle cx="590.00" cy="109.00" r="2.65"/><circle cx="590.00" cy="114.20" r="2.65"/><circle cx="590.00" cy="119.40" r="2.65"/><circle cx="590.00" cy="124.60" r="2.65"/><circle cx="590.00" cy="129.80" r="2.65"/><circle cx="590.00" cy="135.00" r="2.65"/><circle cx="590.00" cy="139.76" r="2.65"/><circle cx="592.71" cy="142.13" r="2.65"/><circle cx="588.67" cy="143.11" r="2.65"/><circle cx="585.44" cy="144.69" r="2.65"/><circle cx="591.12" cy="145.74" r="2.65"/><circle cx="594.64" cy="146.49" r="2.65"/><circle cx="582.95" cy="147.29" r="2.65"/><circle cx="588.27" cy="147.95" r="2.65"/><circle cx="597.36" cy="148.84" r="2.65"/><circle cx="591.39" cy="149.75" r="2.65"/><circle cx="586.10" cy="150.82" r="2.65"/><circle cx="594.51" cy="151.54" r="2.65"/><circle cx="582.86" cy="152.37" r="2.65"/><circle cx="590.00" cy="153.29" r="2.65"/><circle cx="586.67" cy="154.66" r="2.65"/><circle cx="592.85" cy="155.49" r="2.65"/><circle cx="596.29" cy="156.53" r="2.65"/><circle cx="590.00" cy="157.93" r="2.65"/><circle cx="593.40" cy="159.11" r="2.65"/><circle cx="587.58" cy="160.60" r="2.65"/><circle cx="584.11" cy="161.56" r="2.65"/><circle cx="590.25" cy="163.01" r="2.65"/><circle cx="586.82" cy="164.12" r="2.65"/><circle cx="592.86" cy="165.49" r="2.65"/><circle cx="589.44" cy="166.65" r="2.65"/><circle cx="586.23" cy="168.28" r="2.65"/><circle cx="591.47" cy="169.62" r="2.65"/><circle cx="588.36" cy="171.44" r="2.65"/><circle cx="592.15" cy="173.16" r="2.65"/><circle cx="589.44" cy="175.53" r="2.65"/><circle cx="592.12" cy="177.92" r="2.65"/><circle cx="590.00" cy="181.24" r="2.65"/><circle cx="590.80" cy="184.75" r="2.65"/><circle cx="590.00" cy="188.38" r="2.65"/><circle cx="588.70" cy="191.74" r="2.65"/><circle cx="590.00" cy="195.36" r="2.65"/><circle cx="589.02" cy="198.82" r="2.65"/><circle cx="590.50" cy="202.10" r="2.65"/><circle cx="590.00" cy="205.94" r="2.65"/><circle cx="590.00" cy="210.28" r="2.65"/><circle cx="590.00" cy="214.21" r="2.65"/><circle cx="590.00" cy="218.75" r="2.65"/><circle cx="590.00" cy="222.97" r="2.65"/><circle cx="590.00" cy="229.50" r="2.65"/><circle cx="590.00" cy="233.00" r="2.65"/><circle cx="620.00" cy="120.20" r="2.65"/><circle cx="618.30" cy="157.60" r="2.65"/><circle cx="620.00" cy="160.50" r="2.65"/><circle cx="620.00" cy="165.30" r="2.65"/><circle cx="619.36" cy="209.37" r="2.65"/><circle cx="615.19" cy="211.59" r="2.65"/><circle cx="621.32" cy="194.85" r="2.65"/><circle cx="620.85" cy="200.19" r="2.65"/><circle cx="619.75" cy="253.46" r="2.65"/><circle cx="620.67" cy="188.73" r="2.65"/><circle cx="620.33" cy="182.24" r="2.65"/><circle cx="623.98" cy="221.55" r="2.65"/><circle cx="624.68" cy="215.73" r="2.65"/><circle cx="618.95" cy="203.26" r="2.65"/><circle cx="618.86" cy="244.54" r="2.65"/><circle cx="621.59" cy="229.15" r="2.65"/><circle cx="618.98" cy="248.62" r="2.65"/><circle cx="621.43" cy="233.47" r="2.65"/><circle cx="619.95" cy="240.98" r="2.65"/><circle cx="620.12" cy="220.60" r="2.65"/><circle cx="615.50" cy="218.68" r="2.65"/><circle cx="617.23" cy="224.35" r="2.65"/><circle cx="618.33" cy="237.27" r="2.65"/><circle cx="618.68" cy="213.12" r="2.65"/><circle cx="625.39" cy="206.62" r="2.65"/><circle cx="618.28" cy="197.33" r="2.65"/><circle cx="621.28" cy="217.03" r="2.65"/><circle cx="615.13" cy="206.88" r="2.65"/><circle cx="618.01" cy="191.70" r="2.65"/><circle cx="623.20" cy="210.82" r="2.65"/><circle cx="616.58" cy="228.27" r="2.65"/><circle cx="620.15" cy="178.17" r="2.65"/><circle cx="622.72" cy="203.97" r="2.65"/><circle cx="620.82" cy="225.49" r="2.65"/><circle cx="616.82" cy="231.97" r="2.65"/><circle cx="622.59" cy="237.34" r="2.65"/><circle cx="618.34" cy="185.48" r="2.65"/><circle cx="616.19" cy="200.75" r="2.65"/><circle cx="650.00" cy="99.70" r="2.65"/><circle cx="650.00" cy="104.70" r="2.65"/><circle cx="650.00" cy="109.70" r="2.65"/><circle cx="650.00" cy="114.70" r="2.65"/><circle cx="650.00" cy="119.70" r="2.65"/><circle cx="650.00" cy="124.70" r="2.65"/><circle cx="650.00" cy="129.01" r="2.65"/><circle cx="647.81" cy="131.06" r="2.65"/><circle cx="650.37" cy="132.62" r="2.65"/><circle cx="647.74" cy="134.06" r="2.65"/><circle cx="652.45" cy="134.78" r="2.65"/><circle cx="645.57" cy="136.13" r="2.65"/><circle cx="650.00" cy="136.76" r="2.65"/><circle cx="653.71" cy="137.50" r="2.65"/><circle cx="643.57" cy="138.36" r="2.65"/><circle cx="648.05" cy="139.04" r="2.65"/><circle cx="650.97" cy="139.71" r="2.65"/><circle cx="654.03" cy="140.49" r="2.65"/><circle cx="645.78" cy="141.01" r="2.65"/><circle cx="656.85" cy="141.51" r="2.65"/><circle cx="642.92" cy="141.90" r="2.65"/><circle cx="650.00" cy="142.63" r="2.65"/><circle cx="659.34" cy="143.18" r="2.65"/><circle cx="652.54" cy="144.23" r="2.65"/><circle cx="648.02" cy="144.88" r="2.65"/><circle cx="645.03" cy="145.13" r="2.65"/><circle cx="654.99" cy="145.95" r="2.65"/><circle cx="642.17" cy="146.04" r="2.65"/><circle cx="650.02" cy="147.11" r="2.65"/><circle cx="657.70" cy="147.24" r="2.65"/><circle cx="647.26" cy="148.29" r="2.65"/><circle cx="652.51" cy="148.79" r="2.65"/><circle cx="655.41" cy="149.53" r="2.65"/><circle cx="644.77" cy="149.96" r="2.65"/><circle cx="649.96" cy="150.37" r="2.65"/><circle cx="641.87" cy="150.75" r="2.65"/><circle cx="657.74" cy="151.41" r="2.65"/><circle cx="652.25" cy="152.31" r="2.65"/><circle cx="648.20" cy="152.80" r="2.65"/><circle cx="645.21" cy="153.00" r="2.65"/><circle cx="654.69" cy="154.06" r="2.65"/><circle cx="642.48" cy="154.25" r="2.65"/><circle cx="650.43" cy="154.80" r="2.65"/><circle cx="647.70" cy="156.04" r="2.65"/><circle cx="652.80" cy="156.65" r="2.65"/><circle cx="644.83" cy="156.92" r="2.65"/><circle cx="655.53" cy="157.88" r="2.65"/><circle cx="650.00" cy="158.23" r="2.65"/><circle cx="642.59" cy="158.91" r="2.65"/><circle cx="652.45" cy="159.97" r="2.65"/><circle cx="647.89" cy="160.37" r="2.65"/><circle cx="644.97" cy="161.05" r="2.65"/><circle cx="650.17" cy="162.32" r="2.65"/><circle cx="653.11" cy="162.91" r="2.65"/><circle cx="647.59" cy="163.86" r="2.65"/><circle cx="644.75" cy="164.82" r="2.65"/><circle cx="650.05" cy="165.59" r="2.65"/><circle cx="652.99" cy="166.17" r="2.65"/><circle cx="647.52" cy="167.21" r="2.65"/><circle cx="650.17" cy="168.62" r="2.65"/><circle cx="653.03" cy="169.51" r="2.65"/><circle cx="647.77" cy="170.42" r="2.65"/><circle cx="650.35" cy="171.95" r="2.65"/><circle cx="647.01" cy="173.32" r="2.65"/><circle cx="652.34" cy="174.20" r="2.65"/><circle cx="649.84" cy="175.85" r="2.65"/><circle cx="652.29" cy="177.57" r="2.65"/><circle cx="649.20" cy="178.78" r="2.65"/><circle cx="651.26" cy="180.95" r="2.65"/><circle cx="648.94" cy="182.85" r="2.65"/><circle cx="650.43" cy="185.45" r="2.65"/><circle cx="648.79" cy="187.96" r="2.65"/><circle cx="650.00" cy="192.12" r="2.65"/><circle cx="650.00" cy="196.23" r="2.65"/><circle cx="650.00" cy="208.40" r="2.65"/><circle cx="650.00" cy="220.40" r="2.65"/><circle cx="650.00" cy="225.30" r="2.65"/><circle cx="650.00" cy="228.90" r="2.65"/><circle cx="680.00" cy="113.40" r="2.65"/><circle cx="678.80" cy="148.00" r="2.65"/><circle cx="680.00" cy="154.00" r="2.65"/><circle cx="683.50" cy="199.25" r="2.65"/><circle cx="676.05" cy="207.06" r="2.65"/><circle cx="677.46" cy="233.91" r="2.65"/><circle cx="679.85" cy="177.67" r="2.65"/><circle cx="676.46" cy="194.22" r="2.65"/><circle cx="681.73" cy="196.03" r="2.65"/><circle cx="676.75" cy="224.09" r="2.65"/><circle cx="678.09" cy="199.84" r="2.65"/><circle cx="677.06" cy="175.38" r="2.65"/><circle cx="680.95" cy="245.41" r="2.65"/><circle cx="678.73" cy="209.99" r="2.65"/><circle cx="677.32" cy="230.30" r="2.65"/><circle cx="681.13" cy="237.68" r="2.65"/><circle cx="679.53" cy="167.51" r="2.65"/><circle cx="683.23" cy="181.53" r="2.65"/><circle cx="679.34" cy="185.56" r="2.65"/><circle cx="678.76" cy="213.75" r="2.65"/><circle cx="679.70" cy="171.88" r="2.65"/><circle cx="683.70" cy="189.51" r="2.65"/><circle cx="676.44" cy="181.59" r="2.65"/><circle cx="678.43" cy="220.73" r="2.65"/><circle cx="683.66" cy="210.95" r="2.65"/><circle cx="680.78" cy="224.45" r="2.65"/><circle cx="679.93" cy="241.62" r="2.65"/><circle cx="681.29" cy="202.30" r="2.65"/><circle cx="683.73" cy="217.54" r="2.65"/><circle cx="680.21" cy="206.34" r="2.65"/><circle cx="679.96" cy="192.08" r="2.65"/><circle cx="681.97" cy="231.94" r="2.65"/><circle cx="683.61" cy="185.68" r="2.65"/></g>
<rect x="494.00" y="152" width="11.60" height="6.00" fill="#a9a9a9"/>
<g stroke="#a9a9a9" stroke-width="1.9" fill="none"><line x1="520.3" y1="181.1" x2="539.7" y2="181.1"/><line x1="530" y1="172.7" x2="530" y2="189.8"/><line x1="525" y1="172.7" x2="535" y2="172.7"/><line x1="525" y1="189.8" x2="535" y2="189.8"/></g>
<g stroke="#a9a9a9" stroke-width="1.9" fill="none"><line x1="550.9" y1="205" x2="569.1" y2="205"/><line x1="560" y1="202.5" x2="560" y2="207.5"/><line x1="556" y1="202.5" x2="564" y2="202.5"/><line x1="556" y1="207.5" x2="564" y2="207.5"/></g>
<g stroke="#a9a9a9" stroke-width="1.9" fill="none"><line x1="580.3" y1="166.4" x2="599.7" y2="166.4"/><line x1="590" y1="161.4" x2="590" y2="173.9"/><line x1="585" y1="161.4" x2="595" y2="161.4"/><line x1="585" y1="173.9" x2="595" y2="173.9"/></g>
<g stroke="#a9a9a9" stroke-width="1.9" fill="none"><line x1="610.3" y1="208.4" x2="629.7" y2="208.4"/><line x1="620" y1="202.3" x2="620" y2="218"/><line x1="615" y1="202.3" x2="625" y2="202.3"/><line x1="615" y1="218" x2="625" y2="218"/></g>
<g stroke="#a9a9a9" stroke-width="1.9" fill="none"><line x1="640.1" y1="152.9" x2="659.6999999999999" y2="152.9"/><line x1="649.9" y1="150.2" x2="649.9" y2="156.5"/><line x1="644.3" y1="150.2" x2="655.5" y2="150.2"/><line x1="644.3" y1="156.5" x2="655.5" y2="156.5"/></g>
<g stroke="#a9a9a9" stroke-width="1.9" fill="none"><line x1="670" y1="202.3" x2="690" y2="202.3"/><line x1="680" y1="190.2" x2="680" y2="214.4"/><line x1="675" y1="190.2" x2="685" y2="190.2"/><line x1="675" y1="214.4" x2="685" y2="214.4"/></g>
<line x1="481" y1="154.8" x2="703.3" y2="154.8" stroke="rgba(242,52,42,0.6)" stroke-width="1.9" stroke-dasharray="7.8 2.5"/>
<text x="164.5" y="697" font-size="15" font-weight="normal" font-style="normal" text-anchor="middle" fill="#000" >WT Mean length = 49.3 um</text>
<text x="453.4" y="699.6" font-size="15.2" font-weight="normal" font-style="normal" text-anchor="middle" fill="#000" >WT Mean width = 31.7 um</text>
</svg>
</body></html>
